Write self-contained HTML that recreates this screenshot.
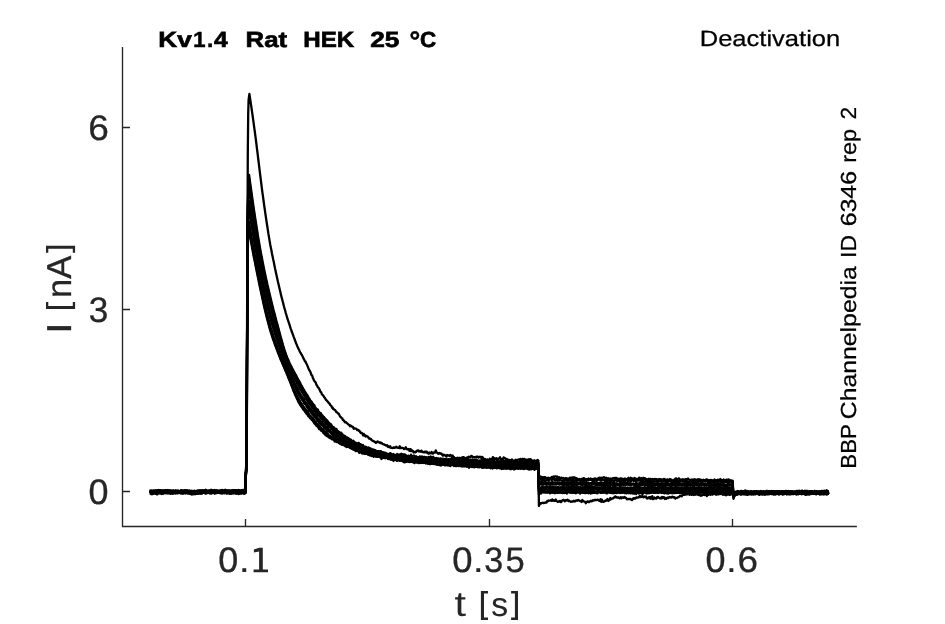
<!DOCTYPE html>
<html><head><meta charset="utf-8"><title>Kv1.4 Deactivation</title>
<style>
html,body{margin:0;padding:0;background:#fff;}
body{width:945px;height:624px;overflow:hidden;font-family:"Liberation Sans",sans-serif;}
svg{display:block;will-change:transform;}
svg text{font-family:"Liberation Sans",sans-serif;text-rendering:geometricPrecision;}
</style></head>
<body>
<svg width="945" height="624" viewBox="0 0 945 624">
<rect width="945" height="624" fill="#fff"/>
<g fill="none" stroke="#000" stroke-width="2.05" stroke-linejoin="round" stroke-linecap="butt">
<path stroke-width="2.3" d="M149.7 491.2l.7-.2l.7-.3l.7 .4l.7 .1l.7-.8l.7 .4l.7-.4l.7 .1l.7-.3l.7 .7l.7-.4l.7 .5l.7 0l.7 0l.7-.9l.7 .7l.7 .3l.7-.1l.7-.6l.7 .5l.7-.1l.7 .2l.7 .5l.7-.5l.7 .3l.7 .4l.7-.6l.7 .1l.7 .1l.7 .2l.7-.5l.7 .5l.7 .4l.7-1l.7 .9l.7-.2l.7 0l.7 .7l.7-.4l.7-.7l.7 .5l.7 .3l.7-.2l.7 .1l.7-.4l.7 .2l.7 .3l.7-.9l.7 .4l.7-.5l.7-.1l.7-.6l.7 .3l.7 .3l.7 .4l.7 .2l.7-.9l.7 .2l.7 .7l.7-.8l.7 .6l.7 .2l.7 .6l.7-.4l.7-.4l.7-.1l.7-.1l.7 .6l.7-.7l.7-.1l.7 .3l.7-.1l.7-.1l.7-.2l.7 .5l.7-.1l.7 .4l.7-.1l.7-.2l.7 .2l.7-.6l.7 .6l.7-.3l.7 .2l.7-.9l.7 .7l.7-.9l.7-.5l.7 .6l.7-.1l.7 .4l.7 .5l.7-1.2l.7 .4l.7 .4l.7 .3l.7 .1l.7 0l.7 .3l.7 0l.7-.5l.7 .4l.7 0l.7-.5l.7 .6l.7-.6l.7 .7l.7-.4l.7-.2l.7-.1l.7 .4l.7-.8l.7 .5l.7 .5l.7-1.1l.7 1.1l.7-.9l.7 1l.7-.8l.7 .4l.7-.2l.7-.5l.7 .9l.7 .4l.7-.4l.7-.2l.7 0l.7-.3l.7 .9l.7-.5l.7 .2l.7-.3l.7 .1l.7-.4l.7 1l.7-.5l.7 .6l0-18l.8-12l.4-17.9l.2-71.6l.4-119.4l.4-99.5l.4-39.8l.4-13.9l.8-6l.4 2.8l.6 3.9l.6 4l.6 4l.6 4.2l.6 4.3l.6 4.3l.6 4.4l.6 4.3l.6 4.6l.6 4.5l.6 4.8l.6 4.9l.6 4.8l.6 4.8l.6 4.8l.6 5.1l.6 4.9l.6 4.9l.6 4.7l.6 4.9l.6 4.5l.6 4.4l.6 4.3l.6 4.6l.6 4l.6 4.2l.6 4l.6 4.2l.6 3.8l.6 3.8l.6 4.1l.6 3.4l.6 3.8l.6 3.5l.6 3l.6 2.9l.6 3.4l.6 2.9l.6 3l.6 2.5l.6 3.1l.6 3.1l.6 2.7l.6 2.7l.6 2.7l.6 2.8l.6 2.8l.6 2.5l.6 2.6l.6 2.6l.6 2.4l.6 2.8l.6 2.3l.6 2.3l.6 2.2l.6 2.4l.6 2.5l.6 2.1l.6 2l.6 2.4l.6 1.9l.6 2.1l.6 2.1l.6 1.6l.6 1.8l.6 1.7l.6 2l.6 2l.6 1.6l.6 1.9l.6 1.4l.6 1.6l.6 1.8l.6 1.6l.6 1.5l.6 1.6l.6 1.9l.6 1.1l.6 1.7l.6 1.2l.6 1.5l.6 .9l.6 1.6l.6 1.1l.6 .9l.6 1.2l.6 .8l.6 1.2l.6 1.5l.6 1l.6 1.2l.6 1.4l.6 .2l.6 1.5l.6 1.1l.6 1.4l.6 1.3l.6 1.8l.6 1.2l.6 .9l.6 1.1l.6 1.7l.6 1.5l.6 .3l.6 2.3l.6 1l.6 1.8l.6 .7l.6 .7l.6 .7l.6 2.1l.6 .5l.6 1.6l.6 .6l.6 .6l.6 1.1l.6 1.4l.6 1.4l.6 .3l.6 1.8l.6 .8l.6 .4l.6 .8l.6 1.1l.6 .6l.6 1l.6 1.1l.6 .5l.6 .6l.6 .7l.6 .9l.6 .7l.6 .2l.6 1.6l.6 .4l.6 .4l.6 1.8l.6-.3l.6 1.7l.6 0l.6 .7l.6 .3l.6 .7l.6 1.3l.6 0l.6 .7l.6 .7l.6 .2l.6 1l.6 1.1l.6 1l.6 .4l.6 .9l.6 .2l.6 1.5l.6 .2l.6 .8l.6 1l.6 .6l.6-.4l.6 .7l.6 .6l.6 .3l.6 .8l.6 .3l.6 .3l.6 1.4l.6-1l.6 .8l.6 0l.6 .7l.6 0l.6 1.8l.6-.7l.6 .6l.6 0l.6 0l.6 .4l.6 1.1l.6-.3l.6 0l.6 1.1l.6 0l.6 1.4l.6 .7l.6-.3l.6 .3l.6 1l.6 1.5l.6-1.6l.6 1.7l.6-.4l.6 1.3l.6-.7l.6 .6l.6-.1l.6 .5l.6 1.2l.6 .6l.6-.1l.6 .5l.6 0l.6 1.2l.6 .2l.6 .5l.6 .3l.6 0l.6 .7l.6-.1l.6 1l.6-.2l.6-.6l.6-.5l.6 .4l.6 .2l.6 .5l.6 .3l.6-.5l.6 .9l.6-.3l.6 .6l.6 .5l.6 .2l.6 .1l.6 .5l.6 .2l.6 .5l.6-.1l.6-.3l.6 1.6l.6-.5l.6 .9l.6 .2l.6-1.2l.6 1.5l.6 .1l.6 .1l.6 .1l.6-.3l.6-.3l.6 .5l.6-.6l.6 .2l.6-.8l.6 .8l.6-.1l.6 .4l.6-.1l.6 .4l.6-1.8l.6 1.6l.6 .2l.6-.2l.6 0l.6-.1l.6 .5l.6 .9l.6-.2l.6-.7l.6-1l.6 1.1l.6 .9l.6 .1l.6-.2l.6-.2l.6 1.9l.6-.7l.6-1.1l.6 2l.6-.8l.6 .4l.6 .5l.6 1.3l.6-.7l.6 0l.6 .6l.6-.4l.6-1.2l.6 .2l.6-.7l.6 .1l.6 1.1l.6-.3l.6-.1l.6 .7l.6-1.2l.6 .9l.6 .6l.6-.2l.6 .5l.6-.3l.6-.6l.6 .9l.6-.6l.6-.2l.6 1.4l.6 .3l.6 .3l.6-1.1l.6 .9l.6-.1l.6-.3l.6-1l.6 1.5l.6 .2l.6-.8l.6-.5l.6 .3l.6-.1l.6-2.2l.6 1.7l.6 .6l.6 .3l.6 .8l.6-.2l.6-.6l.6 .2l.6 .6l.6-.4l.6 .7l.6 1l.6 .6l.6-1l.6 .1l.6 .3l.6 .7l.6-.2l.6 .9l.6-1.5l.6 .3l.6 0l.6 .3l.6 .5l.6-1.2l.6 .3l.6 .7l.6-.2l.6-.2l.6 1.3l.6 .1l.6 1l.6-.1l.6 1.3l.6-.6l.6 .7l.6-1.4l.6 .2l.6 .8l.6-1.1l.6 .8l.6-.2l.6-.4l.6-.1l.6-.5l.6 .8l.6-.9l.6 .2l.6 1l.6 .7l.6-.4l.6-1.1l.6 .2l.6 .8l.6-1.6l.6-.4l.6 .7l.6 .3l.6-.9l.6-.7l.6-.1l.6 1.2l.6-.2l.6 .2l.6 0l.6 .3l.6-.4l.6 .4l.6-.8l.6 .3l.6-.3l.6 1l.6-.3l.6-.4l.6-.2l.6 .6l.6 .8l.6-1.2l.6 .3l.6 .8l.6 2l.6-.7l.6-.3l.6 .8l.6 .9l.6-1l.6-.3l.6 1l.6-.6l.6-.2l.6-.9l.6 1.1l.6-.3l.6-.7l.6 0l.6-1.6l.6 1.6l.6-.8l.6 .8l.6 .1l.6-.4l.6-.4l.6 1.6l.6-.7l.6 .1l.6-.6l.6-.3l.6-.9l.6 2.2l.6-.7l.6 .6l.6 .9l.6-1.4l.6-1.5l.6 .5l.6 .2l.6 .7l.6 .9l.6-.8l.6 1.4l.6-.8l.6 1.5l.6-.7l.6-.3l.6 .3l.6-.2l.6 .2l.6-.8l.6 .7l.6 1.2l.6 0l.6-.6l.6-.4l.6-.7l.6 1.6l.6-1.3l.6-.2l.6-.1l.6-.2l.6-.2l.6 .7l.6-1l.6 .1l.6 1.9l.6-1.6l.6-.6l.6 .5l.6 .7l.6-1.1l.6 .8l.6 .8l.6-.6l.6-.3l.6 1.1l.6-1.2l.6 .1l.6-.3l.6 2l.6-2.2l.6 1l.6 .2l.6 .5l.6 .2l.6 .9l.6-1.6l.6 1.3l.6-.6l.6-.4l.6 .9l.6-1.3l.6-.3l.6 .8l.5 45.3l.7-1.4l.7-1.5l.7 .5l.7-.5l.7-.4l.7 .3l.7 0l.7-.1l.7-.4l.7-.1l.7 .2l.7-1.7l.7 .4l.7-.8l.7 .2l.7 0l.7-.5l.7 .6l.7-1.4l.7 1.4l.7-.6l.7 .6l.7 .1l.7-1.4l.7 1.2l.7 .7l.7 .6l.7-.7l.7 .3l.7-.7l.7 1.1l.7 0l.7-1.4l.7-.2l.7-.7l.7 .7l.7 1l.7-1.1l.7 .3l.7-.5l.7-.4l.7 1.3l.7-.6l.7 .8l.7 .3l.7 .4l.7-.5l.7 .3l.7-.4l.7-.6l.7 .8l.7-.2l.7-.8l.7 0l.7 .3l.7-.8l.7 .3l.7 .3l.7 .6l.7 .1l.7 .7l.7-2l.7 .7l.7 .7l.7 .2l.7 .2l.7 1.4l.7-1.4l.7-.2l.7-.3l.7 .9l.7 0l.7-1l.7-.4l.7 .5l.7-.2l.7-1l.7 .5l.7-.2l.7-.7l.7 .4l.7 .1l.7-.3l.7-.3l.7 .6l.7 .5l.7 .3l.7-1.8l.7 2.6l.7-2.1l.7 1.6l.7 .6l.7-.3l.7-.3l.7-.9l.7 .4l.7-.8l.7-1.1l.7 2.1l.7-1l.7 .1l.7-2.1l.7 1.2l.7-.5l.7 0l.7-.5l.7-.7l.7 .2l.7-1.3l.7 .3l.7 .8l.7 0l.7-.1l.7 .1l.7 .8l.7-.2l.7-1l.7 1.1l.7-.9l.7 0l.7 .5l.7-.9l.7 .7l.7 0l.7 .9l.7 .9l.7-.5l.7 .2l.7-.1l.7 .1l.7-.1l.7 .8l.7 .3l.7-1l.7-.9l.7 .5l.7-.7l.7 .6l.7-1.1l.7 0l.7 .2l.7-.5l.7 .1l.7-1.3l.7 1l.7-.7l.7 .7l.7-.9l.7 1.1l.7 .2l.7-.9l.7 .2l.7-.2l.7 1.8l.7 .2l.7-.5l.7-.8l.7 1l.7-1.3l.7 1.9l.7-1.4l.7-1.2l.7 3l.7-.8l.7-.9l.7 1l.7-.4l.7 .4l.7-1.4l.7-.3l.7 .9l.7 .1l.7 .7l.7-.8l.7 .8l.7-1.6l.7 1.1l.7-.9l.7 .3l.7 1.6l.7-1l.7 .8l.7-1l.7-.3l.7 .5l.7-.5l.7-.5l.7 .3l.7 .3l.7-.7l.7-.2l.7 .8l.7-.4l.7 .4l.7 1l.7-.6l.7-.1l.7-.1l.7-.6l.7-.1l.7-.7l.7-.5l.7 .3l.7 .2l.7-1l.7-.5l.7-1.1l.7 1.1l.7-.6l.7 .3l.7-.9l.7 .8l.7-1.2l.7 .4l.7 1.1l.7-1.6l.7 1.1l.7 .7l.7-.7l.7 .2l.7 .6l.7-.9l.7 .7l.7-.4l.7-.1l.7 .2l.7 .3l.7-.2l.7 .5l.7-.9l.7 1.6l.7-.3l.7-.1l.7-.8l.7 .3l.7 0l.7 .1l.7-.8l.7 .9l.7 .9l.7-2.3l.7 1.2l.7-.5l.7-.1l.7 .5l.7-1.2l.7 .5l.7 .5l.7-.7l.7-.2l.7 .3l.7-.3l.7 1l.7-1.3l.7 .9l.7-1l.7 1l.7-.4l.7-1.2l.7 1.4l.7-.5l.7 .3l.7 .9l.7-1.1l.7 .1l.7 1.2l.7-.6l.7 .8l.7-.6l.7-.7l.7 .4l.7 .6l.7 0l.7-.6l.7 .1l.7-.2l.7-.1l.7 1.4l.7-1.7l.7-.8l.7 .6l.7-.9l.7 .3l.7-1l.7 .3l.7 0l.7 .7l.7-1l.7 .5l.7-.2l.7-.6l.7 0l.7 .1l.7-.8l.7 .7l.7 0l.7-.1l.7-.5l.7 1.1l.7-.3l.7 .4l.7 .1l.7-.8l.7 .7l.7-.4l.7 0l.7 0l.7-.1l.7 .5l.7-.1l.7-.1l.7 .2l.7 .4l.7-.4l.7 .4l.7 .1l.7-.4l.7-.1l.7-.4l.7 1l.7-.1l.7-.6l.7-.2l.7 .5l.7-.6l.7-.3l.7 .3l.7-.1l.7 .3l.7-.7l.7 .8l.7-1.2l.7 .5l.7-.3l.7 1l.7-.6l.7 .3l.7 .3l.7 0l.7-.6l.7 .6l.7-.3l.7 .2l.7 .2l.7-.2l.7 .1l.7 0l.7 .1l.7 .2l.7 .4l.7-1.2l.7 .4l.7-.2l.7 .2l.7-.5l.7 .3l.7-.4l.7 .9l.7-.3l.7 0l.7 .6l.7-.2l.7-.5l.7 .6l.7-.1l.7-.3l.7 .5l.7-.2l.7-.7l.7 .1l.7 .7l.7-.1l.7-.8l.7-.1l.7 .4l.7 0l.7-.1l.7 .3l.7-.5l.7-.2l.7 1l.7-.6l.7 .1l.7 .3l.7 .2l.7-.9l.7 .2l.7-.5l.7 1.2l.7-.2l.7-.7l.7 .5l.7 .1l.7-.2l.7 .9l.7 0l.7-.6l.7 .2l.7-.8l.7 .6l.7 .1l.7 1.1l.7-1.1l.7-1l.7 .3l.7 .4l.7-.5l.7 .1l.7 .2l.7 .2l.7-.2l.7-.1l.7 .8l.7-.3"/>
<path d="M149.7 491.9l.7-.2l.7 .7l.7-.1l.7 .4l.7-.8l.7 1.1l.7-.1l.7-.2l.7-.1l.7 .1l.7-.3l.7 .3l.7 .2l.7 0l.7-.5l.7 .5l.7-.1l.7 .5l.7 .5l.7-.5l.7-.3l.7-.5l.7 0l.7 .1l.7 .9l.7-.5l.7 .2l.7 .1l.7 .3l.7 .4l.7-.7l.7 0l.7-.5l.7 .6l.7-.7l.7-.1l.7-.4l.7-.2l.7 .6l.7 .6l.7-1l.7 .9l.7 0l.7-.4l.7 .2l.7 .1l.7-.4l.7 .9l.7-1.2l.7 .8l.7 0l.7-.6l.7 .2l.7 .5l.7 0l.7 .4l.7 .2l.7-1l.7 1.5l.7 .4l.7-.3l.7-.1l.7-.9l.7 .2l.7-.2l.7 0l.7 .6l.7-.9l.7 .1l.7-.8l.7 .7l.7 0l.7-.3l.7 0l.7 .9l.7-1.1l.7 0l.7-.1l.7 .8l.7 .2l.7-.5l.7-.3l.7-.1l.7 .4l.7-.8l.7 .8l.7 .1l.7-.5l.7 .2l.7 .1l.7 .2l.7-.8l.7 .8l.7-.5l.7 0l.7 .5l.7-.3l.7-.3l.7-.3l.7 .3l.7 .8l.7 .2l.7-.4l.7 .4l.7-.7l.7 .3l.7 .2l.7-.7l.7 0l.7 .3l.7 .1l.7-.3l.7 .2l.7-.3l.7 .5l.7-.5l.7 .2l.7 0l.7-.1l.7-.2l.7 .3l.7 .5l.7 .1l.7 .3l.7-.9l.7 .6l.7 .2l.7 .3l.7-.3l.7-.2l.7 .4l.7-.2l.7-.7l.7 .6l.7-.3l.7-.9l.4-12.1l.7-7.9l.4-11.7l.2-47l.4-78.2l.4-65.3l.4-26.1l.5-9.1l.7-3.9l.4 2.3l.6 3.6l.6 3.4l.6 3.1l.6 3.5l.6 3.2l.6 3.2l.6 3.2l.6 2.9l.6 3l.6 3l.6 3l.6 3.1l.6 2.8l.6 3l.6 3.1l.6 2.8l.6 3l.6 2.6l.6 3l.6 2.8l.6 2.8l.6 2.7l.6 2.9l.6 2.5l.6 2.7l.6 2.5l.6 2.6l.6 2.4l.6 2.6l.6 2.2l.6 2.3l.6 2.2l.6 2.3l.6 2.1l.6 2l.6 1.9l.6 2l.6 1.8l.6 1.9l.6 1.6l.6 1.5l.6 2l.6 1.6l.6 1.5l.6 1.6l.6 1.5l.6 1.9l.6 1.4l.6 1.3l.6 1.8l.6 1.4l.6 1.7l.6 1.1l.6 1.3l.6 1.7l.6 1.3l.6 1.4l.6 1.1l.6 1.8l.6 1.5l.6 .9l.6 1.8l.6 1.3l.6 1.8l.6 1.3l.6 1.4l.6 1.7l.6 1.5l.6 1.4l.6 1.7l.6 1.4l.6 1.4l.6 1.9l.6 1.3l.6 1.4l.6 1.6l.6 1.1l.6 1.4l.6 1.4l.6 1.2l.6 1.3l.6 1.4l.6 .6l.6 1.3l.6 1l.6 .4l.6 1.3l.6 .6l.6 1.4l.6 .7l.6 .7l.6 .3l.6 1.3l.6 .5l.6 1.2l.6 .5l.6 .5l.6 1.3l.6 .6l.6 .3l.6 1.3l.6 .2l.6 .7l.6 .8l.6 .4l.6 .8l.6 .8l.6 1.3l.6 .7l.6 0l.6 1.4l.6 .1l.6 .8l.6 .9l.6 .4l.6 1.5l.6-.2l.6 .1l.6 1.6l.6-.1l.6 .7l.6-.5l.6 2.2l.6 .5l.6 .5l.6 .6l.6 .9l.6-.3l.6 .9l.6-.2l.6 .6l.6 1.1l.6 .1l.6-.4l.6 1.2l.6 .1l.6 0l.6 1l.6 0l.6-.3l.6 .6l.6 1.7l.6-1.3l.6 1.2l.6 .5l.6 .3l.6-.6l.6 .7l.6 .6l.6 .6l.6-.5l.6 .1l.6 1.3l.6 .4l.6-.1l.6-.3l.6 .8l.6 .1l.6 .7l.6-.9l.6 1l.6 .1l.6-.3l.6 .9l.6 .2l.6 .1l.6 .6l.6-.6l.6 .9l.6 .5l.6 .2l.6 .6l.6-.9l.6 .1l.6 1.1l.6 .4l.6 1.1l.6-.5l.6-.6l.6 1.2l.6-.6l.6-.2l.6 2.4l.6-1.1l.6 .5l.6 .1l.6 .9l.6-.6l.6 .7l.6-1.1l.6 0l.6 1.7l.6 .1l.6-.3l.6 .1l.6 .2l.6-.3l.6 1.3l.6-.4l.6 .1l.6 .1l.6 .5l.6-.1l.6 .3l.6-.8l.6 1l.6 1.1l.6-1.4l.6 .4l.6 .7l.6 .3l.6-.1l.6-1.1l.6 1.3l.6-.8l.6 .3l.6 .8l.6-.4l.6 .8l.6 1.4l.6-1.1l.6 .2l.6-.8l.6 .2l.6-.2l.6 .3l.6-.2l.6 .4l.6 .3l.6-.2l.6-.1l.6 .2l.6 1l.6-.1l.6 .6l.6 .2l.6-.7l.6 .7l.6-.9l.6 2.2l.6-.6l.6-.8l.6-.6l.6 1l.6-1.3l.6 .8l.6 1l.6-.2l.6-.3l.6 .9l.6-1.1l.6 .8l.6-.3l.6-.1l.6 1l.6-.8l.6 1.8l.6-1.3l.6 1.5l.6-1.9l.6 1.2l.6-1l.6 0l.6 .9l.6 .3l.6-1.1l.6 1.3l.6-1.1l.6 .6l.6 0l.6 .2l.6-1.3l.6 2l.6-.7l.6-.5l.6-.3l.6-.3l.6 .2l.6 1.2l.6-.4l.6-.4l.6 .6l.6 1.2l.6-1.1l.6-.2l.6 1.2l.6-.6l.6-.1l.6-.2l.6-.5l.6 .3l.6 .4l.6 0l.6 .4l.6 .3l.6 0l.6 .1l.6-.6l.6-.5l.6 1l.6-.2l.6 .3l.6 .2l.6-.4l.6 .1l.6 .6l.6 .1l.6-.4l.6 .7l.6-.4l.6-.3l.6 .5l.6 1.1l.6-1.3l.6 1.1l.6 .3l.6 0l.6-1.2l.6 1.7l.6-1l.6-.1l.6 0l.6 .5l.6-.3l.6 .1l.6 .8l.6-1.2l.6-.2l.6 1.2l.6-.1l.6 .3l.6-1.3l.6 1.3l.6-.2l.6 .8l.6-1.8l.6 .9l.6-.3l.6-.7l.6 .6l.6 1.2l.6-.8l.6-.2l.6 1l.6 0l.6-.1l.6-1l.6 .5l.6 .7l.6-.8l.6-.2l.6 .9l.6 .4l.6-1.5l.6-.8l.6 .8l.6 .5l.6 .4l.6 .5l.6-.4l.6-.3l.6 .5l.6-.6l.6 .7l.6-.4l.6 2l.6-1l.6-1l.6-.1l.6 .5l.6-.7l.6 .6l.6 0l.6 .9l.6-.7l.6-.3l.6-.3l.6 .1l.6 .6l.6 0l.6 .8l.6-1.1l.6 1.1l.6-.5l.6-.1l.6-1l.6 .5l.6 1.2l.6 .6l.6-.7l.6 .4l.6-.6l.6-.1l.6 0l.6 .9l.6-.2l.6-.4l.6-.1l.6 .6l.6-.1l.6-.8l.6 1.6l.6-.8l.6-.2l.6 1.1l.6-.2l.6-.6l.6 .2l.6-.9l.6 .3l.6-1l.6 2.1l.6-1.8l.6 1.5l.6-.8l.6 0l.6 .4l.6 .3l.6 .2l.6 .8l.6-.8l.6 .4l.6-.9l.6 .8l.6-.3l.6-.3l.6 .1l.6 0l.6 .2l.6 .2l.6-.6l.6-.1l.6 .8l.6-1.4l.6 .7l.6 1.3l.6-2.4l.6 1.2l.6 .8l.6-1.4l.6 2.4l.6-3l.6 2.3l.6-.1l.6-.4l.6-.6l.6 .3l.6-.7l.6 1l.6-1.3l.6 .6l.6 .8l.6-1.2l.6 .5l.6 .4l.6-.8l.6 1.6l.6-.6l.6-.9l.6 .9l.6-.4l.6 .2l.6 .4l.6-.4l.6 1l.6-1.1l.6 1l.6-.6l.6 .7l.6-1l.6-.1l.6-.3l.6 .9l.6 .2l.6 .8l.6-.5l.6-.6l.6-.3l.6 .5l.6-.2l.6 .8l.6-.3l.3 25.8l.7-2.7l.7 .3l.7 1l.7-1.4l.7-.4l.7 .5l.7 .2l.7 0l.7-.1l.7 .1l.7-.1l.7 .1l.7-.4l.7 .3l.7 .1l.7 .9l.7-.7l.7-.2l.7 0l.7-.1l.7 .4l.7-.1l.7 .6l.7-.3l.7-.6l.7-.2l.7 .8l.7-.2l.7-.1l.7-.7l.7-.2l.7 1l.7 .2l.7 .1l.7-1.1l.7 1l.7-.7l.7 .5l.7-.1l.7-.6l.7 .1l.7-.5l.7 .5l.7-.5l.7 1l.7-.1l.7 .3l.7-.4l.7-.3l.7 .6l.7-.4l.7 .2l.7 0l.7-.7l.7 .6l.7 0l.7 0l.7 .7l.7 .4l.7-1.1l.7 0l.7-.7l.7 1l.7 .1l.7-.9l.7 1l.7 .1l.7-.7l.7 .2l.7-.2l.7 1l.7-1.2l.7 .4l.7 1l.7-.9l.7 .4l.7-.3l.7-.4l.7 .5l.7 0l.7-.7l.7 .6l.7 .6l.7-.3l.7-1.3l.7 .2l.7-.4l.7 1.3l.7-.1l.7 .1l.7-.7l.7-.2l.7 .6l.7 .1l.7-.2l.7 .6l.7 .3l.7-.3l.7-.7l.7-.6l.7 .9l.7 .2l.7 0l.7 .1l.7-.3l.7 .7l.7-.5l.7 .1l.7-.5l.7 .3l.7 .4l.7-.7l.7-.5l.7 .3l.7 .5l.7-.6l.7 .8l.7-.8l.7-.1l.7-.4l.7 .4l.7 1l.7-.2l.7 .3l.7 .1l.7-.2l.7-.3l.7 .1l.7 .3l.7-.2l.7-.1l.7-.1l.7-.5l.7 .3l.7-.2l.7 1l.7-1.4l.7 .9l.7 1.3l.7-1.4l.7-.4l.7 .7l.7 .5l.7-.9l.7 .4l.7-.2l.7-.2l.7 1.8l.7-1.5l.7-.3l.7 0l.7 .2l.7 .2l.7 .2l.7-.2l.7-1l.7 .9l.7-.4l.7 .1l.7-.5l.7 .3l.7 0l.7 .1l.7-.4l.7 .6l.7 .1l.7-.7l.7 .2l.7-.3l.7 .9l.7-1.5l.7 1l.7-.6l.7 .3l.7 .8l.7-.8l.7 .3l.7-.4l.7 1.3l.7-.6l.7 .2l.7-1.3l.7 .3l.7 1l.7-.6l.7 .2l.7 .4l.7-.8l.7 1l.7-.3l.7 .2l.7-.6l.7 .6l.7-.7l.7 .6l.7-.1l.7 .1l.7-.2l.7 .1l.7-1.6l.7 1.7l.7-.6l.7 .1l.7 .1l.7-.5l.7 .5l.7 .5l.7 .3l.7-1l.7 0l.7 1.1l.7-1l.7 1.4l.7-1.1l.7-.4l.7 1l.7 .3l.7-1.5l.7 1.3l.7-.9l.7 .9l.7-1l.7-.6l.7 .9l.7 .2l.7 .5l.7-.3l.7-.4l.7-.3l.7-.2l.7 .1l.7-.2l.7 .4l.7-1l.7 1.3l.7-.1l.7 1.2l.7-.9l.7-.6l.7 .5l.7-.9l.7 .4l.7-.7l.7 1.6l.7-.4l.7-.8l.7 .6l.7 .4l.7-.2l.7-.1l.7-.6l.7 .1l.7 .3l.7 .4l.7-.8l.7-.1l.7 1.1l.7-1l.7 1l.7-.5l.7 .3l.7 .5l.7-.5l.7 .1l.7-.9l.7 .1l.7 .6l.7 .4l.7 0l.7 .4l.7-1l.7 0l.7 .3l.7-.4l.7-.1l.7-.5l.7 1l.7 4.6l.7-1.8l.7-.8l.7-.4l.7 0l.7-.3l.7-.1l.7-.2l.7-.4l.7 0l.7 .3l.7 .1l.7-.1l.7 0l.7 .1l.7 .2l.7 .1l.7-.2l.7-.1l.7-.3l.7 0l.7 .5l.7 0l.7-.4l.7-.2l.7 .6l.7-.9l.7 .1l.7 .2l.7-.6l.7 .4l.7 .6l.7-.3l.7 0l.7 .2l.7-.2l.7 .2l.7-.4l.7 0l.7 .4l.7 0l.7-.4l.7-.1l.7-1.1l.7 1.3l.7 .6l.7-.5l.7-.6l.7-.2l.7 .6l.7-.3l.7 .8l.7-.5l.7 .4l.7 .2l.7-1.3l.7 .8l.7-.4l.7-.3l.7 .3l.7 .1l.7 .6l.7-1.2l.7 .8l.7 .2l.7-.7l.7 .1l.7-.1l.7-.7l.7 .8l.7 0l.7 .4l.7 .8l.7-.7l.7 0l.7 .2l.7-1.2l.7 .3l.7 .1l.7-.3l.7 .5l.7-.4l.7 .8l.7 .2l.7-.2l.7-.5l.7 .3l.7 .1l.7-.6l.7 .6l.7 .3l.7-.2l.7 .4l.7 .1l.7-.7l.7 .3l.7-.5l.7 .7l.7-.5l.7 .4l.7-.1l.7 .3l.7-.4l.7-.6l.7 1.3l.7-.6l.7 .6l.7-.4l.7 0l.7 .4l.7-.8l.7 .3l.7-1l.7 .9l.7-.5l.7-.1l.7 0l.7 .1l.7 .5l.7-1.1l.7 .7l.7-.3l.7 .6l.7-.6l.7 .3l.7-.2l.7 .5l.7 .1l.7-.5l.7 .2l.7-.4l.7 .6l.7 .5l.7-.5l.7 .6l.7-1.2l.7 .1"/>
<path d="M149.7 492.6l.7-.6l.7 0l.7 .4l.7-.5l.7 .3l.7 .7l.7-.1l.7-.5l.7-.3l.7-.7l.7 .8l.7-.4l.7 .1l.7-.4l.7 .1l.7 0l.7 .3l.7 .5l.7-.2l.7-.8l.7 .5l.7-.3l.7 .4l.7 .4l.7-.2l.7-.5l.7 .3l.7-.4l.7-.1l.7-.3l.7 .4l.7 1l.7-.8l.7 1.2l.7 .1l.7-.7l.7-.1l.7-.3l.7 .6l.7 .2l.7-.5l.7 .3l.7-.3l.7-.4l.7 .3l.7 .3l.7 0l.7-.4l.7 .6l.7-.1l.7-.7l.7 1.4l.7-1.1l.7 .2l.7 .2l.7-.7l.7 .1l.7 .1l.7 .4l.7 .6l.7-.1l.7 .5l.7-.3l.7 0l.7-.3l.7-.2l.7 .4l.7-.7l.7 .1l.7 .9l.7-.5l.7-.4l.7-.1l.7 0l.7-.8l.7 .4l.7-.5l.7 .3l.7-.5l.7 .8l.7-.2l.7-.1l.7 .3l.7-.5l.7 .7l.7 .2l.7-.1l.7-.7l.7 .4l.7 .3l.7-.1l.7 .4l.7-1.1l.7 .4l.7-.2l.7 .4l.7 .2l.7 .1l.7-.3l.7 .3l.7-.4l.7 0l.7 1l.7-.3l.7-.7l.7 .1l.7 .4l.7 .3l.7-.2l.7-.2l.7-1l.7 .5l.7 .1l.7-.1l.7 .2l.7-.3l.7 .9l.7-.1l.7-.6l.7 0l.7 .9l.7-.8l.7 .6l.7 0l.7-.9l.7 .3l.7-.3l.7 .4l.7-.6l.7 .5l.7-.8l.7 .1l.7 .5l.7-.5l.7-.1l.7 1.1l.4-12.4l.7-7.9l.4-11.8l.2-47.5l.4-79.1l.4-66l.4-26.3l.5-9.3l.7-3.9l.4 2.3l.6 3.6l.6 3.3l.6 3.4l.6 3.5l.6 3.3l.6 3.2l.6 3.2l.6 3l.6 3.2l.6 3.1l.6 2.9l.6 3.2l.6 2.7l.6 3.1l.6 3.2l.6 2.7l.6 2.9l.6 3.1l.6 2.8l.6 2.7l.6 3l.6 2.6l.6 2.7l.6 2.7l.6 2.7l.6 2.5l.6 2.6l.6 2.4l.6 2.5l.6 2.4l.6 2.4l.6 2.1l.6 2.2l.6 2.1l.6 2.1l.6 2.2l.6 1.8l.6 1.8l.6 2l.6 1.6l.6 1.9l.6 1.6l.6 1.7l.6 1.7l.6 1.5l.6 1.7l.6 1.5l.6 1.6l.6 1.7l.6 1.9l.6 1.2l.6 1.4l.6 1.4l.6 1.7l.6 1.1l.6 1.5l.6 1.6l.6 1.2l.6 1.8l.6 1.3l.6 1.2l.6 1.5l.6 1.3l.6 1.5l.6 1.7l.6 1.5l.6 1.5l.6 1.5l.6 1.5l.6 1.6l.6 1.4l.6 1.6l.6 1.7l.6 1.5l.6 1.2l.6 1.4l.6 1.7l.6 1.4l.6 .7l.6 1.4l.6 1.3l.6 1.4l.6 .5l.6 1.4l.6 .7l.6 1.8l.6 .3l.6 .7l.6 .8l.6 1.3l.6 .8l.6 .2l.6 1.2l.6 .3l.6 .9l.6 .6l.6 .7l.6 1l.6 .6l.6 1.2l.6 .8l.6 .4l.6 .3l.6 1.5l.6-.4l.6 .8l.6 1.6l.6 .7l.6 .8l.6 .3l.6 .3l.6 .9l.6 1.1l.6 .2l.6 .7l.6 .4l.6 .7l.6 1.4l.6 .5l.6 0l.6 .6l.6 .8l.6 1.1l.6-.2l.6 1l.6-.3l.6 .9l.6 1.2l.6 .7l.6-.4l.6 .6l.6 1.2l.6-.1l.6 .3l.6 .9l.6 .2l.6 .9l.6 .2l.6-.3l.6 .6l.6 .3l.6-.3l.6 .6l.6 1.3l.6-1l.6 1.6l.6-.1l.6 .1l.6 .7l.6 .2l.6 .7l.6-.5l.6 .3l.6 .3l.6 1.3l.6-.2l.6-.7l.6 .6l.6 .1l.6 .6l.6 .4l.6 1.4l.6-1.9l.6 1.8l.6-.1l.6-.3l.6 .6l.6 0l.6 .6l.6 .7l.6-1l.6 1.7l.6-.6l.6 1.3l.6-.4l.6 .7l.6-.1l.6 .5l.6-.2l.6-.3l.6 1.1l.6 .2l.6 .9l.6-1.9l.6 1.2l.6 .8l.6-1.1l.6 .7l.6 1.5l.6-.2l.6-1l.6 1.5l.6 0l.6-.1l.6 0l.6 .1l.6-.4l.6 .3l.6 .9l.6-.1l.6 1.1l.6-1.2l.6-1l.6 1.2l.6 .6l.6 .2l.6 0l.6-.4l.6 1.3l.6-1l.6 .8l.6-.4l.6-.4l.6 1.6l.6-2.1l.6 1.1l.6 .7l.6-.4l.6 .9l.6-.3l.6-.1l.6 1.5l.6-1.1l.6 .1l.6-.4l.6 .3l.6 1l.6-.1l.6-.3l.6-.3l.6 .8l.6-1.3l.6 .9l.6 .2l.6-.2l.6 .7l.6-.4l.6 .1l.6 1.6l.6-.4l.6 .5l.6-.5l.6 .6l.6-.1l.6 .4l.6 .7l.6-1.4l.6 .4l.6-.1l.6-1.8l.6 1.1l.6 .9l.6 .4l.6-.7l.6 1l.6 .3l.6-.9l.6 1.2l.6 .2l.6-.8l.6-.8l.6 1.6l.6-.9l.6-.2l.6 .4l.6-.3l.6 1.1l.6-.2l.6 .4l.6-.3l.6-.7l.6 .4l.6 .7l.6-.8l.6 2.1l.6-1.6l.6-.1l.6 1.1l.6-.1l.6-.5l.6-.2l.6 .3l.6 .3l.6 .1l.6-.5l.6 .5l.6 .3l.6 0l.6-2.3l.6 1.3l.6 .1l.6 .4l.6 .4l.6 .6l.6-.1l.6-.4l.6 .1l.6 1l.6-1.4l.6 .7l.6 1l.6-.6l.6-1.4l.6 1.4l.6-.4l.6 .1l.6 .8l.6-.4l.6-.3l.6 .9l.6-.2l.6-.2l.6 0l.6-.1l.6-.2l.6 0l.6 .4l.6-.5l.6-.2l.6 1.8l.6-1l.6 .2l.6-.1l.6 0l.6 .1l.6 0l.6-.4l.6 1l.6-1.1l.6 1.1l.6-1.6l.6 .5l.6 1.2l.6-.6l.6-.3l.6 .7l.6-.8l.6 .7l.6-1.3l.6 1.1l.6 .1l.6 .8l.6 .1l.6-1.1l.6 1.6l.6-1.4l.6-.7l.6-.2l.6 2.4l.6-.9l.6-.3l.6-.1l.6-.2l.6 1.4l.6-.6l.6 1.2l.6-1.1l.6-1.2l.6 1.9l.6-.7l.6 0l.6 1.1l.6-1.1l.6 1l.6-.7l.6-.4l.6 .7l.6-.7l.6 1.1l.6-.1l.6-.6l.6 .6l.6 .1l.6-.6l.6 .9l.6-.7l.6 .7l.6-.8l.6 .7l.6 .3l.6-.7l.6 .3l.6 0l.6 .5l.6-.9l.6 .9l.6 .5l.6-.8l.6-1.1l.6 .9l.6 .8l.6-1l.6 .8l.6-.2l.6-.2l.6-.2l.6 .1l.6 .1l.6 .4l.6 .1l.6 0l.6-.4l.6 .1l.6 .3l.6-1l.6 .5l.6 0l.6 .4l.6-.1l.6-.1l.6-.4l.6 1.2l.6-.2l.6-1.2l.6 1l.6-.6l.6 1.5l.6-1.2l.6 .2l.6 .2l.6-.1l.6 .2l.6 1.1l.6-.8l.6 .4l.6 .2l.6-1.3l.6 1.6l.6-.5l.6 .1l.6-1.1l.6 1.1l.6-.2l.6-.7l.6 1.7l.6-1l.6-.5l.6 .2l.6 .5l.6 .2l.6-.2l.6 .4l.6 .1l.6-1.6l.6 .5l.6-.3l.6 .5l.6 .9l.6-.5l.6-.8l.6 .4l.6 .8l.6-1.1l.6 .3l.6 .3l.6-1.3l.6 1.6l.6-.2l.6 .2l.6-.8l.6 0l.6 .1l.6 .7l.6-.3l.6 .2l.6 .9l.6-.2l.6-1.2l.6 0l.6 1.2l.6-1.2l.6 .9l.6 .1l.6-1.2l.6 .1l.6 .3l.6-.7l.6 0l.6 .4l.6 .8l.6-.8l.9 26.6l.7-1.4l.7-.6l.7-.3l.7-.3l.7 .3l.7-.3l.7 0l.7-.3l.7 .5l.7 .3l.7-.2l.7 .3l.7-1l.7 .8l.7-.1l.7-.4l.7-.6l.7 1.2l.7-.5l.7 .7l.7-.5l.7 .5l.7-.4l.7-.6l.7 .7l.7-.1l.7 .5l.7-.7l.7 0l.7 .6l.7 .1l.7-.1l.7 0l.7-.3l.7 .2l.7 .1l.7-.1l.7 0l.7-.2l.7 1.3l.7-1.3l.7-.1l.7-.1l.7 .2l.7 .1l.7-.8l.7-.3l.7 1.1l.7-.8l.7 .8l.7 .2l.7 .5l.7 .2l.7-.8l.7-.5l.7-.2l.7 .2l.7 .4l.7-1l.7 1.1l.7-.1l.7 .3l.7-.5l.7 .2l.7-.3l.7 .2l.7-.8l.7 .7l.7 .8l.7-.7l.7 .1l.7-.8l.7 1.2l.7-1.1l.7 .5l.7-.4l.7-.5l.7 1l.7-.5l.7-.1l.7 .2l.7-.2l.7-.2l.7 .6l.7-.2l.7 .4l.7-.3l.7-.6l.7 .3l.7 .1l.7 .2l.7 .5l.7-1.2l.7 .8l.7-1.2l.7 .5l.7 .2l.7-.7l.7 .4l.7 .9l.7-.2l.7 0l.7-.4l.7 1.3l.7-1l.7-.4l.7 1.4l.7-.4l.7-.6l.7 .8l.7-.3l.7 .3l.7-.3l.7-.5l.7 1l.7-.4l.7-.7l.7 .1l.7 .9l.7-.7l.7 .1l.7 .4l.7-.1l.7-.9l.7 1l.7 .2l.7-.1l.7 .4l.7-.5l.7 .3l.7 .5l.7-1l.7 1l.7 .1l.7-.4l.7 .6l.7-.5l.7-.8l.7 .9l.7-.5l.7 0l.7-.2l.7 .4l.7-.4l.7-.9l.7 .7l.7 0l.7-.7l.7 .2l.7 .1l.7-.2l.7 .6l.7 .4l.7 .4l.7-.1l.7-.1l.7 .1l.7 .1l.7-1l.7 .6l.7-.1l.7-.2l.7-.1l.7 0l.7 0l.7-.5l.7 .9l.7-.4l.7 .1l.7 0l.7 .2l.7-.7l.7 .2l.7-.9l.7-.3l.7 0l.7 1.7l.7-1.4l.7 1.2l.7 .5l.7-.9l.7 1l.7 .3l.7-.5l.7 .6l.7-.8l.7-.6l.7 .4l.7-.4l.7-.4l.7 0l.7 1.5l.7-1.5l.7 .4l.7-.3l.7 .3l.7-.1l.7 0l.7-.5l.7-.2l.7 .3l.7 .7l.7 1l.7-.4l.7 .3l.7-.6l.7-.4l.7-.4l.7 .6l.7-1l.7 1.1l.7 .8l.7-.9l.7 .4l.7-.7l.7-.5l.7 .4l.7 0l.7 .8l.7 .3l.7-1.4l.7 .4l.7 .1l.7 .1l.7-.5l.7 .6l.7 .2l.7 0l.7-.9l.7 .5l.7-.8l.7 1.2l.7-.9l.7 .3l.7-.1l.7 0l.7-.2l.7-.4l.7 1.8l.7-.8l.7 0l.7 .9l.7-1l.7 .3l.7-.2l.7 .5l.7-.3l.7-.1l.7-.3l.7 .3l.7 .5l.7-1.6l.7 .9l.7-.2l.7 .1l.7-.9l.7 1.3l.7-.7l.7 .3l.7-.2l.7-.5l.7 .6l.7-.7l.7 .5l.7 .3l.7 .2l.7 .1l.7-.1l.7 1.1l.7-.8l.7-.9l.7 .3l.7 0l.7 .2l.7-.2l.7-.1l.7 1.1l.7 2.3l.7-1.5l.7-.3l.7 0l.7-.4l.7-.4l.7 0l.7 0l.7 .3l.7-.2l.7-.1l.7-.2l.7 0l.7-.4l.7-.6l.7 1l.7-.7l.7 .2l.7 .1l.7 1.1l.7-.8l.7 .8l.7-.2l.7-.2l.7 0l.7 .8l.7 0l.7 0l.7 .1l.7-.6l.7-.2l.7-.1l.7 .2l.7-.1l.7-.5l.7 1.1l.7-1.6l.7 .8l.7 .2l.7 .2l.7-.4l.7 0l.7 0l.7-.3l.7 .3l.7 .2l.7 .1l.7 .1l.7-1l.7 .6l.7-.3l.7 .2l.7 .2l.7 .1l.7-.9l.7 .1l.7 .1l.7 .4l.7 0l.7 .1l.7-.6l.7 .3l.7-.6l.7 .1l.7 .4l.7 0l.7-.4l.7-.1l.7 .9l.7 0l.7-.5l.7 1.3l.7-.8l.7-.1l.7 .3l.7-.3l.7 .8l.7-1.2l.7-.2l.7 .8l.7-.2l.7 .8l.7-1.1l.7 .5l.7 .4l.7 .2l.7 .2l.7-.2l.7 .4l.7-1.1l.7 .3l.7 .3l.7-.5l.7 0l.7-.1l.7-.1l.7-.4l.7 .2l.7-.3l.7 .6l.7-.6l.7 1l.7-.1l.7-.2l.7-.3l.7 0l.7 .7l.7-.2l.7 .2l.7-.6l.7 .9l.7-.6l.7 .6l.7-.7l.7 .5l.7 .4l.7-.5l.7 .1l.7 .5l.7-.4l.7 .3l.7-1.5l.7 .8l.7 0l.7-.6l.7 .1l.7 .8l.7-.6l.7 0l.7 .4l.7-.4l.7 .6l.7-.6l.7 .3l.7 .1l.7-.3l.7-1"/>
<path d="M149.7 491.6l.7 .5l.7-.2l.7-.4l.7 .1l.7 .2l.7-.4l.7 0l.7 .5l.7 .4l.7-.3l.7-.8l.7 1l.7-.1l.7-.4l.7 .1l.7 0l.7 .1l.7-1.2l.7 .8l.7-.2l.7-.1l.7 .2l.7 0l.7-.7l.7 .3l.7 .3l.7-.3l.7 .9l.7-.5l.7 .3l.7 .4l.7 .5l.7-.3l.7-.3l.7 .8l.7-.8l.7-.1l.7-.3l.7 .8l.7-.5l.7 0l.7-.1l.7-.1l.7-.3l.7-.2l.7 .6l.7 0l.7 .7l.7-.8l.7 .1l.7-.4l.7 .9l.7-1.1l.7 .8l.7 .4l.7-.7l.7 .5l.7-1.1l.7 .8l.7-.3l.7 .7l.7 0l.7-.1l.7 .4l.7-.2l.7-.5l.7 .1l.7-.5l.7 .5l.7 .8l.7-1l.7 .6l.7-.6l.7 .5l.7-.4l.7-.4l.7-.6l.7 .8l.7 .6l.7-.3l.7 .2l.7-.2l.7-.4l.7 1.2l.7 0l.7-.3l.7-.3l.7 .1l.7-.6l.7 .3l.7-.1l.7-.9l.7 .6l.7-.2l.7-.2l.7 .5l.7-.2l.7 .5l.7 0l.7-.5l.7-.4l.7 .1l.7 .6l.7-.4l.7-.4l.7 .3l.7 .2l.7-.1l.7 .2l.7-.5l.7 .6l.7-.2l.7 .1l.7-.7l.7 .7l.7-.3l.7 .8l.7 .2l.7 0l.7-.6l.7-.4l.7 .4l.7-.5l.7 .3l.7-.4l.7 .3l.7 .3l.7 .5l.7-.6l.7 1l.7 .3l.7-1.4l.7 .3l.7-.4l.7 .4l.7-.3l.7 .4l-.1-12l.7-8l.4-12.1l.2-48l.4-80.2l.4-66.8l.4-26.7l.5-9.3l.5-4l.4 2.5l.6 3.4l.6 3.4l.6 3.6l.6 3.6l.6 3.2l.6 3.2l.6 3.3l.6 3.3l.6 2.9l.6 3.2l.6 3.1l.6 3.3l.6 2.8l.6 3.2l.6 2.9l.6 2.9l.6 3.2l.6 2.9l.6 2.7l.6 3l.6 2.8l.6 2.7l.6 2.8l.6 2.7l.6 2.6l.6 2.6l.6 2.6l.6 2.5l.6 2.4l.6 2.5l.6 2.2l.6 2.4l.6 2.2l.6 2l.6 2.3l.6 2.1l.6 1.9l.6 1.7l.6 2.1l.6 1.7l.6 1.8l.6 1.7l.6 1.7l.6 1.8l.6 1.6l.6 1.6l.6 1.6l.6 1.6l.6 1.8l.6 1.7l.6 1.3l.6 1.6l.6 1.5l.6 1.5l.6 1.6l.6 1.5l.6 1.2l.6 1.5l.6 1.7l.6 1.3l.6 1.5l.6 1.3l.6 1.5l.6 1.5l.6 1.4l.6 1.5l.6 1.6l.6 1.6l.6 1.4l.6 1.7l.6 1.4l.6 1.4l.6 1.5l.6 1.5l.6 1.5l.6 1.4l.6 1.1l.6 1.3l.6 1.7l.6 1l.6 1.3l.6 1.1l.6 1.3l.6 .3l.6 1.6l.6 .4l.6 1.4l.6 1.1l.6 .1l.6 1.4l.6 .6l.6 .8l.6 .9l.6 .5l.6 .8l.6 1.3l.6 .8l.6 .3l.6 .4l.6 2l.6 .3l.6 .5l.6 .2l.6 .9l.6 1l.6 .3l.6 1.6l.6 .2l.6 .8l.6 .2l.6 .7l.6 .7l.6 1.1l.6 .5l.6 .6l.6 .9l.6 .7l.6 1.1l.6 0l.6 .3l.6 1l.6 1.2l.6-.2l.6 .8l.6 .4l.6 .8l.6 .5l.6 .1l.6 .7l.6 1l.6 .6l.6 .4l.6 .4l.6-.1l.6 .4l.6 1l.6-.6l.6 .9l.6-.5l.6 1.1l.6 .2l.6 .1l.6 1.2l.6-.3l.6 .5l.6 .4l.6 0l.6 1.4l.6-.6l.6 .6l.6-.4l.6 .7l.6 .3l.6 .3l.6 .2l.6 .6l.6 1l.6-.5l.6 .3l.6 .1l.6 1.8l.6-.2l.6-.3l.6 .4l.6-.4l.6 .6l.6 .4l.6 .2l.6-.2l.6 .2l.6 .9l.6 .2l.6-1l.6 1.4l.6 .8l.6-.7l.6 .7l.6-.6l.6 1.5l.6-.8l.6 .2l.6 .7l.6 1.6l.6-1.4l.6-.1l.6 1.1l.6 .1l.6 .9l.6-1.4l.6 0l.6 .9l.6 .5l.6 .3l.6 .5l.6-1.2l.6 .6l.6 .5l.6 .7l.6 0l.6-.3l.6-.1l.6 1.1l.6 .2l.6 1.2l.6-1.6l.6 1.1l.6-1.4l.6 .5l.6 .1l.6 .1l.6 0l.6 .3l.6 .3l.6 0l.6 .7l.6-.3l.6 .3l.6 .9l.6-.4l.6 .1l.6-.1l.6 .3l.6 .3l.6-.6l.6 1.3l.6 .3l.6 0l.6-.8l.6-.5l.6 .6l.6 .5l.6 .4l.6-.4l.6 .1l.6 1.2l.6-1.1l.6 1.1l.6 .1l.6-1.3l.6 1l.6-.4l.6-.1l.6-.5l.6 .3l.6 1.3l.6-.3l.6 .5l.6-.8l.6 .3l.6 .1l.6-.5l.6 0l.6 1.2l.6 0l.6-.6l.6 .6l.6 .4l.6 .6l.6-1.6l.6 .9l.6 1l.6-1.1l.6 .7l.6-2.2l.6 2.4l.6-.8l.6-.9l.6 1.5l.6 .2l.6 .1l.6 0l.6-.5l.6-.3l.6 .3l.6 .3l.6 .3l.6-.4l.6 .3l.6 .5l.6-.1l.6 1.1l.6 .1l.6-1.8l.6 .4l.6-.4l.6 0l.6 1.1l.6-.9l.6 0l.6 .6l.6 .6l.6-.7l.6 .2l.6 .8l.6-.2l.6 .2l.6 .3l.6-1.1l.6 .8l.6-.5l.6 1.1l.6 0l.6-1.2l.6 1.5l.6-1.4l.6 1.4l.6-.5l.6-.7l.6 0l.6 .6l.6 .2l.6-.3l.6 .7l.6-1.1l.6 .9l.6 0l.6-1l.6 1.2l.6-.8l.6-.7l.6 1.1l.6 .1l.6 .8l.6-.8l.6 1.2l.6 0l.6-.2l.6 .2l.6-.5l.6-.5l.6 .7l.6 .4l.6-.3l.6-.1l.6-.7l.6 1.3l.6-.2l.6-.9l.6 1.1l.6 .4l.6-.5l.6 .6l.6 .1l.6-1.3l.6 .6l.6 .2l.6 .3l.6 .4l.6-1.9l.6 1l.6 .4l.6 .2l.6 .4l.6-1.5l.6 .3l.6-.3l.6 1.1l.6-1l.6 1.5l.6-.2l.6-.2l.6-1.5l.6 1l.6 1l.6-1.5l.6 .6l.6 .3l.6 .7l.6-.4l.6 .1l.6-.4l.6 .4l.6-.1l.6 .6l.6-.5l.6 .7l.6-1.6l.6 2l.6-.9l.6 .7l.6-.6l.6 .4l.6 .4l.6-1.2l.6 .4l.6-.1l.6 .1l.6-1l.6 1l.6 0l.6-.4l.6 .5l.6-.7l.6 1.7l.6-.4l.6 .8l.6-1.7l.6-.1l.6 1l.6-1.2l.6 1.2l.6-.6l.6 .2l.6 .5l.6 0l.6 1.1l.6-.7l.6-1l.6 1.5l.6-1.4l.6 .8l.6-.7l.6 .2l.6 1.1l.6-1l.6-.1l.6 0l.6 .2l.6 1l.6-1.7l.6 0l.6 1.1l.6-1.3l.6 .8l.6 1l.6-.5l.6-.4l.6-.1l.6-.2l.6 .1l.6 .5l.6 .7l.6-.1l.6-.8l.6 .1l.6 .8l.6-1.4l.6 .7l.6 .1l.6-.5l.6 .2l.6 .7l.6-1.1l.6 .3l.6 .2l.6 .3l.6-1l.6 1.4l.6-.9l.6 .1l.6 .1l.6-.2l.6-.2l.6 1.3l.6-.6l.6 0l.6 .6l.6-1l.6 .8l.6-.4l.6-.3l.6 .9l.6-1.5l.6 1.2l.6-.8l.6 .9l.6 .8l.6-.6l.6-.7l.6 .4l.6-.1l.6-.6l.6 0l.6 .8l.6 .3l.6-1.3l.6 1l.6 .5l.6-.4l.6-.7l.6 1.4l.9 23.5l.7-.7l.7-.1l.7 .7l.7-.6l.7-.2l.7 .4l.7 0l.7-.6l.7 .2l.7 .5l.7-.1l.7-.5l.7 .5l.7-.2l.7 .7l.7-.8l.7 .7l.7-.2l.7-.8l.7 1l.7-.3l.7-1.1l.7 1.5l.7-1.5l.7 0l.7 .5l.7 .5l.7-.1l.7-.2l.7 .7l.7-.3l.7 .4l.7 .6l.7-1.1l.7-1.2l.7 .8l.7-.4l.7 .6l.7-.1l.7-.6l.7 0l.7 .4l.7 .1l.7-1.3l.7 1.7l.7-.4l.7-.1l.7 .1l.7-.6l.7 .4l.7 .6l.7 0l.7-.3l.7-.2l.7-.2l.7 1l.7-.2l.7-.4l.7-.8l.7 .6l.7-.3l.7 1.5l.7-.3l.7-.6l.7 .2l.7 1.5l.7-.7l.7-1.1l.7 .6l.7-.4l.7-.3l.7 .8l.7 1l.7-.4l.7-.6l.7-.3l.7 .3l.7 .4l.7-1.3l.7-.3l.7 1.7l.7-.8l.7 .6l.7-.6l.7 .4l.7-1l.7 .5l.7 .4l.7-.3l.7-.6l.7 .7l.7-.7l.7-.4l.7 .9l.7 .3l.7-.2l.7-1l.7 1l.7-.1l.7-.6l.7-.9l.7 1.6l.7 0l.7-.1l.7-1l.7 .2l.7 1.1l.7-.1l.7 .1l.7-.3l.7 .1l.7-.4l.7 .2l.7-.4l.7 .5l.7-.4l.7 .8l.7 0l.7-1l.7 1.2l.7-1.5l.7 .8l.7 .1l.7 .2l.7-1.6l.7 1.5l.7 .1l.7 .1l.7-1.7l.7 .8l.7 .4l.7-.1l.7 .9l.7-1l.7 .8l.7-.3l.7-1.1l.7 .3l.7 .3l.7 .4l.7 .4l.7-.6l.7 .4l.7-1.1l.7-.7l.7 1.3l.7 .5l.7-.5l.7-.4l.7 .5l.7 .8l.7-1l.7-.1l.7 0l.7 1.4l.7-1.1l.7 .3l.7 .3l.7-.1l.7-.8l.7 .9l.7-.1l.7-.2l.7 .3l.7-.9l.7 .4l.7-.2l.7 .7l.7-.5l.7 .4l.7-.7l.7 .4l.7-.1l.7 0l.7 0l.7-.1l.7-.1l.7-.9l.7 1.5l.7-.8l.7 .1l.7-.2l.7 1.1l.7-.9l.7 .9l.7 .4l.7 .2l.7-.3l.7-.2l.7-.9l.7 1.1l.7-.1l.7-.3l.7-.1l.7-.4l.7-.4l.7 .8l.7 .1l.7-1l.7 .9l.7-.2l.7 .3l.7-.3l.7 .5l.7-.1l.7-.1l.7-1.2l.7 1.1l.7-.4l.7-.6l.7 1l.7-1l.7 1l.7 .3l.7-.9l.7 .7l.7-.1l.7 0l.7-1l.7 .9l.7-.3l.7 .3l.7-.4l.7 .5l.7-.4l.7 .3l.7 .4l.7-.5l.7 .3l.7-.3l.7 .2l.7-.4l.7 .6l.7 .2l.7-.7l.7 .4l.7-.3l.7-.7l.7 .7l.7 .4l.7-.9l.7-.7l.7 1l.7-.4l.7 1.2l.7-.9l.7 .1l.7-.4l.7 .4l.7-.3l.7-.1l.7 .4l.7-.3l.7 .9l.7-1.2l.7 .6l.7-.3l.7-.3l.7 1.4l.7-1.8l.7 1.7l.7-1.4l.7 .7l.7 1l.7-2.1l.7 .4l.7 1.2l.7-.5l.7-.4l.7 .3l.7-.4l.7 .5l.7 .6l.7-.8l.7 .2l.7 .5l.7 .4l.7 4.9l.7-2.7l.7-.8l.7-.5l.7-.5l.7-.1l.7-.1l.7-.1l.7 .1l.7-.6l.7 .6l.7-.1l.7 .1l.7 .3l.7-.2l.7-.1l.7 .1l.7-1.2l.7 1l.7-.2l.7-.1l.7-.4l.7 .8l.7 .4l.7-.1l.7-.3l.7 .2l.7 .1l.7 .3l.7-.3l.7-.5l.7-.3l.7-.1l.7 .2l.7-.4l.7 .5l.7-.5l.7 0l.7 .4l.7-.2l.7 .3l.7-.9l.7 .9l.7-.2l.7-.2l.7 .2l.7-.1l.7-.2l.7 1l.7-.9l.7 .6l.7 .2l.7-.8l.7 .6l.7-.2l.7 .6l.7-.5l.7-.3l.7 .9l.7-.1l.7-.7l.7 .9l.7-.4l.7 .6l.7-.5l.7-.8l.7 .1l.7-.2l.7 .4l.7-.1l.7 .1l.7-.3l.7-.4l.7 .4l.7 .8l.7-.1l.7-.6l.7 .1l.7 0l.7 .1l.7-.6l.7 .8l.7-.4l.7 .3l.7-1.1l.7 1l.7 .5l.7-1.2l.7 1.2l.7-.5l.7-.4l.7-.5l.7 .7l.7-.2l.7 .2l.7-.4l.7 0l.7 .6l.7-.4l.7 .7l.7-.8l.7 .4l.7 .1l.7 1.2l.7-1.1l.7 .3l.7 .6l.7-.2l.7 .7l.7 0l.7-.5l.7 0l.7-1.2l.7 .2l.7 0l.7-.1l.7-.3l.7-.1l.7 .1l.7 .6l.7-.4l.7-.2l.7 0l.7 .2l.7-.3l.7 .1l.7-.4l.7 .8l.7 .1l.7-.1l.7 .1l.7-.1l.7 .7l.7-.9l.7-.4l.7 0l.7 .5"/>
<path d="M149.7 491.7l.7 .7l.7-.5l.7-.2l.7-.1l.7-.4l.7 .4l.7-.3l.7-.2l.7 .5l.7 1l.7 0l.7-.5l.7 .2l.7 .3l.7 .3l.7-.4l.7-.3l.7 .1l.7 .3l.7 .4l.7-1.2l.7-.7l.7 .8l.7-.4l.7 .1l.7 .2l.7-.4l.7-.4l.7-.1l.7 .7l.7-.5l.7 .4l.7-.6l.7 .4l.7-.4l.7 .4l.7-.1l.7 .6l.7 .3l.7-.3l.7-.2l.7 1.1l.7-.5l.7 .1l.7 .1l.7 .4l.7-.3l.7-.2l.7 .2l.7-.5l.7 0l.7 0l.7 .1l.7 0l.7 .1l.7 0l.7-.2l.7-.5l.7 1.1l.7 .2l.7-.3l.7 .6l.7 .1l.7-.2l.7-.9l.7 0l.7 .3l.7 .7l.7-1.1l.7 .1l.7-.5l.7 .1l.7 .2l.7-.7l.7-.3l.7 1.3l.7-.3l.7-.1l.7 .5l.7 .2l.7-1l.7 .7l.7 .2l.7-.5l.7 0l.7 .3l.7-.6l.7-.3l.7 .1l.7-.3l.7 .6l.7-.9l.7 1l.7-.9l.7 .7l.7-.5l.7 .5l.7 .4l.7 .1l.7 .2l.7-.3l.7 0l.7-.3l.7 0l.7-.4l.7 .5l.7-.1l.7 .3l.7-.2l.7 0l.7-.4l.7 .4l.7-.1l.7 .4l.7 .1l.7 .3l.7-.9l.7 1.6l.7-1.3l.7 .5l.7-.2l.7-1.2l.7 .7l.7 .7l.7-1.4l.7 1.2l.7-.5l.7 .4l.7 .3l.7-.7l.7 .7l.7-.2l.7-.2l.7 .8l.7 1l.7-1.2l.7 .1l.1-13l.7-8.1l.4-12.2l.2-48.7l.4-81.1l.4-67.6l.4-27.1l.5-9.5l.3-4l.4 2.3l.6 3.8l.6 3.5l.6 3.5l.6 3.5l.6 3.3l.6 3.6l.6 3.2l.6 3.1l.6 3.3l.6 3.2l.6 3.1l.6 3.1l.6 3.1l.6 3.1l.6 3.2l.6 3l.6 3l.6 2.9l.6 2.9l.6 3.1l.6 2.5l.6 3.1l.6 2.7l.6 2.7l.6 2.6l.6 2.6l.6 2.5l.6 2.5l.6 2.6l.6 2.3l.6 2.5l.6 2.4l.6 1.8l.6 2.3l.6 2.3l.6 2.1l.6 1.9l.6 2l.6 1.9l.6 1.9l.6 1.9l.6 1.6l.6 1.8l.6 1.5l.6 1.9l.6 1.6l.6 1.9l.6 1.7l.6 1.5l.6 1.5l.6 1.8l.6 1.6l.6 1.6l.6 1.6l.6 1.5l.6 1.2l.6 1.9l.6 1.2l.6 1.5l.6 1.7l.6 1.2l.6 1.4l.6 1.4l.6 1.7l.6 1.5l.6 1.6l.6 1.3l.6 1.5l.6 1.7l.6 1.3l.6 1.7l.6 1.3l.6 1.5l.6 1.4l.6 1.4l.6 1.3l.6 1.3l.6 1.4l.6 1.2l.6 1.4l.6 1.1l.6 1l.6 1.1l.6 1l.6 1.5l.6 .5l.6 .8l.6 1l.6 1.1l.6 .7l.6 .8l.6 .8l.6 1l.6 .9l.6 .8l.6 .1l.6 .9l.6 .2l.6 2l.6 .8l.6 .8l.6 .3l.6 1.1l.6 .3l.6 .7l.6 .2l.6 1l.6 .8l.6 1.2l.6 1l.6-.1l.6 1l.6 .7l.6 .3l.6 .3l.6 1l.6 .4l.6 1.1l.6 .7l.6 .6l.6 .7l.6 .8l.6 .1l.6 1.3l.6-.5l.6 1.3l.6 .7l.6 0l.6 .1l.6 1.5l.6-.1l.6 1.1l.6 .5l.6 .1l.6 .4l.6 .9l.6 .1l.6-.2l.6 .9l.6 .5l.6 .2l.6 .4l.6 .2l.6 .4l.6-.1l.6 .1l.6 1.6l.6-.5l.6 .7l.6-.5l.6 1.1l.6-.2l.6 2.2l.6-1.6l.6 .3l.6 1.3l.6 .4l.6-1.4l.6 1.5l.6 .6l.6-.8l.6 1.3l.6-.4l.6 0l.6 .7l.6 .2l.6-.2l.6 2.1l.6-1.1l.6 .2l.6 1l.6-.2l.6 1l.6-.5l.6 .6l.6 .1l.6 .2l.6 .1l.6 .3l.6 1.2l.6-1.1l.6 .4l.6 .3l.6 .7l.6 .1l.6 .5l.6-1.1l.6 1.1l.6 .1l.6 .1l.6 .4l.6-1.1l.6 1.4l.6 .1l.6-.7l.6 .9l.6 1.1l.6-.9l.6 .6l.6-.3l.6-.2l.6 .1l.6 .4l.6 1.1l.6 0l.6-.6l.6 1.1l.6-.5l.6 0l.6 .8l.6-.4l.6-.3l.6 1.6l.6-1.5l.6 1.4l.6-1l.6 1l.6-.1l.6 .1l.6-.8l.6 1.3l.6 .1l.6-.5l.6 .6l.6 .7l.6-.9l.6 .7l.6-.7l.6 1l.6 .2l.6 1.2l.6-.9l.6-.1l.6 .7l.6-1.1l.6 1.3l.6-.7l.6 .3l.6 1l.6-.4l.6 .7l.6-1.3l.6 .9l.6-.4l.6 .2l.6-.8l.6 1.5l.6-.3l.6-.8l.6-.1l.6 .3l.6 1.5l.6-.9l.6-.1l.6 .6l.6-.1l.6 .2l.6 .5l.6-.2l.6 .5l.6-1.2l.6 .8l.6-.1l.6 .3l.6 0l.6-.4l.6 .3l.6 .7l.6-.8l.6-.4l.6 1.2l.6 .2l.6-.7l.6 .2l.6-.5l.6 .3l.6 .8l.6 .1l.6-.6l.6-.2l.6-.7l.6 1.2l.6 .1l.6 .5l.6 .7l.6-.8l.6 .6l.6-1l.6 1.2l.6-.2l.6 .4l.6-.3l.6-.1l.6 .6l.6-1.3l.6 .9l.6 .2l.6-1.1l.6-.3l.6 .9l.6 .1l.6 .4l.6 .1l.6-.6l.6 .5l.6 .6l.6-.8l.6-.1l.6-.4l.6 1.3l.6 .6l.6-1.8l.6 1.2l.6 .1l.6-1l.6 .1l.6-.2l.6 .2l.6 .7l.6 .3l.6-.2l.6 .5l.6-.4l.6-.7l.6 1.5l.6-.2l.6-1l.6 1.4l.6-.7l.6-.1l.6 1l.6-2.3l.6 .5l.6 1.3l.6-.4l.6-.3l.6 1.3l.6-.4l.6-.9l.6 .6l.6 .8l.6 .6l.6-2l.6 1.3l.6-.4l.6-.8l.6 1l.6-.8l.6 .7l.6 1.2l.6-.6l.6 .1l.6 0l.6-.1l.6 .3l.6-1.3l.6 .6l.6 .7l.6-.9l.6 .2l.6 1.1l.6 .1l.6-1.1l.6-.2l.6 .9l.6-.1l.6-.6l.6 .8l.6-.2l.6-.1l.6 1.6l.6-.8l.6-.4l.6 .2l.6 1.2l.6-.8l.6-1l.6 .5l.6-.2l.6-.2l.6 .5l.6 .1l.6-.2l.6-.2l.6 .8l.6-1.4l.6 1.4l.6-.7l.6 .2l.6-1.4l.6 2.2l.6-2.1l.6 .5l.6 .9l.6-.6l.6 .2l.6-1l.6 .9l.6 .3l.6 .4l.6-.5l.6 .4l.6 .5l.6-.5l.6 .1l.6 1.5l.6-1.7l.6 1.1l.6-.6l.6 .9l.6-1.2l.6 .7l.6-.2l.6-.4l.6 .2l.6-.7l.6 .3l.6 0l.6 .7l.6-.4l.6-.6l.6 .5l.6 .1l.6-.4l.6 1.5l.6-.6l.6 .3l.6-1l.6 .4l.6 .6l.6-1.3l.6 .8l.6-.4l.6 0l.6 .4l.6-.7l.6 .9l.6-.7l.6 0l.6 1.6l.6-1.2l.6-.7l.6 1.6l.6-.7l.6-1.5l.6 2l.6 .7l.6-.3l.6 .6l.6-1.1l.6 .4l.6-.9l.6 .6l.6 .8l.6-.4l.6-.2l.6-1.2l.6 .8l.6-.7l.6 1.3l.6-.8l.6 .6l.6-.9l.6 1.7l.6-1.8l.6 .5l.6 1.4l.6-1.5l.6-.5l.6 .9l.6 .4l.6-.1l.6-1.6l.6 1.2l.6-1.3l.6 2.4l.6-.8l.6-.2l.6 .6l.6 0l.6-.9l.9 23.8l.7-1.4l.7 1.2l.7-1.4l.7 .8l.7 .1l.7-.4l.7 .5l.7-.2l.7-.5l.7-.1l.7 .1l.7-.5l.7 .1l.7 .2l.7 .4l.7 .5l.7 .1l.7-.6l.7 .4l.7-.1l.7 .5l.7-.5l.7-.1l.7-.3l.7 0l.7 .8l.7-1.7l.7 .6l.7-.2l.7 .8l.7 .4l.7-.9l.7-1.2l.7 1.8l.7 0l.7-.9l.7 .7l.7 .1l.7-1.1l.7 1.2l.7-.1l.7-.3l.7-.6l.7 .1l.7 .1l.7 .5l.7-.7l.7 1.2l.7-.6l.7-1.1l.7 1.8l.7-.6l.7-.4l.7 .4l.7-1l.7 1.1l.7-1.2l.7 .7l.7 1.2l.7 .1l.7-.7l.7-.3l.7 1.2l.7-.7l.7 .3l.7 .2l.7-1l.7 .9l.7-1.5l.7 1.9l.7-1.6l.7 .4l.7-.2l.7 .6l.7 0l.7-.3l.7 .3l.7 .1l.7-.3l.7-1.2l.7-.1l.7 0l.7 1.2l.7 0l.7-.1l.7 .3l.7-.4l.7-.4l.7-.3l.7-.1l.7 1.5l.7-.3l.7-1.2l.7 .6l.7 .4l.7 .6l.7-1l.7 .3l.7 .5l.7-1.5l.7 .6l.7 .4l.7-.3l.7 1.4l.7-.5l.7-.3l.7-.7l.7 .8l.7 0l.7-.6l.7 .1l.7-.4l.7 .6l.7 .6l.7 0l.7-.2l.7 .1l.7-.7l.7 0l.7 .9l.7-.5l.7-.6l.7 .6l.7 .1l.7 0l.7-.2l.7-.4l.7 .6l.7 .7l.7-.7l.7-.5l.7 .5l.7-.7l.7 .8l.7-.4l.7 .6l.7-.3l.7 .5l.7 .5l.7-1.2l.7-.4l.7 .8l.7-.2l.7-.1l.7-.3l.7 .5l.7-.3l.7-1.2l.7 1l.7 .3l.7 .4l.7-1l.7-.2l.7 1.1l.7-.9l.7 .2l.7 .3l.7 .3l.7-.2l.7-.7l.7 1l.7-.7l.7-.1l.7 1.5l.7-.5l.7-.9l.7 .2l.7 .2l.7-.4l.7-.3l.7 1.6l.7 0l.7-.4l.7-.5l.7 .3l.7 .1l.7-1.1l.7 .3l.7-.3l.7 .7l.7-.3l.7-.7l.7 .6l.7 1.1l.7-1.5l.7 .8l.7-.2l.7 .8l.7-.4l.7-.2l.7-.2l.7 .4l.7 .3l.7 .1l.7-.9l.7 1.4l.7-.9l.7-.3l.7 .5l.7-.4l.7 .1l.7 0l.7 .3l.7-.2l.7-.7l.7 1l.7-.5l.7 .7l.7-.4l.7 0l.7-.3l.7 .5l.7-.9l.7-.3l.7 .6l.7-1.5l.7 1.3l.7 .4l.7-.3l.7 .9l.7-.4l.7-.5l.7-.1l.7 .7l.7-.7l.7 .1l.7 .4l.7 0l.7 .6l.7-1l.7-.8l.7 1.3l.7 .4l.7-.7l.7 .8l.7 .2l.7-1.3l.7 .1l.7-.3l.7 .9l.7 .1l.7 0l.7-1l.7 .2l.7-.4l.7 0l.7 .1l.7-.1l.7 .7l.7 .3l.7 .1l.7-.4l.7-.2l.7 .3l.7 .3l.7-.5l.7 .2l.7-.2l.7-.1l.7 .3l.7-.6l.7 1.1l.7-1.3l.7 1l.7-.9l.7 1.4l.7-.3l.7-.8l.7 .2l.7-.4l.7 .5l.7 .2l.7 1.1l.7-2l.7 1.4l.7-.9l.7 .4l.7 5.2l.7-1.3l.7-1.1l.7-.3l.7 1.3l.7-1.2l.7 .3l.7 .3l.7-.3l.7-.6l.7 .2l.7-.4l.7 .6l.7-1l.7 .8l.7-.1l.7-.6l.7 1.5l.7-.9l.7 .8l.7-.6l.7-.1l.7 0l.7 1.2l.7-.7l.7 .4l.7-.6l.7 .2l.7-.2l.7-.4l.7 .3l.7-.4l.7-.4l.7-.4l.7 .4l.7 .2l.7-.8l.7 .5l.7 0l.7-.1l.7 .3l.7 0l.7 .1l.7 .3l.7 .5l.7-.8l.7-.5l.7 .9l.7-.6l.7 0l.7 1.1l.7-.3l.7-.5l.7-.1l.7-.4l.7 .5l.7-.6l.7 .3l.7 .2l.7 .6l.7 0l.7-1l.7 .9l.7-.1l.7 .6l.7-.5l.7 .4l.7-.4l.7 .3l.7-.3l.7 .1l.7-.3l.7-.3l.7 .7l.7-.6l.7-.5l.7-.2l.7-.3l.7 1.1l.7 .8l.7-1l.7 .6l.7-.5l.7 .8l.7-.5l.7 .1l.7 .4l.7 .2l.7-.1l.7-.7l.7-.5l.7 0l.7-.2l.7 1.4l.7-.8l.7 0l.7 0l.7 .8l.7-1.1l.7 .7l.7-.2l.7-.2l.7-.9l.7 .9l.7-.6l.7 .2l.7 0l.7-.1l.7 .5l.7-.7l.7 .5l.7 .3l.7-.2l.7 .3l.7-.6l.7 .9l.7-.7l.7-.3l.7 .8l.7 .3l.7-.7l.7 .2l.7 .1l.7 .5l.7-.2l.7 .3l.7-.8l.7 .9l.7-.3l.7-.6l.7 .6l.7-.3l.7 .3l.7-1l.7 .8l.7-.6l.7-.7"/>
<path d="M149.7 490.7l.7 0l.7 .6l.7 .2l.7-.8l.7 .2l.7 0l.7 .1l.7-.1l.7 0l.7 .1l.7-1l.7 .5l.7-.6l.7 .2l.7 .4l.7-.3l.7 .6l.7 .1l.7-.4l.7-.1l.7-.2l.7-.2l.7 .1l.7 .1l.7-.3l.7 .1l.7 0l.7 .6l.7-.1l.7 .7l.7-.3l.7 .4l.7-1.1l.7 .2l.7 .3l.7 .1l.7-.6l.7 .8l.7-.7l.7 .2l.7 0l.7 .9l.7-.3l.7-.2l.7-.9l.7 1l.7-.2l.7 .3l.7-.1l.7-.8l.7 .3l.7 .5l.7-.2l.7 0l.7-.3l.7 .2l.7-.1l.7 1l.7 0l.7-.2l.7 .2l.7-.2l.7-.6l.7 1.8l.7 0l.7-1.3l.7 0l.7 0l.7-.2l.7-.3l.7-.1l.7 0l.7-.1l.7 .1l.7 .2l.7-.3l.7 .4l.7-.8l.7 1.3l.7-1.2l.7 .4l.7 .1l.7-.1l.7-.2l.7 .5l.7-.8l.7 .3l.7 0l.7-.2l.7 .2l.7 .5l.7-.6l.7 .1l.7-.1l.7-.1l.7 .2l.7-.1l.7 .1l.7-.1l.7 .3l.7 .2l.7-1.1l.7 .9l.7-.8l.7 .5l.7 .1l.7-.3l.7-.5l.7 1.4l.7-.7l.7 .3l.7 .8l.7-.3l.7 .3l.7-.3l.7-.2l.7-.5l.7 .1l.7-.7l.7 .4l.7 0l.7-.2l.7 .5l.7-.6l.7 .8l.7 .1l.7-1l.7 .4l.7 .6l.7-.4l.7-.5l.7-.1l.7 .7l.7 .1l.7-1.1l.7 .8l.5-11.2l.7-8.4l.4-12.6l.2-50.7l.4-84.3l.4-70.4l.4-28.1l.5-9.8l.7-4.2l.4 2.3l.6 3.9l.6 3.9l.6 3.8l.6 3.6l.6 3.5l.6 3.6l.6 3.5l.6 3.4l.6 3.3l.6 3.5l.6 3.3l.6 3.3l.6 3.4l.6 3.2l.6 3l.6 3.3l.6 2.9l.6 3.3l.6 3l.6 2.9l.6 3l.6 3l.6 2.6l.6 2.7l.6 3l.6 2.5l.6 2.8l.6 2.4l.6 2.6l.6 2.4l.6 2.5l.6 2.3l.6 2.3l.6 2.4l.6 2.1l.6 1.9l.6 2.3l.6 2l.6 1.9l.6 2.1l.6 1.9l.6 1.9l.6 1.8l.6 1.8l.6 2l.6 1.9l.6 1.6l.6 2l.6 1.7l.6 1.7l.6 1.9l.6 1.6l.6 1.8l.6 1.6l.6 1.8l.6 1.7l.6 1.5l.6 1.7l.6 1.3l.6 1.6l.6 1.5l.6 1.8l.6 1.2l.6 1.6l.6 1.2l.6 1.7l.6 1.5l.6 1.4l.6 1.1l.6 1.8l.6 1.5l.6 1.5l.6 1.2l.6 1.1l.6 1.6l.6 1.5l.6 .9l.6 1.6l.6 1l.6 1.3l.6 1.3l.6 .8l.6 1.9l.6 .4l.6 1l.6 .7l.6 1.2l.6 .9l.6 .5l.6 .9l.6 1.5l.6 .7l.6 .1l.6 1l.6 1.4l.6 .9l.6 1.1l.6 .1l.6 1.4l.6 .5l.6 .7l.6 .9l.6 1.1l.6 .6l.6 .9l.6 .2l.6 .9l.6 .4l.6 1l.6 .7l.6 .7l.6 1.2l.6 .6l.6 .8l.6 .4l.6 1.1l.6 .3l.6 1l.6 .5l.6 .7l.6 .3l.6 .2l.6 .5l.6 2l.6 0l.6 .6l.6 .3l.6 .4l.6 2l.6-1.2l.6 1l.6 .5l.6 0l.6 .4l.6 .7l.6 .6l.6 .4l.6 1.1l.6-.5l.6 1.1l.6 .9l.6 .2l.6-.6l.6-.4l.6 2.1l.6 .2l.6-.1l.6 1.2l.6-.4l.6 .6l.6-.2l.6 .9l.6 0l.6 .3l.6 1.1l.6-.1l.6-.5l.6 1.4l.6 .4l.6-.5l.6 .5l.6 .6l.6 .1l.6 .5l.6 .6l.6-.2l.6 1.5l.6-1.1l.6 .4l.6 1.5l.6 .6l.6-1l.6 .2l.6-.1l.6 1.4l.6-.2l.6-.3l.6 .9l.6 .8l.6-.1l.6 1.1l.6-.3l.6-.2l.6 0l.6 .5l.6 .6l.6 0l.6 .3l.6-.2l.6 .4l.6 .5l.6-.5l.6-.5l.6 1.8l.6-.4l.6-.4l.6 .5l.6 0l.6-.6l.6 1l.6-.4l.6 1.1l.6 0l.6 .8l.6-.6l.6 .5l.6-.2l.6 .1l.6-.4l.6 1.3l.6-.3l.6-.3l.6 .6l.6-.2l.6-.2l.6 .7l.6 .6l.6-.6l.6-.5l.6 .5l.6 1.5l.6-1.3l.6 1.3l.6-.8l.6 .5l.6-.3l.6-.6l.6 .9l.6 1.5l.6-1.2l.6 .6l.6-.4l.6 .3l.6 .5l.6 .1l.6 1.2l.6-.9l.6-.1l.6-.1l.6-.3l.6-.1l.6 1.3l.6-1.4l.6 2l.6-.3l.6-.6l.6-.4l.6 .8l.6 0l.6 .7l.6-1.1l.6 .3l.6 .3l.6 .1l.6-.2l.6-.6l.6 .2l.6 .6l.6 .4l.6 .8l.6 .9l.6-.4l.6-.6l.6 .9l.6-1.1l.6-.1l.6 1.7l.6-1.8l.6 .5l.6 .1l.6 1.2l.6-1.2l.6 .9l.6-.7l.6-.3l.6 1l.6-.1l.6-.6l.6 .2l.6 0l.6 1l.6-.1l.6-.1l.6 .1l.6-.5l.6 .7l.6-.5l.6-.6l.6 .4l.6 .5l.6-.1l.6 .7l.6-1.6l.6 .9l.6 .4l.6-.7l.6 .8l.6-.3l.6-.4l.6 1.3l.6-1.4l.6 1.4l.6-.8l.6-.2l.6 0l.6 .1l.6 0l.6 .7l.6-1.2l.6 1.9l.6-.2l.6 .5l.6-1.3l.6-.8l.6 1.1l.6 .2l.6 .4l.6-.5l.6 .2l.6 .2l.6-.9l.6 1.9l.6-1.6l.6 .8l.6 .6l.6-1l.6 .5l.6 1l.6-1l.6 .8l.6-.4l.6-.2l.6 .2l.6-.6l.6 .1l.6 .7l.6-.3l.6 .2l.6-.9l.6 .9l.6 .6l.6-.3l.6-.1l.6-.3l.6-.1l.6 .8l.6 .6l.6-.8l.6 .7l.6-1l.6 .9l.6-1.3l.6 .8l.6-.6l.6 1.1l.6 0l.6-.9l.6 0l.6 .2l.6-.6l.6 .3l.6 0l.6 .9l.6 .4l.6-1.1l.6 0l.6 .3l.6-.5l.6 .4l.6 .6l.6-.2l.6-.2l.6-.2l.6 1.3l.6-1.1l.6 .5l.6-.6l.6 .2l.6 .4l.6-.1l.6 .5l.6-.3l.6-1l.6-.4l.6 2l.6-.9l.6 1.3l.6-.9l.6-.5l.6 1l.6-.5l.6 .2l.6-.5l.6 1l.6 .3l.6-.8l.6 1.4l.6-1.4l.6 .6l.6-1.1l.6-.1l.6 2.3l.6-.3l.6-.2l.6-1.6l.6 1.3l.6 0l.6-.1l.6 0l.6-.7l.6 .2l.6-.5l.6 .3l.6 .5l.6-.7l.6 .4l.6-.2l.6 .3l.6 .7l.6-.4l.6 .1l.6-1l.6 .7l.6 .7l.6-.9l.6 .3l.6-.4l.6 1.3l.6-1l.6-.2l.6 .7l.6 .1l.6-.2l.6 .4l.6-.4l.6-.1l.6-.1l.6 0l.6 0l.6 .6l.6-.4l.6 .3l.6 .3l.6-.2l.6-.8l.6 .2l.6-.1l.6-.4l.6 1.1l.6-.9l.6 0l.6 .1l.6 1.3l.6-.9l.6 .7l.6-.7l.6-.2l.6 .6l.6-.1l.6-.4l.6-.6l.6 .4l.6-.3l.6 .6l.6 .3l.6 .9l.6 .1l.6-.5l.6 .3l.6-.4l.6 1.5l.6-.6l.6 .6l.6-1.2l.6 0l.6 .4l.6-.6l.6 .1l.6-.7l.6 1.1l.6-.6l.8 23.5l.7-.9l.7 .4l.7-1.1l.7 .6l.7-.1l.7-.1l.7-.6l.7 1.1l.7 .4l.7-1.4l.7 .7l.7 .3l.7 .7l.7-1.2l.7-.3l.7 .2l.7 1l.7-1.1l.7 .2l.7 .7l.7-1.8l.7 .1l.7 1.7l.7-.1l.7-1.1l.7 1.1l.7-.3l.7 .2l.7-.6l.7 .2l.7-.2l.7 .3l.7-.3l.7 1l.7-.4l.7-1.1l.7 .9l.7 .6l.7-.5l.7 .2l.7-.6l.7 .3l.7-.7l.7 .9l.7-1.1l.7 1.4l.7-1.4l.7-.3l.7 1.4l.7-.1l.7 .1l.7 .2l.7-.2l.7-.4l.7 .5l.7 .1l.7 .1l.7 .7l.7-1.4l.7 .3l.7 .2l.7-.5l.7-.4l.7 .1l.7 .7l.7-.7l.7 .5l.7-.5l.7 .5l.7-.5l.7-.1l.7 .6l.7 .1l.7 .8l.7-1.5l.7 .9l.7 .5l.7-.2l.7-.9l.7-.3l.7 .2l.7 .4l.7-.3l.7 0l.7 .1l.7-.7l.7 .1l.7-.1l.7 0l.7 .7l.7 .2l.7 1.1l.7-.8l.7-.1l.7 .7l.7-1.1l.7 .4l.7 .4l.7-.1l.7-.2l.7-.4l.7-.6l.7 .5l.7-.3l.7 .7l.7-.4l.7 .5l.7-1.2l.7 1.2l.7-.8l.7-.3l.7 0l.7 .5l.7 1l.7-.2l.7-1l.7 .6l.7-.1l.7-.7l.7 .3l.7-.4l.7 .5l.7-1l.7 .8l.7-.1l.7 0l.7-.1l.7 1.2l.7-.7l.7 .2l.7 .1l.7 .2l.7 0l.7-.5l.7-.4l.7 .4l.7 .2l.7 .2l.7-.1l.7 .6l.7-.5l.7 .9l.7-.4l.7-.8l.7 .7l.7-1.9l.7 2.1l.7-.5l.7 0l.7-.8l.7 2l.7-1.3l.7 .1l.7 .7l.7-.5l.7-.4l.7 .9l.7-.9l.7 .9l.7-.5l.7 .5l.7-1.2l.7 1l.7-.5l.7 .7l.7-1.2l.7 1l.7-.6l.7-.1l.7-.7l.7 .5l.7 .1l.7-.7l.7-.1l.7 .2l.7 1.1l.7-.5l.7 .5l.7-.3l.7-.1l.7 .1l.7-.3l.7 .9l.7-.6l.7 0l.7-.8l.7 .9l.7-.3l.7 .1l.7 .8l.7-1.1l.7 .5l.7 .5l.7 .3l.7-.7l.7 .6l.7 0l.7-1l.7-.5l.7 .1l.7 1.1l.7-.4l.7-.7l.7 .2l.7 .1l.7-.2l.7 .2l.7 1.2l.7-1.4l.7 .4l.7-.3l.7 .1l.7-.1l.7 .4l.7-.1l.7 .5l.7 0l.7-.6l.7 1.3l.7-1.5l.7 .8l.7 .9l.7-1.5l.7 1.1l.7-.1l.7-.5l.7-1l.7 1.6l.7-.7l.7-.2l.7 .8l.7-.9l.7 .9l.7-.9l.7 .6l.7-.8l.7 .3l.7-.3l.7 .1l.7 .5l.7-.2l.7 .2l.7 .5l.7-.7l.7-.8l.7 .7l.7 .2l.7 .4l.7 .1l.7-.1l.7-.6l.7 .4l.7-1l.7 1.3l.7-.4l.7 0l.7-.4l.7 .2l.7-.3l.7 .6l.7-.9l.7 1.1l.7-.2l.7 .7l.7-1l.7 0l.7 .1l.7 0l.7-.1l.7-.4l.7 0l.7 .3l.7 .1l.7-.4l.7 0l.7 .5l.7 .5l.7 3.9l.7-1.3l.7-.8l.7 .1l.7 0l.7 .8l.7-1.2l.7 .2l.7-.1l.7 .5l.7-.8l.7 .2l.7-.2l.7-.2l.7-.1l.7 .2l.7 .8l.7-.3l.7 0l.7 0l.7-.2l.7 .3l.7-.1l.7 .4l.7 .2l.7-1l.7 .5l.7 .3l.7-.9l.7 .2l.7-.1l.7 .4l.7-.3l.7-.4l.7 .4l.7 .3l.7-.3l.7 .6l.7-.4l.7-.6l.7 0l.7 .3l.7 0l.7 .4l.7-.3l.7 .3l.7-.3l.7 .3l.7-.7l.7 0l.7 .4l.7-.3l.7 .1l.7 .2l.7 0l.7 .7l.7-.2l.7-.9l.7 .4l.7 .1l.7 .3l.7-.4l.7-.5l.7 .7l.7-.5l.7 .5l.7-.2l.7 .4l.7-.1l.7 .1l.7-.3l.7 .4l.7-.4l.7-.5l.7 .3l.7-.1l.7 0l.7 .1l.7-.6l.7 .7l.7-.3l.7-.1l.7 .7l.7-.6l.7-.2l.7 .9l.7 0l.7-.7l.7 .5l.7 .1l.7-.6l.7 .9l.7-.6l.7 .1l.7-1.1l.7 1l.7-.4l.7 .4l.7-.9l.7 1.1l.7 .2l.7 .3l.7-1.7l.7 1.4l.7 0l.7-1.2l.7 .8l.7 .3l.7 .3l.7-.8l.7 .3l.7-.2l.7 0l.7-.3l.7 .4l.7 .1l.7-.9l.7 1l.7-.7l.7 .2l.7 .5l.7-.2l.7-.1l.7 0l.7-.1l.7-.4l.7-.2l.7 .4l.7-.2l.7-.2l.7-.2l.7 .6l.7-.3l.7-.4l.7 .5l.7 .2l.7 .2"/>
<path d="M149.7 491.9l.7-.1l.7 .2l.7-.3l.7 .5l.7-1.3l.7 .7l.7-.1l.7-.5l.7-.1l.7 .7l.7-.4l.7-.5l.7 .2l.7 .9l.7-.7l.7 .7l.7 .2l.7-.4l.7 .3l.7-.7l.7 0l.7-.1l.7 .4l.7-.6l.7 .3l.7 0l.7 .4l.7-1.1l.7 .2l.7 .5l.7 .2l.7 .2l.7 0l.7 .6l.7-.5l.7-.1l.7-.7l.7 .5l.7-.2l.7 .1l.7-.2l.7 .6l.7 .4l.7-.8l.7-.5l.7 1.3l.7 0l.7-.4l.7 .1l.7 1l.7-1.4l.7-.3l.7 .2l.7 .5l.7-.3l.7 0l.7 .7l.7-.3l.7 .5l.7-.1l.7-.5l.7 .7l.7-.5l.7 .4l.7-.8l.7-.2l.7-.8l.7 .3l.7-.4l.7 1.1l.7-.5l.7 .1l.7-.9l.7 .3l.7 .5l.7-.4l.7 1l.7-.5l.7 0l.7-.4l.7-.1l.7 .5l.7-.4l.7 .3l.7 .3l.7-.3l.7-.2l.7 .1l.7 .3l.7 .1l.7-.2l.7-.5l.7 .8l.7-.3l.7 .1l.7 .1l.7 .6l.7-.5l.7 .1l.7 .4l.7-.7l.7 .4l.7 .2l.7-.9l.7 1l.7 .2l.7-.8l.7-.6l.7 .8l.7-.5l.7 .2l.7 .1l.7-.4l.7-.4l.7 .2l.7 .1l.7-.4l.7 .3l.7 .6l.7-.3l.7-.3l.7 .1l.7 .2l.7 .5l.7-.4l.7-.4l.7-.1l.7 0l.7 .2l.7 .7l.7-.2l.7 .1l.7-.4l.7 .3l.7 .2l.7-.3l.5-12.2l.7-8.5l.4-12.8l.2-51.1l.4-85.2l.4-71.1l.4-28.4l.5-9.9l.7-4.3l.4 2.6l.6 3.9l.6 3.7l.6 4l.6 3.6l.6 3.6l.6 3.5l.6 3.6l.6 3.6l.6 3.4l.6 3.4l.6 3.4l.6 3.2l.6 3.4l.6 3.2l.6 3.2l.6 3.2l.6 3.3l.6 3.1l.6 3l.6 2.9l.6 3l.6 3l.6 2.9l.6 2.5l.6 2.8l.6 2.8l.6 2.6l.6 2.6l.6 2.6l.6 2.3l.6 2.7l.6 2.2l.6 2.4l.6 2.3l.6 2.3l.6 2.1l.6 2.1l.6 2.1l.6 1.9l.6 2.1l.6 2.1l.6 1.7l.6 1.8l.6 2l.6 2l.6 1.9l.6 1.7l.6 1.8l.6 1.9l.6 1.8l.6 1.6l.6 1.9l.6 1.8l.6 1.7l.6 1.7l.6 1.7l.6 1.7l.6 1.3l.6 2.1l.6 1.4l.6 1.5l.6 1.4l.6 1.5l.6 1.7l.6 1.4l.6 1.3l.6 1.3l.6 1.6l.6 1.4l.6 1.5l.6 1.2l.6 1.5l.6 1.4l.6 1.3l.6 1.5l.6 1l.6 1.2l.6 1.4l.6 1.4l.6 1l.6 1.1l.6 1.4l.6 .9l.6 .9l.6 1.2l.6 .9l.6 1.2l.6 .8l.6 .7l.6 1l.6 .9l.6 1.2l.6 .8l.6 .5l.6 1.1l.6 1l.6 1l.6 .6l.6 1.3l.6 .2l.6 1l.6 .4l.6 .6l.6 1.1l.6 .9l.6 .7l.6 .7l.6 .5l.6 .6l.6 .9l.6 1l.6 .9l.6-.8l.6 2.1l.6 .8l.6 .8l.6 .4l.6 .7l.6 .3l.6 .8l.6 .8l.6 .1l.6 .7l.6 1l.6 0l.6 1.1l.6 0l.6 1.2l.6 .5l.6 .3l.6 .4l.6 .7l.6-.3l.6 1.3l.6 .7l.6 .9l.6-.3l.6 .6l.6 1.1l.6 .6l.6-.5l.6 1.1l.6 .4l.6 .1l.6-.2l.6 .4l.6 1.1l.6 1.1l.6-.8l.6 1.2l.6 .6l.6-1.2l.6 .7l.6 1.3l.6 .1l.6 .1l.6 .1l.6 .6l.6-.3l.6 1.9l.6-1.4l.6 0l.6 1.2l.6 .9l.6-.6l.6 .6l.6-.2l.6 .8l.6-.2l.6 .3l.6 .1l.6 .7l.6 1.4l.6-.7l.6 .4l.6 1.3l.6-1.2l.6 .1l.6 1.1l.6-.7l.6 1.1l.6 .7l.6-.9l.6 .5l.6 1.4l.6-1.2l.6 .5l.6 .7l.6 0l.6-.1l.6 1.4l.6-.9l.6 .6l.6-.2l.6 .3l.6-.3l.6 1.3l.6-.5l.6 1.1l.6-1.1l.6 .5l.6 .8l.6 0l.6-.2l.6 .3l.6-.5l.6 1l.6-1.4l.6 1.7l.6 .9l.6-.2l.6 .2l.6-.5l.6 .6l.6-.3l.6 .3l.6 .2l.6-1.5l.6 2.4l.6-.1l.6 .2l.6-.9l.6 1.1l.6 0l.6-1.5l.6 .4l.6 1.1l.6-.3l.6 .4l.6-.1l.6 1.1l.6-1.7l.6 .5l.6 .2l.6 0l.6 .6l.6 .3l.6-.5l.6 1l.6 .6l.6 .1l.6 .6l.6-.4l.6-.7l.6 1.1l.6-.5l.6 .6l.6-1.2l.6-1l.6 .5l.6 .9l.6 .2l.6-.4l.6 .7l.6-1.1l.6 .4l.6 1l.6-.4l.6 .2l.6 .7l.6 .1l.6-.9l.6 .4l.6-.7l.6 1l.6 .2l.6-1l.6 1.9l.6 .4l.6-.6l.6 .3l.6 .5l.6-.9l.6 .5l.6-.1l.6-1.1l.6 .4l.6 .3l.6 1l.6-.4l.6 .4l.6-.9l.6-.4l.6 2.1l.6 .3l.6-1.2l.6-.3l.6 .8l.6-1.1l.6 .6l.6-.5l.6 1l.6 0l.6-.4l.6 0l.6-.6l.6 .7l.6 1.2l.6-.9l.6 .9l.6-1.2l.6 .4l.6-.4l.6 .3l.6 .6l.6-1.5l.6 1.5l.6-.1l.6-.4l.6 .1l.6-.1l.6 .7l.6-.2l.6-.4l.6 .7l.6 .5l.6-.4l.6-.2l.6 .2l.6-.3l.6 .2l.6-.8l.6 1l.6 .6l.6-.7l.6-.4l.6 1l.6-.4l.6 0l.6 .1l.6 .3l.6-.4l.6-.4l.6 1.4l.6-1l.6-.4l.6 .5l.6 .6l.6-1.3l.6 1.6l.6-.8l.6 1.2l.6-.7l.6-.4l.6 .7l.6 .1l.6-.9l.6 .4l.6-.3l.6 .8l.6-1.3l.6 .7l.6-1.1l.6 1.7l.6-1.7l.6 .7l.6 .9l.6-.4l.6-.1l.6-.3l.6 .3l.6-.7l.6 1.3l.6 .4l.6 .1l.6-.5l.6 .8l.6-.4l.6 .3l.6-.2l.6-.1l.6-.4l.6-1l.6 1.9l.6-.6l.6 1.2l.6-2.1l.6 1.6l.6-1.1l.6 .7l.6-.3l.6 .6l.6-.1l.6 .4l.6-.4l.6 0l.6 .6l.6-.4l.6-.5l.6 .9l.6-.7l.6 .1l.6-.5l.6-.2l.6-1.3l.6 2.2l.6-1l.6 1.1l.6 .7l.6-1.7l.6 1.3l.6-.6l.6 .4l.6-.9l.6 .6l.6 .1l.6 .9l.6 .4l.6-1l.6-.4l.6 1.5l.6-1.4l.6 0l.6 .1l.6 .2l.6 .2l.6-.7l.6 .3l.6 1l.6-.1l.6-.5l.6 0l.6-.3l.6 .8l.6-.9l.6 .3l.6-.3l.6-.1l.6 .4l.6-.2l.6-.3l.6 .2l.6 .1l.6-.4l.6-.2l.6 .5l.6 .6l.6 .3l.6-.6l.6-.3l.6 .2l.6 1.3l.6-.5l.6-1l.6 .5l.6-.1l.6 .1l.6-.8l.6 .9l.6-.8l.6 .7l.6 1.3l.6-.2l.6-1.1l.6-.1l.6 .1l.6-.7l.6 .5l.6 .5l.6-.6l.6 1l.6-.5l.6-.3l.6 1.3l.6-.6l.6-.3l.6 .9l.6-.4l.6-1l.6 .5l.6-.2l.6-.4l.6 2l.6-.2l.6-1.7l.6 1l.6-1.3l.6 1.6l.6-.6l.6 0l.6 .9l.8 21.9l.7 0l.7-.6l.7-.8l.7-.3l.7 .1l.7 .2l.7 .1l.7-.1l.7 1l.7-.3l.7-.6l.7-.1l.7 .1l.7 .2l.7 .1l.7-.5l.7 .6l.7-.6l.7 .8l.7 .6l.7-1l.7 .5l.7-.4l.7-.2l.7 1.3l.7-.7l.7-.2l.7-.6l.7 .4l.7-.3l.7 .4l.7-.5l.7 .5l.7-.2l.7-.3l.7 1.3l.7-.5l.7-.7l.7-.3l.7 .3l.7 .1l.7-.2l.7-.5l.7 .3l.7 .4l.7 .3l.7-1l.7 .9l.7-.5l.7 .1l.7 0l.7 .2l.7 .7l.7 0l.7-.6l.7-.2l.7 1.2l.7 .1l.7-.9l.7-.4l.7 .7l.7 .2l.7-1l.7 1.2l.7-.8l.7 .6l.7-.7l.7 .2l.7-.2l.7 .3l.7 .4l.7-.9l.7 .1l.7 .4l.7-.6l.7 1l.7-1.6l.7 1.9l.7-1.5l.7 .7l.7 .4l.7-.5l.7-.7l.7 .6l.7 .3l.7 .2l.7 .2l.7 0l.7 .1l.7-1l.7 .9l.7-1.3l.7 .8l.7-.6l.7-.4l.7 1.4l.7-.6l.7 .5l.7-1l.7 0l.7 .5l.7-.1l.7 .6l.7-.3l.7 .2l.7-.2l.7 1.2l.7-.9l.7-.6l.7 1.1l.7 0l.7-.3l.7-.2l.7-.4l.7-.2l.7-.9l.7 .4l.7 .3l.7 .7l.7 .3l.7-.7l.7 0l.7 .8l.7-.7l.7 .7l.7-.2l.7-.8l.7 .8l.7 .1l.7-.7l.7 .1l.7-.2l.7 1.2l.7 .4l.7-.8l.7 .3l.7-1.4l.7 1.4l.7 .3l.7-.1l.7-1.2l.7 1l.7-.6l.7 .5l.7-.6l.7 .3l.7-.2l.7 .4l.7-.2l.7 .6l.7-.1l.7-.2l.7-.2l.7-.2l.7 .2l.7 .2l.7-.3l.7 .1l.7-.2l.7-.1l.7-.6l.7-.5l.7 1.1l.7 0l.7-.8l.7 1.5l.7-1.5l.7 1.1l.7-.4l.7 0l.7 .6l.7-.2l.7-.4l.7-.5l.7 .1l.7 .8l.7 .6l.7-.4l.7-.3l.7 .2l.7 .1l.7 .4l.7-1.2l.7 .8l.7-.3l.7-.7l.7-.1l.7 1l.7-.4l.7-.3l.7 .3l.7 .6l.7-.4l.7 .8l.7-1.1l.7-.2l.7 .5l.7-.3l.7 .3l.7 .9l.7 .1l.7-.5l.7-.2l.7-.5l.7 .2l.7 .6l.7-.1l.7-.5l.7 0l.7 .9l.7-.2l.7-.4l.7 .1l.7 .4l.7-.5l.7 0l.7-.9l.7 0l.7-.1l.7-.1l.7 1.1l.7 .1l.7-.6l.7 .6l.7 0l.7-.2l.7-.6l.7 1.4l.7 .1l.7-1.1l.7 1.2l.7-.9l.7-.3l.7 .1l.7-.7l.7 .7l.7-.8l.7 1.4l.7-.4l.7-.7l.7 1l.7-1.1l.7 .9l.7 .1l.7-.3l.7-.5l.7 .5l.7 0l.7 0l.7 .7l.7 0l.7 0l.7-1.1l.7 0l.7 .3l.7 .3l.7-1.2l.7 .7l.7 1.2l.7-1.4l.7 .2l.7 .1l.7 .5l.7-.2l.7-.1l.7-.6l.7 1l.7-.4l.7-.3l.7 .3l.7 .4l.7-1.1l.7 0l.7 .3l.7 0l.7-1l.7 1.3l.7 5.8l.7-1l.7-.5l.7-.4l.7 .2l.7-.5l.7 .1l.7 .4l.7 .1l.7 .2l.7-.2l.7 .4l.7 0l.7-.7l.7-.1l.7-.1l.7 1.1l.7-1l.7-.2l.7 .6l.7 .4l.7-.8l.7 .4l.7-.5l.7 .1l.7 .7l.7-.6l.7-.2l.7-.1l.7 .1l.7-.3l.7-.5l.7 0l.7 1.4l.7-1l.7 .8l.7-.6l.7 .8l.7-.2l.7-.3l.7 1l.7-1.2l.7 .1l.7-.3l.7 .1l.7 .1l.7-.3l.7 .3l.7 .6l.7-1.4l.7 .2l.7 .2l.7 .2l.7 .4l.7 .1l.7 0l.7-.2l.7 .8l.7-1l.7 .2l.7 .2l.7 .1l.7-.1l.7-.5l.7-.2l.7 .3l.7-.1l.7-.1l.7-.4l.7 1.1l.7-.3l.7 .4l.7-.8l.7 .4l.7 .1l.7 .2l.7 .1l.7 0l.7-.9l.7 .6l.7 .2l.7-.8l.7 .4l.7 .3l.7 .1l.7-.7l.7 .2l.7 .6l.7-.1l.7-.9l.7-.3l.7 .5l.7-.3l.7-.3l.7 .3l.7 .3l.7-.3l.7-.2l.7 .4l.7-.2l.7 1l.7 0l.7 .1l.7-.6l.7 .1l.7 .4l.7 .1l.7-.9l.7 .6l.7-.3l.7 .3l.7-.4l.7 .9l.7-.4l.7-.3l.7 .5l.7-.6l.7-.2l.7 .2l.7 .1l.7 .3l.7 .4l.7-.4l.7 .1l.7 .4l.7-.3l.7 .4l.7-.4l.7-.8l.7-.1l.7-.2l.7 .9l.7-.2l.7-.3l.7 0l.7 .3l.7-.1"/>
<path d="M149.7 490.8l.7-.2l.7 .3l.7-.3l.7 .3l.7 .1l.7 0l.7 .4l.7 .1l.7-.2l.7-.2l.7 .4l.7-.4l.7 .3l.7-.1l.7-1.1l.7 .4l.7 0l.7 .7l.7 .3l.7-1l.7 .2l.7 .3l.7-.3l.7 .4l.7-.1l.7-.1l.7 0l.7-.3l.7-.3l.7-.1l.7 .1l.7 .7l.7 .2l.7 .3l.7-.5l.7 .2l.7 .3l.7 .4l.7-.3l.7-.3l.7-.6l.7 .3l.7-.1l.7-.5l.7 .7l.7-1l.7 .6l.7-.5l.7 .1l.7-.3l.7 .2l.7 .3l.7-.4l.7 0l.7 .7l.7 0l.7 0l.7 0l.7 .8l.7-.7l.7 .4l.7 .2l.7-.7l.7-.3l.7 .5l.7 .4l.7-.2l.7-.5l.7-.1l.7 .3l.7-.2l.7-.7l.7 .8l.7 .1l.7-.3l.7 .5l.7 0l.7-.4l.7-.3l.7-.9l.7 1.1l.7-.1l.7 .6l.7 0l.7-.3l.7 .4l.7-.5l.7 .2l.7-.4l.7 .1l.7 .4l.7 0l.7-.6l.7 .5l.7 .6l.7-1.2l.7 .3l.7 .4l.7 .2l.7 0l.7 0l.7-.4l.7-.4l.7 .2l.7 0l.7 .4l.7-.5l.7 .9l.7-.7l.7 .3l.7-.1l.7-.3l.7 .6l.7 0l.7-.1l.7 .3l.7-.3l.7 1l.7-.5l.7-.8l.7-.7l.7 1.5l.7-.4l.7-.3l.7-.4l.7-.2l.7 0l.7 1.6l.7-.5l.7-.5l.7 .6l.7-1.2l.7 .9l.7-.2l.7-.6l.7 0l.7-.2l0-11.3l.7-8.7l.4-12.9l.2-51.7l.4-86.3l.4-71.8l.4-28.8l.5-10l.5-4.3l.4 2.5l.6 4.2l.6 3.7l.6 3.7l.6 4l.6 3.7l.6 3.6l.6 3.7l.6 3.4l.6 3.5l.6 3.4l.6 3.5l.6 3.3l.6 3.4l.6 3.4l.6 3.2l.6 3.3l.6 3.3l.6 2.9l.6 3.3l.6 2.8l.6 2.9l.6 3l.6 3l.6 2.6l.6 2.8l.6 2.7l.6 2.7l.6 2.6l.6 2.5l.6 2.6l.6 2.5l.6 2.3l.6 2.5l.6 2.1l.6 2.3l.6 2.4l.6 2.1l.6 2l.6 2.1l.6 2l.6 2l.6 2l.6 1.9l.6 2.1l.6 1.6l.6 2.1l.6 1.8l.6 1.8l.6 1.9l.6 1.9l.6 1.7l.6 1.9l.6 1.9l.6 1.6l.6 1.8l.6 1.6l.6 1.8l.6 1.8l.6 1.5l.6 1.6l.6 1.5l.6 1.6l.6 1.4l.6 1.6l.6 1.4l.6 1.4l.6 1.7l.6 1.2l.6 1.5l.6 1.3l.6 1.4l.6 1.5l.6 1.3l.6 1.2l.6 1.3l.6 1.3l.6 1.3l.6 1.1l.6 1.1l.6 .8l.6 1.7l.6 1.1l.6 1.4l.6 .8l.6 1.3l.6 1.1l.6 .5l.6 .8l.6 1.4l.6 .5l.6 1.1l.6 1.4l.6 .6l.6 1l.6 .1l.6 1.3l.6 1.2l.6 .1l.6 1.3l.6 .8l.6-.1l.6 2.1l.6 0l.6 1l.6 1.3l.6-.4l.6 1.5l.6 .5l.6 .9l.6 .4l.6 1.5l.6-.2l.6 1.3l.6 .8l.6 .4l.6 .7l.6 .6l.6 1.2l.6 .4l.6 .5l.6 .3l.6 1.1l.6 .7l.6 .4l.6 1.2l.6-.7l.6 2.4l.6-.6l.6 .2l.6 .3l.6 1.6l.6 .4l.6 .2l.6 .6l.6 .6l.6 .2l.6 1.2l.6 .2l.6 .1l.6-.2l.6 1.8l.6-.4l.6 .2l.6 1.5l.6 0l.6-.8l.6 .6l.6 .9l.6 0l.6 .9l.6 1.7l.6 .5l.6-1.1l.6 .8l.6 .4l.6-.2l.6-.3l.6 1.6l.6-.3l.6 .7l.6 .4l.6-.4l.6 1.5l.6-.4l.6 .3l.6 0l.6 .9l.6 .4l.6-.5l.6 .9l.6-.2l.6-.2l.6 .8l.6 .7l.6 .3l.6 .5l.6-.6l.6 .5l.6 .4l.6 .5l.6-.2l.6-.1l.6 0l.6 1.7l.6 0l.6-.6l.6 1.3l.6-.6l.6 .5l.6 .7l.6-.8l.6 .1l.6-.3l.6 1.3l.6 .1l.6 .5l.6 0l.6 0l.6 .8l.6-1l.6 1l.6 .2l.6-.1l.6 1.3l.6-.6l.6 .7l.6 0l.6-.5l.6 1.5l.6-.4l.6-.5l.6 0l.6-.4l.6 .7l.6 .1l.6 .4l.6-.2l.6 .6l.6-.2l.6-.7l.6 .7l.6 0l.6 0l.6 .8l.6 .8l.6-1l.6-.5l.6 1.1l.6 2l.6-1.9l.6 .5l.6-.1l.6 .8l.6 .4l.6-.9l.6 .9l.6-1.3l.6 .9l.6-.7l.6 1.1l.6-.4l.6 .6l.6-.7l.6 .9l.6 0l.6-.3l.6 0l.6-.1l.6 .5l.6 .6l.6-.3l.6 .2l.6 .7l.6-.8l.6 .5l.6 .3l.6-.1l.6 .1l.6-.2l.6 1.1l.6-1.1l.6-.1l.6 .6l.6 .7l.6 0l.6-.7l.6 .6l.6-.2l.6-.2l.6 .4l.6 .2l.6-.3l.6 1.2l.6-1.1l.6 1l.6 .4l.6 .1l.6-1l.6-.2l.6-.6l.6 1l.6 1.6l.6-2.3l.6 .1l.6 1.3l.6-.1l.6-1.3l.6 1.2l.6 .2l.6-1.1l.6 1.4l.6-1.4l.6 1.5l.6-.6l.6-.4l.6-.4l.6 .7l.6 .2l.6-.1l.6-.3l.6 .4l.6 .7l.6-1l.6 .5l.6 .4l.6-.3l.6 .3l.6 .3l.6-1l.6 .4l.6-1.8l.6 1.6l.6 .7l.6-1.1l.6 1.5l.6-2l.6 1.9l.6-.9l.6-.2l.6 .6l.6 .1l.6-.3l.6 0l.6 .5l.6 .7l.6-.2l.6 .7l.6-1.2l.6 .3l.6 0l.6 .3l.6 0l.6 .8l.6-.7l.6-.4l.6 .8l.6-1.3l.6-.3l.6 1.2l.6-.1l.6 0l.6 .5l.6-.7l.6 .2l.6 .4l.6 .3l.6 .1l.6-.3l.6 .1l.6-1.5l.6 2.1l.6-1.7l.6 .9l.6 1.4l.6-1.7l.6-.6l.6 1.9l.6-1.3l.6 .1l.6-.1l.6 .7l.6-.1l.6-.4l.6 .7l.6-1.1l.6 1l.6-.6l.6 .8l.6-.9l.6 .2l.6 1.2l.6-1.4l.6-.1l.6 1.1l.6-.5l.6 0l.6 .2l.6 1.2l.6-1.8l.6 .4l.6 .4l.6-.6l.6 .5l.6 .4l.6-.8l.6 1.2l.6-1.4l.6 .7l.6 .2l.6 1.9l.6-3l.6 1.3l.6 1.3l.6-1.7l.6 1l.6-.6l.6-.9l.6 1.2l.6-.6l.6 .7l.6-.9l.6 1.3l.6-1.8l.6 1.3l.6 .9l.6-.5l.6-.3l.6 .1l.6-.1l.6 1.8l.6-1.8l.6-.1l.6-.5l.6 .2l.6 .6l.6-.8l.6-.1l.6 .2l.6-.1l.6 .4l.6-.4l.6 .2l.6-.3l.6 1.2l.6-.6l.6-.3l.6 .6l.6 0l.6-.9l.6 .7l.6 1.2l.6-.6l.6 .4l.6-.9l.6-.4l.6 .5l.6 1.3l.6-1.3l.6 .1l.6 1l.6-.8l.6 0l.6 .4l.6-.2l.6-.2l.6 .3l.6-.6l.6 .4l.6 .3l.6-1l.6 .4l.6-.4l.6 1.1l.6 0l.6 .1l.6 .1l.6 .2l.6-.3l.6-1.1l.6 1l.6-1l.6 1.9l.6-1.2l.6 .2l.6-.9l.6 1.4l.6 .1l.6-1.7l.6 .4l.6 .2l.6 0l.6 1.2l.6 .4l.6-1.9l.6 1.3l.6-.7l.6 .9l.6-2.3l.6 1.2l.6 1l.6-.9l.8 21.9l.7 1.2l.7-.8l.7-.3l.7 0l.7-1.1l.7 .8l.7 .2l.7 .5l.7-1.1l.7 .6l.7-.2l.7 .2l.7-.2l.7 .5l.7-.3l.7-.9l.7 1.5l.7 .4l.7-1.6l.7 1l.7-1l.7 .2l.7 .9l.7-.8l.7 .6l.7-.6l.7 .4l.7-.5l.7 .8l.7 .4l.7-.6l.7-.6l.7 .2l.7-.3l.7 .8l.7 0l.7-.7l.7 .8l.7-.7l.7 .9l.7-.6l.7 .4l.7-1l.7-.1l.7-.3l.7 1.2l.7-.7l.7 1.2l.7-.6l.7 .4l.7-.9l.7 .3l.7 .4l.7 .2l.7-1.2l.7 .8l.7-.5l.7 .7l.7-.5l.7 0l.7 .4l.7 .3l.7-.8l.7 .7l.7-.9l.7 .5l.7-.7l.7 .8l.7-.6l.7 .2l.7 .4l.7-.9l.7-.1l.7 .6l.7 .2l.7-.1l.7-.4l.7 .7l.7-.3l.7 .6l.7-.7l.7 .6l.7 .2l.7-.6l.7 .2l.7 .5l.7 0l.7-.1l.7-.3l.7-.5l.7 .7l.7-.4l.7 .5l.7-1.3l.7 1.8l.7 .4l.7-1l.7-.8l.7 .3l.7 .4l.7-.3l.7-.8l.7 1l.7-.1l.7-.2l.7-.6l.7 .5l.7-.2l.7 .3l.7-.4l.7 1l.7-.4l.7 .1l.7 0l.7 .2l.7-.8l.7 1.2l.7-.6l.7-.2l.7-.1l.7 .4l.7-.1l.7 .4l.7-.5l.7 .3l.7 .2l.7-.4l.7 1.2l.7-1.1l.7 0l.7-.2l.7 0l.7 .2l.7 .4l.7-.6l.7-.4l.7 .6l.7-1.3l.7 1.1l.7-.1l.7 .2l.7-1l.7 .6l.7-.2l.7 .4l.7 .5l.7-.3l.7 0l.7 .7l.7-.5l.7-.8l.7 .6l.7 .6l.7 .2l.7-.3l.7-.1l.7-.7l.7 .5l.7-.4l.7 .3l.7-.3l.7-.1l.7 .3l.7-.1l.7-.2l.7 1l.7-.7l.7 .7l.7-.4l.7-1l.7 1.2l.7-1.1l.7 1.4l.7-.6l.7-.6l.7-.7l.7 .8l.7-.3l.7 1.3l.7-1.2l.7 .5l.7 .5l.7-.4l.7 .2l.7-.4l.7 .6l.7-.8l.7 .7l.7-.8l.7 .6l.7-.6l.7 .3l.7 .4l.7 .3l.7-1.3l.7 .5l.7-.1l.7 1l.7-.9l.7 .8l.7-.6l.7-.3l.7 .7l.7-.6l.7 .8l.7 0l.7 .1l.7-.9l.7 1.2l.7-.2l.7-1.3l.7 1.8l.7-.2l.7-1.2l.7 .7l.7-.8l.7 .7l.7 .1l.7 0l.7-.8l.7 .4l.7-.4l.7 .6l.7 .2l.7-.3l.7 .5l.7-.1l.7-.2l.7 .4l.7-1l.7 .6l.7-.9l.7 .8l.7-.2l.7 .7l.7-.6l.7-.1l.7 .3l.7 .1l.7 .2l.7-.6l.7-.3l.7-.1l.7 1.2l.7-1.1l.7 .3l.7-.3l.7 .9l.7-.8l.7 .9l.7-.9l.7 .4l.7 .3l.7 .1l.7-1l.7 .4l.7 .2l.7-.8l.7 1.2l.7-.1l.7 0l.7-.8l.7 .7l.7 .1l.7 .3l.7-.8l.7 .6l.7 .6l.7-1.2l.7 0l.7 .1l.7-.6l.7 .6l.7 .9l.7-1.2l.7 .4l.7 .7l.7 6.7l.7-2.2l.7-.2l.7-1.4l.7 0l.7-.3l.7-.3l.7 .1l.7 .8l.7-.3l.7 .1l.7-.9l.7 .4l.7 .3l.7 .2l.7 .2l.7-.3l.7 .2l.7 .3l.7-1.3l.7 1.5l.7-.6l.7 .2l.7-.1l.7-.5l.7 0l.7 .6l.7-.1l.7 .4l.7-.5l.7 .8l.7-.8l.7 .9l.7-.7l.7 .4l.7 0l.7-.8l.7 0l.7 .5l.7 .5l.7 0l.7-.4l.7-.1l.7-.6l.7 .4l.7 .4l.7-.6l.7-.2l.7-.6l.7 .7l.7-.4l.7 .5l.7 .4l.7-.6l.7 .1l.7-.3l.7 .5l.7-.6l.7 .3l.7 .9l.7-1l.7 .2l.7-.1l.7 .7l.7-.4l.7-.3l.7 .2l.7 .7l.7-.3l.7-.2l.7-.2l.7 .4l.7 .1l.7-.3l.7-.6l.7-.4l.7 .3l.7 .8l.7-.6l.7 .2l.7 .4l.7-.2l.7-.2l.7 1l.7-.1l.7 .1l.7-.1l.7 .1l.7-.4l.7-.5l.7-.7l.7 .4l.7-.5l.7 .5l.7-.2l.7 .2l.7 .2l.7-.2l.7 .2l.7-.2l.7 .1l.7 .3l.7-.3l.7 .7l.7 0l.7-.9l.7 0l.7 .6l.7 0l.7-.1l.7 .3l.7-.7l.7-.2l.7 .7l.7 .3l.7 0l.7-.9l.7 .3l.7-.1l.7 .9l.7-.4l.7-.3l.7 .1l.7-.3l.7 .2l.7 0l.7-.2l.7 .4l.7-.1l.7 0l.7 .5l.7-.5l.7-.4l.7-.9l.7 .4l.7 .5l.7-.4"/>
<path d="M149.7 493.5l.7 0l.7 .6l.7 0l.7 .1l.7-.2l.7-.5l.7 0l.7 .1l.7 .5l.7 .3l.7 .1l.7-1.2l.7 0l.7 .3l.7 .1l.7-.5l.7 1l.7-.5l.7-.7l.7-.1l.7-.1l.7-.3l.7 .3l.7 .3l.7 .2l.7-.1l.7 .1l.7-.7l.7-.8l.7 1.8l.7-.4l.7-.2l.7 .6l.7-1l.7 .1l.7 0l.7 .9l.7-.2l.7-1l.7 1.1l.7-.6l.7 .1l.7-.4l.7 .9l.7-.3l.7 .3l.7-.8l.7 .6l.7-.3l.7 0l.7-.2l.7 .1l.7-.3l.7 .2l.7 .1l.7 .3l.7-.4l.7 .3l.7 .2l.7-.3l.7 .6l.7 .1l.7 .1l.7 .3l.7 .1l.7-.3l.7-.3l.7 .1l.7-.6l.7 0l.7 .5l.7-.2l.7 .4l.7-.9l.7-.3l.7 .4l.7-.4l.7-.1l.7 .8l.7 .1l.7-.4l.7-.3l.7 .5l.7-.1l.7-.3l.7 .8l.7-.1l.7 .3l.7-.6l.7-.2l.7 0l.7-.7l.7 1.4l.7-1.8l.7 .3l.7 .4l.7-.5l.7 .7l.7-.1l.7 .2l.7 .2l.7-.1l.7 .3l.7 0l.7 0l.7 0l.7-.2l.7 .1l.7 .1l.7 .1l.7-.2l.7 0l.7-.5l.7 1.1l.7-.9l.7 1.1l.7-.6l.7 .1l.7-.1l.7-.2l.7-.1l.7 .2l.7 .3l.7 .1l.7-.6l.7 .5l.7 .5l.7-.5l.7-.5l.7 .4l.7-.2l.7-.2l.7-.9l.7 .9l.7-.7l.7 1.2l.7-.3l.1-14.5l.7-8.7l.4-13.1l.2-52.3l.4-87.3l.4-72.7l.4-29.1l.5-10.2l.4-4.3l.4 2.6l.6 4.1l.6 3.7l.6 4.1l.6 3.7l.6 3.8l.6 3.7l.6 3.8l.6 3.5l.6 3.6l.6 3.4l.6 3.7l.6 3.4l.6 3.4l.6 3.4l.6 2.9l.6 3.6l.6 3.2l.6 3.2l.6 3l.6 3.2l.6 2.9l.6 2.9l.6 2.8l.6 3l.6 2.6l.6 2.8l.6 2.8l.6 2.5l.6 2.6l.6 2.4l.6 2.6l.6 2.5l.6 2.4l.6 2.3l.6 2.2l.6 2.3l.6 2.2l.6 2l.6 1.9l.6 2.5l.6 2l.6 1.9l.6 2.1l.6 1.7l.6 2.2l.6 1.8l.6 2l.6 1.8l.6 1.9l.6 2l.6 1.9l.6 1.8l.6 1.9l.6 1.7l.6 2l.6 1.6l.6 1.7l.6 1.7l.6 1.5l.6 1.7l.6 1.5l.6 1.6l.6 1.5l.6 1.5l.6 1.3l.6 1.5l.6 1.4l.6 1.6l.6 1.1l.6 1.4l.6 1.7l.6 1.2l.6 1l.6 1.8l.6 1.3l.6 1.3l.6 .6l.6 1.6l.6 1l.6 1.3l.6 .8l.6 1.9l.6 .5l.6 1.3l.6 1.2l.6 .9l.6 1l.6 .7l.6 1.2l.6 .8l.6 .3l.6 1.9l.6 .4l.6 1l.6 .9l.6 .5l.6 .9l.6 .7l.6 1.5l.6 1.1l.6 .4l.6 .4l.6 1.6l.6 .2l.6 .4l.6 .6l.6 1.5l.6 1.2l.6 .1l.6 .6l.6 .9l.6 .5l.6 .8l.6 1l.6 .4l.6 1.3l.6 0l.6 1.3l.6 .5l.6 .4l.6 .7l.6 .6l.6 1.4l.6-.3l.6 1.4l.6 .5l.6 .1l.6 1.4l.6-1.1l.6 1.6l.6 .5l.6 .5l.6 .9l.6 0l.6 .6l.6 1.1l.6-.1l.6 .1l.6 1.1l.6 .2l.6 .2l.6 1l.6-.2l.6 .4l.6 .7l.6 .5l.6 .5l.6-.2l.6 1.7l.6-.1l.6 .2l.6 .4l.6-.9l.6 2l.6-.6l.6 1.1l.6-.5l.6 1.4l.6-.4l.6 .5l.6 1.2l.6 0l.6-.9l.6 .7l.6 .7l.6 .2l.6 .8l.6-.4l.6-.3l.6 .8l.6 .7l.6 .7l.6 .3l.6 .6l.6-.2l.6-.1l.6 .8l.6-.2l.6 .1l.6 .3l.6 .9l.6 .6l.6 .2l.6-1.3l.6 1.6l.6-.8l.6 .5l.6 .8l.6-.9l.6 .3l.6 .3l.6 1.4l.6 0l.6-.8l.6 .6l.6 .2l.6 .3l.6-.4l.6 1.5l.6-.7l.6 .9l.6-1.2l.6 1.3l.6 .1l.6 .8l.6-1.9l.6 1.8l.6 .4l.6-.4l.6 .9l.6 .6l.6-.5l.6 .1l.6 .6l.6-.3l.6 .6l.6-.3l.6-.6l.6 .1l.6 1.3l.6 0l.6-.5l.6 .6l.6 1l.6-1.7l.6 .6l.6 1l.6 .1l.6-.9l.6 .3l.6 .7l.6 .8l.6-.6l.6-1.2l.6 2l.6-.5l.6-.1l.6-.3l.6 1.6l.6-.5l.6 .1l.6-.1l.6 .1l.6 .4l.6 .5l.6-1.4l.6 .7l.6-.3l.6 1.2l.6-1.1l.6-.7l.6 .9l.6-.1l.6 .1l.6 .3l.6-.4l.6-.5l.6 2.2l.6-1.1l.6-.3l.6 1.1l.6 .4l.6-1.7l.6 .9l.6 .5l.6-.5l.6 .8l.6-1l.6 .6l.6 .3l.6 .2l.6-.2l.6-.3l.6 .4l.6-1l.6 2.6l.6-1.6l.6 .1l.6 .4l.6 .1l.6-.1l.6-.5l.6-.6l.6 .9l.6-.4l.6 .2l.6 .3l.6 .2l.6 .8l.6-.8l.6-.8l.6 1.4l.6 .2l.6-1.4l.6 1.5l.6-.2l.6-.6l.6 .4l.6 .3l.6 .2l.6 .3l.6-.6l.6 0l.6 1.4l.6-2l.6 .7l.6-.1l.6 .9l.6 .2l.6-1.3l.6 1.4l.6-1.5l.6 2.3l.6-1.8l.6 1.2l.6-.7l.6 .7l.6-.9l.6 .5l.6-.1l.6 .2l.6 .4l.6-.5l.6 0l.6-.5l.6 .6l.6-.1l.6 .8l.6-.1l.6-.9l.6 .8l.6 .6l.6-1l.6-.5l.6 2.1l.6-.9l.6 .1l.6 1.2l.6-2l.6 .7l.6-1.2l.6 1.3l.6 0l.6-.6l.6 .1l.6 .4l.6-.1l.6 1.1l.6-1l.6 .2l.6-.2l.6-.9l.6 .7l.6-.3l.6 1l.6-1.5l.6 .5l.6 1l.6-1.3l.6 .1l.6 1.5l.6-1.5l.6 .9l.6 .2l.6-.7l.6-.5l.6 1.8l.6-1.1l.6 .8l.6-.8l.6 .7l.6-1.1l.6 .2l.6 .3l.6 .2l.6 0l.6 .2l.6 .6l.6-.7l.6 .8l.6-.9l.6 1l.6 .4l.6 .4l.6-2.3l.6 2.2l.6-2l.6 2l.6-1.1l.6 .3l.6-.6l.6 1.2l.6-.2l.6-1l.6 0l.6 .9l.6 .1l.6 0l.6-.8l.6 .2l.6 .6l.6 0l.6 .1l.6-.6l.6-.4l.6 .8l.6 .2l.6-.6l.6 .6l.6-.9l.6 .7l.6-.4l.6 1.8l.6-.6l.6-.6l.6-.7l.6 .1l.6 1.1l.6-.7l.6 .3l.6-1.3l.6 0l.6 1.1l.6-.1l.6-.7l.6 .2l.6 1l.6-.7l.6 .6l.6 .7l.6-.7l.6-.2l.6-.3l.6 1.2l.6-1.5l.6 .2l.6 .7l.6-.8l.6 1.5l.6-1l.6 .7l.6-.6l.6 .1l.6 .4l.6-1l.6 .5l.6 .3l.6 1.5l.6-.9l.6-.1l.6-1l.6 1.2l.6 .3l.6-.2l.6 1.1l.6-2.4l.6-.1l.6 .7l.6-.5l.6 .7l.6 .4l.6-.3l.6 .2l.6 .2l.6 .2l.6-1l.6-.1l.6 1.1l.6-.8l.6-.5l.6 .7l.6-.4l.6 .3l.6-.1l.6 .3l.6 .1l.6-1l.6-.2l.6 1.8l.6-1.3l.6-.5l.8 20.6l.7-.2l.7-1l.7 1.1l.7 0l.7-.7l.7 .7l.7-1.1l.7 .6l.7 .1l.7 .1l.7 .5l.7-.5l.7-.5l.7 .7l.7 0l.7 .2l.7-.3l.7 .2l.7-.5l.7 .5l.7-.8l.7 0l.7 .8l.7-.8l.7 .1l.7 .4l.7-.5l.7 .5l.7-.5l.7 .8l.7-1l.7 .2l.7 .7l.7 .6l.7 .3l.7-1.4l.7 .5l.7 0l.7-.9l.7 1.4l.7-.5l.7 .7l.7-.6l.7-.3l.7-.1l.7 .3l.7 .3l.7-.4l.7 1.6l.7-1.3l.7-.7l.7 .6l.7 .7l.7-.4l.7-.2l.7-.3l.7-.1l.7-.4l.7 .4l.7 .4l.7-.4l.7 1l.7-.7l.7-.3l.7 .1l.7 .7l.7-1.4l.7 .9l.7 1.3l.7-.7l.7-.9l.7 .6l.7-.2l.7 1.3l.7-1.6l.7 .2l.7 0l.7-.4l.7-1l.7 1.4l.7 .5l.7-.6l.7 .5l.7 .2l.7 .1l.7-1.1l.7 1.5l.7-.3l.7 0l.7-.4l.7 0l.7-.2l.7 .5l.7 .3l.7-.8l.7 .7l.7-.6l.7 .5l.7-.3l.7 .5l.7 .3l.7-.8l.7-.5l.7 0l.7 .4l.7-.5l.7 .7l.7-.5l.7 .3l.7-.7l.7 0l.7 .2l.7 .6l.7-.4l.7 .7l.7-1.3l.7 .6l.7 .2l.7-.7l.7 .4l.7-.4l.7 .6l.7-.1l.7 .4l.7-.8l.7-.5l.7 .6l.7 .3l.7 0l.7 0l.7 .4l.7-.7l.7 0l.7-.4l.7 .1l.7 .9l.7-.1l.7-1.4l.7 1.7l.7-1.4l.7 .7l.7 .7l.7-.3l.7 .2l.7 .2l.7-.2l.7-1l.7 .9l.7-.3l.7-.9l.7 1.1l.7 .4l.7-.2l.7 0l.7 .9l.7-.7l.7 .4l.7-.4l.7 .4l.7-.9l.7 .7l.7 .5l.7-1.1l.7 .7l.7-1.3l.7 .8l.7 .1l.7-.5l.7-.4l.7 1l.7-.3l.7 .2l.7 .1l.7 .3l.7 .3l.7-.5l.7-1l.7 .9l.7-.1l.7-.1l.7 .8l.7-.6l.7-.4l.7 .3l.7-1l.7 1.1l.7-.2l.7 .8l.7-.6l.7-.1l.7 0l.7-.7l.7 .6l.7 .2l.7 .4l.7-.1l.7 0l.7 0l.7-.7l.7 .5l.7-.3l.7-.6l.7-.1l.7 1.1l.7 .1l.7-.1l.7-1l.7 1.2l.7 0l.7-1.1l.7 .6l.7 .7l.7-.8l.7 .5l.7-.7l.7 .2l.7 .6l.7-.5l.7 .2l.7 0l.7-.5l.7 1.1l.7-.8l.7 .1l.7-.1l.7 .2l.7-.5l.7 .9l.7-.6l.7 .4l.7-.7l.7-.1l.7 0l.7 .5l.7-.7l.7 1l.7-.5l.7 .5l.7-.5l.7 .6l.7-.9l.7 0l.7 .9l.7-.5l.7 .8l.7-.8l.7 .6l.7-.6l.7-.5l.7 1.6l.7-.7l.7 .5l.7-.4l.7-.9l.7 1l.7 .3l.7 .1l.7 .2l.7-.6l.7-.3l.7 .1l.7-.6l.7 1l.7 0l.7-.2l.7-.5l.7 .6l.7-.5l.7 .9l.7-.9l.7 0l.7 .1l.7-.3l.7 .1l.7 .3l.7-1l.7 2.1l.7 10l.7-.9l.7-.6l.7-1.4l.7-.1l.7 .1l.7-.6l.7 .6l.7 .1l.7-.1l.7-.1l.7 .4l.7 .3l.7-.8l.7 .2l.7 .2l.7-1.1l.7 .9l.7 .3l.7-1.2l.7 .9l.7-.5l.7 .4l.7-.2l.7-.4l.7-.2l.7 1.5l.7-1l.7 .4l.7 .6l.7-.3l.7-.1l.7-.7l.7 .5l.7 .1l.7-.1l.7 .6l.7 .4l.7-.7l.7-.3l.7 .4l.7 .4l.7-1l.7 .3l.7 0l.7-.4l.7-.4l.7 .5l.7 .2l.7 .4l.7-1.1l.7 .9l.7-.5l.7 .3l.7-.3l.7-.1l.7 .7l.7-.6l.7 .7l.7-.2l.7 .1l.7-.3l.7 .1l.7-.8l.7 .7l.7 .6l.7-.2l.7-.9l.7 .3l.7 .1l.7 .8l.7-.7l.7 .1l.7-.2l.7 .1l.7-.3l.7 .4l.7 0l.7 .3l.7-.5l.7 .6l.7 .1l.7-.3l.7-.1l.7-1.2l.7 1.1l.7 0l.7-.2l.7-.6l.7 .3l.7 1.1l.7-1.4l.7 .2l.7 .6l.7-.3l.7-.6l.7 .9l.7 .2l.7-.7l.7 .2l.7 .1l.7-.8l.7 1.1l.7 .7l.7-.2l.7-1l.7 0l.7 .7l.7 .1l.7-.7l.7 .1l.7 .2l.7-.3l.7 .1l.7-.6l.7 .5l.7-.7l.7 .2l.7 0l.7-.2l.7 .8l.7-.4l.7 .5l.7 .4l.7-.1l.7 .1l.7-.2l.7-.1l.7 .4l.7-.3l.7 .2l.7-1.1l.7 .4l.7 .9l.7-1l.7 0l.7 .9"/>
<path d="M149.7 492.6l.7-.4l.7 .5l.7-.7l.7 1.3l.7-.6l.7-.4l.7-.1l.7 .3l.7 0l.7-.1l.7 1l.7-.1l.7-1l.7 .6l.7-.1l.7 .4l.7-.7l.7 .9l.7-.9l.7 .8l.7-.8l.7 .9l.7-.6l.7 .4l.7-.8l.7-.4l.7 .1l.7 .1l.7 .3l.7-.2l.7-.2l.7 .5l.7 .4l.7-.9l.7 .8l.7 .5l.7-1.2l.7-.2l.7 .3l.7 0l.7-.1l.7 .1l.7 .5l.7-.2l.7-.8l.7-.1l.7 .4l.7 .5l.7-.3l.7-.1l.7 .6l.7-.4l.7 .1l.7 .3l.7 .5l.7-.3l.7 .4l.7-.1l.7 .5l.7-1l.7 .3l.7 .3l.7 .9l.7-.1l.7-.9l.7 .1l.7 .4l.7-.3l.7 .2l.7-.6l.7-.7l.7 1l.7 0l.7-1.2l.7-.4l.7 .4l.7-.4l.7 .9l.7-.7l.7 .8l.7-.5l.7 .3l.7 .2l.7-.1l.7-.5l.7 .6l.7-.8l.7 1.3l.7-.6l.7-.1l.7 .4l.7 .2l.7-.2l.7-.5l.7 .2l.7 .3l.7-.4l.7-.4l.7 .4l.7-.7l.7 .3l.7 .1l.7-.2l.7-.1l.7 .7l.7 .1l.7 .2l.7-.3l.7 .5l.7 .4l.7-.5l.7 .2l.7-.4l.7 .1l.7-1.2l.7 1.5l.7-.3l.7-.2l.7 .1l.7 .2l.7-.4l.7 .1l.7 .2l.7-.5l.7 .2l.7 0l.7-.4l.7-.4l.7 .5l.7 .5l.7-.7l.7 .4l.7-.2l.7 .2l.7-.4l.7 .1l.5-14l.7-9l.4-13.6l.2-54.3l.4-90.4l.4-75.4l.4-30.1l.5-10.6l.7-4.5l.4 2.8l.6 4l.6 4.2l.6 4.2l.6 4l.6 3.9l.6 3.8l.6 4l.6 3.8l.6 3.8l.6 3.7l.6 3.6l.6 3.6l.6 3.6l.6 3.4l.6 3.5l.6 3.4l.6 3.2l.6 3.5l.6 3.2l.6 3.1l.6 2.9l.6 3l.6 3.1l.6 2.8l.6 2.8l.6 2.8l.6 2.6l.6 3l.6 2.4l.6 2.5l.6 2.8l.6 2.3l.6 2.6l.6 2.4l.6 2.3l.6 2.3l.6 2.2l.6 2.3l.6 2.3l.6 2.1l.6 2.1l.6 2.1l.6 2.2l.6 2.1l.6 2.1l.6 2.1l.6 2l.6 2.2l.6 1.9l.6 2.1l.6 1.8l.6 2.2l.6 2l.6 1.7l.6 2.2l.6 1.8l.6 1.9l.6 1.8l.6 1.8l.6 1.5l.6 1.6l.6 1.7l.6 1.5l.6 1.2l.6 1.7l.6 1.5l.6 1.3l.6 1.1l.6 1.7l.6 1.2l.6 1.3l.6 1.1l.6 1.2l.6 1.2l.6 1.2l.6 1.5l.6 .9l.6 1.2l.6 1.3l.6 1.1l.6 .7l.6 1.4l.6 1.2l.6 1.5l.6 .8l.6 .7l.6 1l.6 1.1l.6 1.2l.6 .7l.6 1.3l.6 .5l.6 1.4l.6 1.2l.6-.2l.6 1.7l.6 1l.6 .9l.6 .8l.6 .8l.6 .9l.6 .8l.6 .8l.6 1.3l.6 .6l.6 .7l.6 .3l.6 .8l.6 1.3l.6 .1l.6 1.4l.6 0l.6 1.9l.6 .4l.6 .1l.6 .7l.6 .2l.6 1.4l.6 1.1l.6 .5l.6 .3l.6 1.5l.6 .1l.6 .6l.6 .4l.6 1l.6 1.4l.6-.2l.6-.3l.6 1.4l.6 1.2l.6 .3l.6-.1l.6 .9l.6-.2l.6 1.4l.6-.1l.6 .7l.6 .5l.6 .4l.6 1.5l.6 .4l.6-.2l.6 .6l.6 1.1l.6-.4l.6 .4l.6 .3l.6 1.5l.6-.3l.6 .4l.6 .2l.6 .2l.6 1.2l.6-.4l.6 .5l.6-.1l.6 .6l.6 .7l.6 .3l.6-.1l.6 .8l.6 .5l.6-.8l.6 1.9l.6-.1l.6-.2l.6 .8l.6 .7l.6 .1l.6 .4l.6 .3l.6 .6l.6-.6l.6 .6l.6 .8l.6 .1l.6-.2l.6 .7l.6 .1l.6 .6l.6-.6l.6 .2l.6 .4l.6 .9l.6 1.5l.6-.5l.6 .4l.6-.4l.6 1l.6-.4l.6 0l.6 .7l.6-.9l.6-.4l.6 .7l.6 1.6l.6 0l.6-.2l.6 0l.6 .2l.6 .5l.6-.4l.6 1.1l.6-.8l.6 1.4l.6-.6l.6-.1l.6 .6l.6-.1l.6 .6l.6-.7l.6 .9l.6 .5l.6 .3l.6-.3l.6 1.1l.6-1.5l.6 1l.6 0l.6 .5l.6-.2l.6 1.1l.6-.6l.6-.4l.6 2l.6-1.3l.6 0l.6 .6l.6-.6l.6 .3l.6 .5l.6-1.1l.6 .5l.6 .9l.6 .5l.6-.9l.6 0l.6 .8l.6-1.3l.6 .6l.6 0l.6-.4l.6-.4l.6 1.4l.6 1l.6 0l.6 .4l.6-2.1l.6 1.7l.6 .8l.6-1.1l.6-.1l.6 1.1l.6-.3l.6 .5l.6-.4l.6 .7l.6-.3l.6-.2l.6-.3l.6 .7l.6-.6l.6 1l.6 .2l.6 0l.6-1.2l.6 1.2l.6 .2l.6 .4l.6-1.2l.6 .5l.6 .4l.6 .7l.6-1.1l.6 .9l.6-.4l.6 1l.6-.8l.6-1.1l.6 .7l.6 .4l.6 .6l.6-.3l.6-.5l.6-.4l.6 .9l.6 .1l.6 .8l.6-.2l.6-1.2l.6-.4l.6 1.3l.6 .4l.6-.7l.6 .3l.6 1.1l.6-.2l.6-1.4l.6 1.3l.6-.1l.6-.2l.6 .4l.6-.2l.6 1.1l.6-1.4l.6-.4l.6 .1l.6 .8l.6 .7l.6-.8l.6-.1l.6-.1l.6-.3l.6 .3l.6-.5l.6 1.2l.6 0l.6-.2l.6-.6l.6 .3l.6-.1l.6 .6l.6-.4l.6 .5l.6 .4l.6 .2l.6-1.4l.6 .4l.6-.5l.6 1.3l.6-1.2l.6 1.3l.6-1.1l.6 1l.6-.8l.6 0l.6 .3l.6 0l.6 0l.6 .5l.6 .4l.6-.2l.6-.7l.6-.6l.6 1.3l.6-1.8l.6 2.1l.6 0l.6-1.2l.6 1l.6-.6l.6 1.1l.6-1.3l.6 0l.6 .1l.6 .5l.6-.8l.6 1.8l.6-1.4l.6 1.3l.6-1.2l.6 .1l.6-.3l.6 0l.6 .8l.6 .5l.6-.6l.6-.6l.6 .7l.6-.4l.6-1.1l.6 1.7l.6-1.2l.6 .7l.6 .4l.6-.3l.6 .1l.6 1.1l.6-.5l.6 .4l.6-.7l.6-.1l.6 .8l.6-1.4l.6 .5l.6 0l.6 0l.6 .2l.6-.2l.6 .4l.6-.8l.6 .8l.6-.9l.6 1.3l.6 0l.6-.6l.6 0l.6 .2l.6 .5l.6-1.2l.6 .3l.6 1.1l.6-.7l.6-.8l.6-.5l.6 1.1l.6-.6l.6 1.1l.6-.2l.6 1.1l.6-1.8l.6 1.2l.6-1l.6 .1l.6 .5l.6-.4l.6 1.5l.6-1.2l.6-.5l.6 1.8l.6-1.8l.6 .2l.6 .1l.6-.1l.6 .7l.6 .4l.6-1.4l.6 .6l.6 .1l.6-.5l.6 .1l.6 .6l.6-.2l.6 .7l.6 .3l.6-.5l.6 .2l.6-.7l.6 .2l.6 .5l.6 .2l.6-.4l.6 .3l.6-.5l.6-.6l.6 .9l.6-.5l.6-.7l.6 1.4l.6-.3l.6 .1l.6-.6l.6 1.1l.6-.5l.6 .4l.6-.9l.6 .4l.6 1l.6-.7l.6 .1l.6 .9l.6-.2l.6-.4l.6 1l.6-1.9l.6 .7l.6-.3l.6 1l.6 .1l.6-1.2l.6 .4l.6 .5l.6-.2l.6 0l.6 .5l.6 .5l.6-1.1l.6-.5l.6 .5l.6 .2l.8 19l.7 .2l.7 .4l.7-.4l.7 .1l.7 .5l.7-1.1l.7 1.3l.7-.6l.7-1.9l.7 1.1l.7 .3l.7 1.1l.7-1.1l.7-.9l.7 1.3l.7-.5l.7-.1l.7 .7l.7-.5l.7 .1l.7 .5l.7-.2l.7 .2l.7-.6l.7 1.1l.7-1.5l.7 .1l.7 .9l.7-.5l.7 .1l.7 0l.7 0l.7-.4l.7 .7l.7 .6l.7-1l.7 1.2l.7-.2l.7-1.1l.7 .9l.7-1l.7 .3l.7-.6l.7 .3l.7-.6l.7 .5l.7-.3l.7 .1l.7-.5l.7 1l.7 .9l.7-1l.7 .3l.7-.4l.7 .3l.7 0l.7-.5l.7 .3l.7 .2l.7 .4l.7-.3l.7 .3l.7 .5l.7-.1l.7-.6l.7-.7l.7 .9l.7 .1l.7 .5l.7-.5l.7 1.1l.7-1.4l.7 .3l.7-.9l.7-.2l.7 .4l.7 0l.7 .4l.7-1.9l.7 2.3l.7 .3l.7-.1l.7-.2l.7-.1l.7 .5l.7 .4l.7-1l.7 .9l.7-.3l.7-.3l.7 .8l.7-1.3l.7 0l.7 .2l.7-.3l.7 .8l.7-1.5l.7 .2l.7 1l.7 .2l.7-1l.7 1.4l.7-1.7l.7 1.5l.7-1l.7 .3l.7 1.1l.7-1l.7-.3l.7 .3l.7 1l.7-.9l.7-.3l.7 .6l.7-.6l.7 .3l.7 0l.7 .7l.7-.4l.7 .4l.7 .4l.7 .2l.7-1.6l.7 .5l.7-.6l.7 1l.7-.2l.7-.2l.7-.3l.7-.2l.7-.4l.7 1.3l.7-.5l.7 .4l.7 .1l.7 .1l.7 .5l.7-.9l.7 .4l.7-1l.7 .6l.7 0l.7 0l.7 .6l.7-.5l.7 0l.7 .1l.7-.3l.7 .1l.7-.4l.7 0l.7 .1l.7 .2l.7-.8l.7 1.1l.7-.1l.7 .4l.7-.6l.7 0l.7 .9l.7-.7l.7 .6l.7-.5l.7-.2l.7-.3l.7 .3l.7 0l.7-.6l.7 1.3l.7-.7l.7-.4l.7 1.1l.7-.4l.7-.8l.7-.1l.7 .5l.7 .4l.7-.8l.7 1.2l.7-.7l.7 .5l.7-.5l.7 .3l.7 .1l.7 .4l.7-.9l.7 1.3l.7-1.5l.7 .7l.7 .1l.7-.3l.7 .3l.7-1.3l.7 .9l.7 .4l.7-.5l.7-.7l.7 .5l.7-.1l.7-.4l.7 1.3l.7-.9l.7-.1l.7 .5l.7-.4l.7 .2l.7 .3l.7-.1l.7 .6l.7-.2l.7 .4l.7-1l.7 .5l.7 .2l.7 .1l.7-1.1l.7 .5l.7 .6l.7 0l.7-.2l.7 0l.7 .5l.7-.6l.7-.3l.7 1.1l.7-.5l.7-.4l.7-.2l.7 1.1l.7-.9l.7-.2l.7 .9l.7-1.3l.7 .6l.7 .4l.7-.3l.7-.2l.7 .5l.7-.8l.7 .5l.7 .5l.7-.8l.7 1.1l.7-.8l.7 .1l.7-.2l.7 .6l.7-.5l.7 .3l.7 .5l.7 0l.7-1.3l.7 1.3l.7-.8l.7 .3l.7-.1l.7 .1l.7-.4l.7 .5l.7 .3l.7-.8l.7 .3l.7 .4l.7 .2l.7-.4l.7 0l.7 .1l.7-.4l.7 .3l.7-.3l.7 0l.7-.9l.7 .3l.7 1l.7 .1l.7-.1l.7-.2l.7 11l.7-1.1l.7-.7l.7-.8l.7 .1l.7-.4l.7 1l.7-.3l.7-.6l.7-.2l.7 .1l.7-.1l.7 .4l.7-.1l.7-.1l.7 0l.7-.8l.7 .7l.7-.6l.7 0l.7 1.2l.7-.9l.7 .3l.7 .1l.7-.5l.7 .8l.7-1.3l.7 1l.7-.3l.7 .7l.7-.3l.7-.6l.7-.6l.7 1l.7 0l.7-.1l.7-.3l.7 .2l.7-.7l.7 .6l.7 .1l.7-.2l.7-.2l.7 .5l.7 .1l.7-.2l.7 1.1l.7-.4l.7-.3l.7 .2l.7 .4l.7-.2l.7-.2l.7 .1l.7 .2l.7-.5l.7 0l.7 1l.7-.5l.7 .4l.7-.4l.7-.3l.7 0l.7 .3l.7-1l.7 .2l.7-.4l.7 .3l.7-.1l.7 .4l.7-.4l.7 .6l.7 .1l.7 0l.7-.3l.7 .9l.7 .2l.7-.9l.7-.2l.7 .5l.7-.2l.7 .1l.7 .1l.7-.7l.7 .4l.7-.6l.7-.2l.7 .3l.7 .6l.7-.9l.7 .4l.7-.3l.7 .5l.7 0l.7 .3l.7-.3l.7-.3l.7-.5l.7 1l.7 .1l.7-.3l.7 .1l.7 .1l.7 .3l.7-.6l.7 .4l.7 .1l.7-.2l.7-.4l.7-.3l.7 .7l.7 .2l.7 .2l.7-.4l.7-.4l.7 .6l.7-.1l.7-.2l.7-.2l.7-.1l.7 .5l.7 .1l.7 .2l.7 0l.7-.1l.7 .5l.7-.7l.7 .5l.7-.8l.7 .1l.7-.1l.7-.7l.7 1.2l.7-.4l.7 .2l.7 .4l.7-.2"/>
<path d="M149.7 491.2l.7 .4l.7-1l.7 .8l.7 .2l.7-.3l.7-.6l.7 .3l.7-.1l.7 .3l.7-.4l.7 .4l.7-1.1l.7 .7l.7 .3l.7-.4l.7 .1l.7 .2l.7 0l.7 .3l.7-.2l.7-.2l.7 .1l.7 .2l.7 .3l.7 0l.7-.1l.7 .1l.7-.1l.7-.1l.7 .3l.7-.3l.7 .3l.7-.8l.7 .2l.7-.4l.7 .9l.7-.4l.7 .3l.7-.2l.7-.3l.7 .5l.7-.2l.7-.2l.7-.1l.7 0l.7 .3l.7 .2l.7 .6l.7-.9l.7 .2l.7-.1l.7 .2l.7-.2l.7 .4l.7 0l.7 .3l.7-.1l.7-.5l.7 0l.7 .1l.7-.2l.7 0l.7-.2l.7 .2l.7-.1l.7-.2l.7 .1l.7 .6l.7-.8l.7 .5l.7-.5l.7 1.4l.7-1.1l.7-.2l.7-.2l.7-.6l.7 .5l.7 .9l.7-.6l.7-.2l.7 .4l.7 .1l.7-.5l.7 .3l.7 .2l.7-.7l.7 .7l.7-.9l.7 .4l.7 .7l.7 0l.7 .1l.7-1l.7 .4l.7-.3l.7 .4l.7-.1l.7 .1l.7 .1l.7-.5l.7 .8l.7-.5l.7 .5l.7 0l.7-.3l.7-.6l.7-.4l.7 .1l.7 1l.7-1l.7 1.2l.7-.5l.7-.6l.7 .9l.7-.2l.7 .4l.7-.1l.7 .3l.7-.3l.7 .1l.7-.5l.7 .4l.7-.5l.7-.2l.7 .1l.7 0l.7-.6l.7 .8l.7-.8l.7 .7l.7 .1l.7-.1l.7-.6l.7 .7l.7-.5l.7 .4l.4-12.6l.7-9.2l.4-13.7l.2-54.9l.4-91.4l.4-76.2l.4-30.5l.5-10.7l.9-4.6l.4 2.9l.6 4.2l.6 4.1l.6 4.2l.6 4l.6 4l.6 4.1l.6 3.8l.6 4l.6 3.8l.6 3.9l.6 3.4l.6 3.8l.6 3.7l.6 3.4l.6 3.6l.6 3.4l.6 3.4l.6 3.2l.6 3.3l.6 3.1l.6 3l.6 3.1l.6 2.9l.6 2.9l.6 2.8l.6 3l.6 2.6l.6 2.7l.6 2.8l.6 2.5l.6 2.6l.6 2.5l.6 2.5l.6 2.4l.6 2.2l.6 2.7l.6 2.2l.6 2.1l.6 2.5l.6 2.1l.6 2.2l.6 2.3l.6 2.1l.6 2.1l.6 2.2l.6 2l.6 2l.6 2l.6 2.3l.6 1.8l.6 2.2l.6 2l.6 2l.6 2.2l.6 1.9l.6 1.9l.6 2l.6 1.7l.6 1.9l.6 1.8l.6 1.4l.6 1.5l.6 1.7l.6 1.1l.6 1.5l.6 1.4l.6 1.3l.6 1.6l.6 1.3l.6 1.3l.6 1.2l.6 1.4l.6 1.3l.6 1.3l.6 .9l.6 1.2l.6 1.5l.6 .9l.6 1.3l.6 .8l.6 1.2l.6 1l.6 1.2l.6 1.2l.6 .9l.6 1.6l.6 .2l.6 1.6l.6 .5l.6 1.4l.6 .7l.6 1.2l.6 .9l.6 .8l.6 .8l.6 1l.6 1.1l.6 1.2l.6 1.1l.6-.1l.6 1.5l.6 .5l.6 1l.6 .9l.6 .9l.6 .7l.6 .7l.6 1.3l.6 .3l.6 .7l.6 1.1l.6 0l.6 .8l.6 1.6l.6 .1l.6 .2l.6 1.6l.6 .8l.6 0l.6 .5l.6 1.1l.6 .9l.6 .3l.6 .5l.6 1.2l.6 .6l.6-.1l.6 .7l.6 1l.6 .4l.6 1l.6 .7l.6 1.1l.6 0l.6 .7l.6-.4l.6 .9l.6 1.2l.6-.4l.6 1.6l.6 .2l.6 .3l.6 .4l.6 0l.6 .5l.6 .7l.6 .5l.6 1.2l.6-.6l.6 .6l.6 0l.6 1.2l.6 .3l.6 1l.6 .7l.6-.2l.6-.2l.6 .8l.6 .4l.6 .3l.6-.1l.6 1l.6-.4l.6 .9l.6 .3l.6-.7l.6 1.8l.6 1l.6-.8l.6 .2l.6 1.1l.6-.8l.6 1l.6 .4l.6-.1l.6 .6l.6-.1l.6 .4l.6 .9l.6-.4l.6 .5l.6 .2l.6 .8l.6-.1l.6 0l.6 .9l.6-1l.6 .3l.6 1.4l.6 .9l.6-1l.6 .6l.6-.6l.6 1l.6 .2l.6 .4l.6-.4l.6 1.5l.6-1.3l.6 1.4l.6-1.1l.6 1.2l.6 .5l.6 .6l.6-1l.6-.7l.6 1.5l.6-.7l.6 0l.6 .5l.6 .1l.6 1.1l.6-.1l.6 .4l.6 .2l.6-.4l.6 .7l.6 .4l.6 .5l.6-.8l.6 0l.6-.3l.6 .5l.6 .4l.6 .3l.6-.7l.6 .6l.6 .2l.6-.1l.6 .2l.6 .6l.6-.4l.6 .9l.6-.8l.6 .8l.6-.8l.6 1.4l.6-.3l.6 .5l.6-1l.6-.2l.6 .1l.6 .5l.6 .8l.6-.2l.6 .1l.6-.9l.6 1.4l.6-.1l.6-.4l.6-1.1l.6 1.1l.6 .6l.6 1.1l.6-.6l.6 0l.6 1l.6 .2l.6-.7l.6 .3l.6 .4l.6-1.1l.6 .8l.6-.4l.6-.4l.6 .8l.6 .5l.6 .4l.6-.5l.6 .1l.6-.6l.6-.6l.6 .5l.6 .6l.6-.5l.6 1.4l.6-.3l.6-.7l.6 1.1l.6-.5l.6 .5l.6-.8l.6 .5l.6-.5l.6 .2l.6 .7l.6 .5l.6-.9l.6 .2l.6-.7l.6 .4l.6 .5l.6-1l.6 .5l.6-.3l.6 .6l.6 .4l.6-.2l.6-.2l.6-.4l.6-.3l.6 1.1l.6 .9l.6-1.1l.6 .2l.6-.2l.6-.4l.6 1.3l.6-.2l.6-1.2l.6 .1l.6 1.4l.6-1.1l.6 .5l.6-.6l.6 .8l.6-.6l.6 0l.6-.3l.6 1.8l.6 .5l.6-1.3l.6 .3l.6-.2l.6-.4l.6-.1l.6-.2l.6 .7l.6-1l.6 .5l.6 .9l.6-1.3l.6 1.7l.6-1.1l.6 .3l.6 .7l.6-.6l.6 .2l.6-.3l.6 .6l.6 .1l.6-1l.6 .9l.6 .2l.6-.2l.6-.7l.6 .9l.6 .4l.6-1.1l.6-.8l.6 .6l.6 .5l.6 .6l.6 .1l.6-.3l.6-.7l.6 .8l.6-.5l.6-.4l.6-.5l.6 1.6l.6-1.5l.6 1.7l.6 .5l.6-1.2l.6-.6l.6 .2l.6 0l.6 .6l.6 .5l.6-1l.6 .3l.6 0l.6 1l.6-.1l.6-1.1l.6 .4l.6 .4l.6-1l.6 .7l.6 .5l.6-.9l.6 .9l.6 .1l.6-.3l.6 .8l.6-1.1l.6 1l.6-.5l.6 .7l.6-1.1l.6 .9l.6 .1l.6 .3l.6 .3l.6-1.9l.6 .8l.6-.5l.6 1.1l.6 .3l.6-.9l.6 .3l.6 .6l.6-.6l.6-.2l.6-.8l.6 .5l.6 1.1l.6-1.3l.6 1l.6 0l.6-.1l.6 .5l.6-.9l.6 1.3l.6-1.1l.6 .8l.6-1l.6 .5l.6-.3l.6 1.1l.6-1.6l.6 .3l.6 1.1l.6-.3l.6-.5l.6-.1l.6-.6l.6 .6l.6 .5l.6 .5l.6-.3l.6 .2l.6-.7l.6-.7l.6 .4l.6 1.1l.6-.7l.6 .7l.6-1.6l.6 .6l.6-.2l.6 .7l.6-.6l.6-.1l.6 .9l.6-1.2l.6 1l.6 .5l.6-1l.6 .7l.6-.5l.6 .3l.6 .3l.6 .1l.6 .2l.6-.7l.6 1.2l.6-.7l.6-.5l.6 1l.6-1l.6 1.4l.6-.6l.6-.5l.6-.3l.6-.2l.6 .1l.6 .1l.6 .9l.6-.5l.6-.2l.6 .3l.6-.4l.6-.6l.6-.2l.6 1.6l.6-.8l.6 1.1l.6 .2l.6-.9l.7 18.6l.7 .9l.7-1.4l.7 .6l.7-.6l.7 1.2l.7-.8l.7 .3l.7 .3l.7 0l.7-.1l.7 .1l.7-.2l.7-.1l.7 0l.7-.1l.7 0l.7 .1l.7 .6l.7-1.4l.7 1.6l.7-.9l.7 .6l.7-.6l.7 0l.7 .5l.7 .4l.7-.9l.7 .1l.7-.1l.7 1.2l.7-.4l.7 .1l.7-.6l.7-1.1l.7 1.1l.7-1l.7 .6l.7 .7l.7-.7l.7 0l.7-.9l.7 1.1l.7 0l.7-.2l.7 .5l.7-1l.7 .4l.7 .5l.7 .2l.7-.5l.7-.4l.7 .6l.7 .8l.7-1l.7 .5l.7 .2l.7-.5l.7 .3l.7-.7l.7 .6l.7 .2l.7 .2l.7 .4l.7-.8l.7 .6l.7-.4l.7-.2l.7 .1l.7 .2l.7 .1l.7-.3l.7 1.7l.7-1.4l.7 .3l.7-.7l.7 1.4l.7-2.4l.7 .9l.7 .3l.7 .4l.7-.6l.7-.5l.7 1.4l.7-.5l.7-.2l.7 0l.7 0l.7 .2l.7-.9l.7 .8l.7-.2l.7 .5l.7-.2l.7-.5l.7 1l.7-.3l.7-.8l.7-.1l.7 0l.7 .5l.7 .3l.7-1l.7 .1l.7 .5l.7-.1l.7 0l.7 .1l.7-.1l.7 1.2l.7-.4l.7-.5l.7 .9l.7 .3l.7-.8l.7-.2l.7-.4l.7 .1l.7 .3l.7 .5l.7-1.1l.7-.3l.7 .5l.7 .4l.7-.9l.7 .7l.7-.1l.7-.1l.7 .5l.7 .5l.7-1.1l.7 .9l.7-.1l.7 .5l.7-.5l.7-.2l.7 .8l.7-.2l.7-.7l.7-.5l.7 .5l.7 .3l.7 .1l.7-.5l.7 .1l.7-.9l.7 .7l.7 .3l.7-.2l.7 .1l.7-.3l.7 .2l.7 .6l.7-1l.7 .8l.7 .7l.7-.8l.7-.1l.7-.3l.7-.1l.7 .4l.7-.4l.7 .4l.7-.1l.7-.4l.7 .6l.7 .3l.7 0l.7-.5l.7 .1l.7-.5l.7 .5l.7 .6l.7-.1l.7 .3l.7-1.4l.7 1.4l.7-.7l.7 .7l.7-.8l.7 .5l.7-.7l.7-.5l.7 .9l.7-.2l.7 .3l.7 .2l.7 .1l.7-.1l.7 .1l.7-1.3l.7 1.2l.7-.9l.7 .2l.7-.4l.7-.3l.7 1l.7-1l.7 .2l.7 1.1l.7-1.5l.7 .2l.7 1.3l.7-.5l.7 .7l.7-.4l.7-.2l.7 .7l.7-.7l.7 .1l.7 .3l.7-.6l.7-.1l.7-.2l.7 1.2l.7 .5l.7-.4l.7-.8l.7 .3l.7-.4l.7 .5l.7 .5l.7-.5l.7 .1l.7-1.5l.7 1.7l.7-.6l.7 .4l.7 .2l.7-.1l.7 .3l.7 .4l.7-1.9l.7 .3l.7 1.7l.7-.6l.7-.6l.7 .1l.7 .2l.7 .5l.7-.6l.7 .2l.7-.6l.7 1.3l.7-.5l.7-.4l.7-.4l.7 .7l.7 .4l.7 .7l.7-.2l.7-1.2l.7 .1l.7-.3l.7 .7l.7-.6l.7 .6l.7-.1l.7 .1l.7-.7l.7 1l.7-.6l.7-.5l.7 .6l.7 .1l.7 0l.7 .4l.7 .1l.7 .5l.7-1.1l.7 .6l.7-1.8l.7 2.2l.7-.9l.7 .7l.7-.7l.7 .4l.7 0l.7 10.5l.7-1.1l.7-.8l.7-.1l.7-.3l.7-.6l.7 .8l.7-.8l.7 .1l.7 .1l.7-.3l.7-.3l.7-.5l.7 0l.7 .3l.7-.6l.7-.3l.7-.3l.7 1l.7-.1l.7 .2l.7-.1l.7 .2l.7 .1l.7 .5l.7-.6l.7-.1l.7 .4l.7 .3l.7-.5l.7 .4l.7-.3l.7 .3l.7-1l.7 .7l.7-.1l.7 0l.7-.2l.7 .2l.7-.7l.7 .7l.7 .4l.7-.3l.7-.1l.7 .1l.7 .4l.7-.8l.7-.4l.7 0l.7 .3l.7 .2l.7 .3l.7-.2l.7-.2l.7 .7l.7 0l.7-.6l.7 .8l.7-.4l.7 0l.7 .1l.7-.4l.7-.3l.7 0l.7 .2l.7 .4l.7-.3l.7 .4l.7-.9l.7 .3l.7-.3l.7 .1l.7 .7l.7-.2l.7 .6l.7-.2l.7-.4l.7-.2l.7-.4l.7 1l.7 0l.7 .9l.7-.4l.7-.4l.7-.5l.7-.2l.7 .6l.7 0l.7-.5l.7 .6l.7 .2l.7-.8l.7 .1l.7-.5l.7 .6l.7-.6l.7 0l.7-.4l.7 .3l.7-.2l.7 1l.7-.2l.7-.4l.7 .3l.7 .1l.7 .1l.7-.2l.7 .9l.7-.3l.7 .7l.7-1.7l.7 .3l.7 .9l.7 0l.7 0l.7-.3l.7 .6l.7-.3l.7 .5l.7 0l.7-.2l.7-1l.7 .7l.7 .1l.7 0l.7-.2l.7 0l.7-.7l.7 .7l.7 .2l.7-.5l.7 .2l.7-.1l.7 .1l.7-.2l.7 .3l.7-.2"/>
<path d="M149.7 492.1l.7-.8l.7 .7l.7-.2l.7-.4l.7 .1l.7-.2l.7-.1l.7 .1l.7-.3l.7 .9l.7-.8l.7-.3l.7 .2l.7-.6l.7 .2l.7 .7l.7-.3l.7 1.2l.7 .1l.7-.9l.7 1l.7-.1l.7 .1l.7-.1l.7 .2l.7-1.1l.7 .2l.7 .3l.7-.2l.7-.4l.7 .9l.7 0l.7-.4l.7 .3l.7 .1l.7-1l.7 .5l.7-.3l.7 .2l.7-.5l.7 .2l.7 .2l.7 .7l.7-1l.7 1l.7-.4l.7 .1l.7-.1l.7-.7l.7 .6l.7-.8l.7 .1l.7 .6l.7 .2l.7-.6l.7 0l.7 1.1l.7 .2l.7 .2l.7-.1l.7-.2l.7 .9l.7-.3l.7-.5l.7 .6l.7-.7l.7 .3l.7-.8l.7-1.2l.7 .4l.7-.7l.7 .9l.7 .7l.7-1.1l.7 .8l.7-.4l.7 .6l.7 0l.7-.4l.7 .6l.7-.1l.7 .5l.7 .5l.7-.8l.7 .8l.7-.7l.7 .3l.7-.4l.7-.5l.7 .1l.7-.3l.7 .2l.7-.4l.7 0l.7 .6l.7-.2l.7 .2l.7-.1l.7 .3l.7-.3l.7 .1l.7-.7l.7 .5l.7-.5l.7-.4l.7 .5l.7 .7l.7-.4l.7 .5l.7-.4l.7 0l.7-.2l.7-.3l.7 .6l.7-.1l.7 .4l.7-.7l.7 .3l.7-.2l.7 .3l.7-.8l.7 .7l.7-.2l.7 .2l.7 1.2l.7-1.2l.7 .2l.7-.2l.7 .4l.7 .3l.7-.2l.7-.4l.7-.7l.7 .3l.7-.9l.7 .1l.6-12.6l.7-9.2l.4-13.9l.2-55.5l.4-92.4l.4-77.1l.4-30.8l.5-10.8l.7-4.6l.4 2.9l.6 4.1l.6 4.3l.6 4l.6 4.3l.6 4.2l.6 4l.6 3.9l.6 4l.6 4l.6 3.7l.6 3.9l.6 3.7l.6 3.6l.6 3.5l.6 3.6l.6 3.4l.6 3.5l.6 3.3l.6 3.3l.6 3.3l.6 3l.6 3l.6 2.9l.6 3l.6 2.9l.6 2.7l.6 2.7l.6 2.7l.6 2.9l.6 2.5l.6 2.6l.6 2.4l.6 2.6l.6 2.3l.6 2.5l.6 2.4l.6 2.3l.6 2.6l.6 2l.6 2.3l.6 2.2l.6 2.3l.6 2.2l.6 2.1l.6 2l.6 2.3l.6 2.2l.6 2l.6 2.3l.6 1.9l.6 2.1l.6 2.2l.6 2.2l.6 2l.6 2l.6 1.8l.6 1.9l.6 1.9l.6 2l.6 1.7l.6 1.6l.6 1.4l.6 1.4l.6 1.6l.6 1.6l.6 1.4l.6 1.3l.6 1.1l.6 1.6l.6 1.1l.6 1.4l.6 1.2l.6 1.3l.6 1.1l.6 1l.6 1.5l.6 .7l.6 1.5l.6 .9l.6 1.1l.6 1.3l.6 .9l.6 1l.6 1.1l.6 1l.6 1.3l.6 1.2l.6 .9l.6 .6l.6 1.5l.6 1.2l.6 .4l.6 1.1l.6 1.5l.6 .6l.6 1.3l.6 .5l.6 .6l.6 1.3l.6 .8l.6 1l.6 .5l.6 1l.6 1.6l.6 0l.6 1.5l.6-.1l.6 1.2l.6 .8l.6 1l.6 .4l.6 .6l.6 1l.6 .1l.6 .4l.6 1.1l.6 1.8l.6 .4l.6 1.1l.6 .2l.6-.1l.6 .9l.6 1.2l.6 .2l.6 .6l.6 .6l.6 .7l.6 .2l.6 1.5l.6 .2l.6 1.4l.6 .8l.6-.1l.6 1l.6 .6l.6 .2l.6 .4l.6 1.2l.6 .2l.6 .2l.6 .4l.6 .7l.6 .9l.6 .4l.6-.1l.6 .7l.6 .6l.6 .2l.6 .6l.6 0l.6 .5l.6 .9l.6 .4l.6 .2l.6 1.5l.6-.6l.6 .8l.6 .2l.6 0l.6 1l.6 .6l.6-.2l.6 .7l.6 1.5l.6-1.4l.6 .7l.6 .7l.6 0l.6-.1l.6 .6l.6 .4l.6 .3l.6 .5l.6 1.1l.6-.4l.6 0l.6 .8l.6 .2l.6-.5l.6 .5l.6 0l.6 1l.6 .6l.6-.3l.6 1l.6-.7l.6 .3l.6 .4l.6 .4l.6 1l.6-1.2l.6 1.2l.6 0l.6 .8l.6-1.1l.6 .4l.6 1.6l.6 0l.6 .1l.6-.3l.6 .8l.6-.4l.6-.4l.6 .6l.6 .1l.6-.3l.6 .5l.6 .1l.6 .9l.6 .5l.6 .1l.6 .2l.6-.9l.6 1.1l.6 .2l.6-.1l.6-.6l.6-1l.6 1.9l.6-.4l.6 1.2l.6-1.2l.6 1.4l.6-.5l.6-.4l.6 .6l.6 .5l.6 .7l.6 .2l.6 .5l.6-.1l.6-.6l.6 0l.6 .5l.6-.3l.6-.6l.6 0l.6 1.7l.6-.3l.6 1.2l.6-1.4l.6 1l.6-.4l.6 .3l.6-.1l.6 .7l.6-.3l.6-.5l.6 .2l.6 0l.6 .4l.6 .1l.6-.3l.6 0l.6 .3l.6-.9l.6 1.4l.6-.1l.6-2l.6 1.2l.6 .7l.6-1.2l.6 1.7l.6 .3l.6-.2l.6 .4l.6-.4l.6 .7l.6 0l.6-.3l.6 .4l.6-.9l.6 .3l.6 1.4l.6 0l.6-1.1l.6-.4l.6-.2l.6 1.8l.6-.4l.6 .9l.6-.3l.6 .4l.6-.8l.6-.7l.6 .2l.6 .9l.6-1.3l.6 1.1l.6-.5l.6 1l.6-1.1l.6-.1l.6 1l.6-2.3l.6 2.5l.6-.5l.6-.5l.6 .8l.6-.7l.6 .8l.6-.3l.6 .4l.6-.9l.6 .1l.6 1.5l.6-.9l.6-.3l.6-.2l.6 .1l.6 .4l.6-.8l.6 .7l.6 .1l.6-.9l.6 1.1l.6 .8l.6-.9l.6 .1l.6 .5l.6-.5l.6-.5l.6 1l.6-.2l.6-.2l.6 1.2l.6-.8l.6-.5l.6 .2l.6 1.3l.6-.4l.6-1.6l.6 1.4l.6-.7l.6 .2l.6 1l.6-.2l.6-.9l.6 .5l.6 .4l.6-.5l.6 .3l.6-.7l.6 1.2l.6 0l.6-1.2l.6-.6l.6 .7l.6 1l.6-.4l.6-.1l.6 .2l.6-1l.6 .8l.6 0l.6-.2l.6 1.1l.6-.9l.6 0l.6 .7l.6 0l.6-.4l.6 .2l.6 .1l.6-.1l.6-.8l.6 1.2l.6 .7l.6-1.1l.6-.2l.6 .9l.6-.3l.6-.9l.6 .3l.6-.3l.6 1l.6-1.3l.6 1.6l.6-1.2l.6 .5l.6-.5l.6 .4l.6 .5l.6-.3l.6-1l.6 .7l.6 .2l.6 1.1l.6-1.6l.6 0l.6 0l.6 .5l.6 .4l.6-.9l.6 1.4l.6-.1l.6-.3l.6-.1l.6 1.1l.6-2.1l.6 .3l.6 1.8l.6-2l.6 .8l.6-.2l.6-.4l.6 .2l.6 .4l.6 .5l.6 .1l.6 .1l.6-.3l.6 .1l.6 .4l.6-.8l.6-.3l.6 1.5l.6-1.8l.6 1.4l.6 .5l.6-1.6l.6-.6l.6 1l.6 .7l.6-1l.6 1.3l.6-.3l.6-1l.6 .9l.6-1.2l.6 .5l.6 .5l.6 .7l.6-.3l.6 .4l.6-1.7l.6 2.9l.6-2.6l.6 .8l.6 .7l.6-.5l.6 .3l.6-1.2l.6 0l.6 .4l.6-.1l.6 .4l.6-.3l.6-.5l.6 1l.6-1l.6 .5l.6 .6l.6-.7l.6 .5l.6 .3l.6 .4l.6 0l.6-.1l.6-.1l.6-1.1l.6 .3l.6-.1l.6 .3l.6 .1l.6-.5l.6 .3l.6 1l.6-.9l.6-1l.6 .9l.6 0l.6-.1l.6 1.5l.6-.7l.6 .2l.6-1.2l.6 .8l.6-.3l.6-.1l.6-.4l.7 17.3l.7-.8l.7 .8l.7-.1l.7 .5l.7-.4l.7 .9l.7-.7l.7 .1l.7 1.1l.7-.5l.7-.7l.7 .5l.7-1.1l.7 .4l.7 .2l.7-.5l.7-.1l.7 .7l.7-.6l.7-.1l.7 .2l.7-.1l.7 .8l.7-.1l.7-.8l.7 1.5l.7-.1l.7-.6l.7-.3l.7 .6l.7-.4l.7 .7l.7-.2l.7 .5l.7-1.2l.7 .4l.7 .4l.7-.3l.7 0l.7-.5l.7 1.4l.7-1.1l.7 .4l.7-.8l.7 .1l.7 .2l.7 .9l.7-.2l.7 .3l.7-.2l.7 .1l.7-.6l.7-.3l.7 1.1l.7-1l.7 .5l.7-.3l.7-.2l.7 .7l.7-.4l.7 .2l.7 .6l.7-.4l.7 .6l.7-.7l.7 .2l.7-.8l.7 .9l.7-1.6l.7 1l.7 .1l.7-1.5l.7 .4l.7-.1l.7 .8l.7 0l.7 0l.7 .6l.7 .6l.7-1.3l.7 .5l.7-.1l.7 .5l.7-1.5l.7 .2l.7 .3l.7 0l.7 .8l.7-.3l.7-.7l.7 .6l.7-.5l.7 .5l.7 .2l.7-.3l.7 .9l.7 .4l.7-1l.7-1l.7 1.3l.7 .4l.7-1.1l.7 0l.7 .6l.7-.3l.7 .6l.7-.2l.7-.6l.7 .1l.7 .2l.7-.2l.7 1l.7-.2l.7-.3l.7 .3l.7-.4l.7 .5l.7 .3l.7-.7l.7-.4l.7-.2l.7 1.5l.7-.7l.7-.6l.7 .1l.7-.4l.7 1.3l.7-.5l.7-.4l.7-.4l.7 1.7l.7-.9l.7-1.3l.7 .9l.7 .4l.7 .1l.7-.6l.7 .9l.7-.2l.7-.2l.7-.4l.7-.5l.7 .7l.7 .1l.7-.4l.7 .8l.7 .1l.7-.6l.7 .2l.7 0l.7 .9l.7-.1l.7-1.5l.7 .6l.7 1.5l.7-1.4l.7 1.1l.7-.4l.7 .3l.7-.7l.7 .4l.7 .1l.7-.4l.7-.1l.7 .6l.7-.7l.7 .6l.7-.8l.7 .1l.7 .4l.7-.3l.7 .4l.7-.4l.7 .1l.7-.1l.7-.5l.7 .5l.7 .6l.7-.5l.7 .2l.7 .4l.7-1l.7 .5l.7-.4l.7 .8l.7-1.2l.7 .8l.7-.1l.7 0l.7 0l.7 1.2l.7-.9l.7 .1l.7-.6l.7-.2l.7 .2l.7-.4l.7 .8l.7-.3l.7 0l.7 .1l.7-.3l.7-.2l.7 .2l.7 .6l.7-.1l.7-.3l.7 1.1l.7-.6l.7 .3l.7 .3l.7-1.1l.7 .9l.7-.3l.7 0l.7-.8l.7 .3l.7 .4l.7-.1l.7 .8l.7-.9l.7 .2l.7-.2l.7-.4l.7 .4l.7 .2l.7 .8l.7-.2l.7-.8l.7-.2l.7 .4l.7-.3l.7 1.4l.7-.7l.7-.4l.7-.1l.7-.3l.7 .5l.7-1.1l.7 1l.7 0l.7 1l.7-1.5l.7 1.2l.7-.6l.7 .5l.7-.7l.7 .4l.7 .2l.7 .9l.7-1.5l.7 .3l.7 0l.7-.2l.7 .2l.7 .1l.7-.2l.7-.5l.7 .9l.7-.8l.7 .6l.7 .5l.7-1l.7 .5l.7 .1l.7-.1l.7-.2l.7 .1l.7 .4l.7-.8l.7 .4l.7 .4l.7-.6l.7-.3l.7 .9l.7 0l.7 .1l.7 14.9l.7-2.4l.7-1.1l.7-.1l.7-1.3l.7 .3l.7 .3l.7 .5l.7-.4l.7 0l.7 .1l.7 0l.7 .2l.7-.5l.7-.1l.7 0l.7 .2l.7 .2l.7-.4l.7-.2l.7 .6l.7-.3l.7 .1l.7-.4l.7-.3l.7 .3l.7-.4l.7 .4l.7-.8l.7 .2l.7-.3l.7-.3l.7 .6l.7-.2l.7 .3l.7 .1l.7 1.2l.7-1.2l.7 .6l.7-.1l.7 .3l.7-.4l.7 .1l.7 .6l.7-.2l.7-1.3l.7 .4l.7 0l.7-.5l.7 .7l.7 .2l.7-.3l.7 .4l.7 .6l.7-.6l.7 .7l.7 .4l.7-1.9l.7 .8l.7 .4l.7-.5l.7-.4l.7 .7l.7-.2l.7-1l.7 1l.7-.2l.7 .3l.7-.3l.7 .6l.7-.1l.7-.5l.7 0l.7 .7l.7-.3l.7-1.2l.7 .6l.7-.5l.7-.1l.7 .4l.7 .6l.7-.2l.7-.4l.7 .5l.7 0l.7 .2l.7-.4l.7 .2l.7 0l.7 .1l.7-.7l.7 .8l.7-.3l.7 0l.7-.5l.7 .4l.7 .6l.7-.9l.7-.3l.7 .6l.7 0l.7-.1l.7-.6l.7 .9l.7 .3l.7-1.7l.7 1.4l.7 .3l.7-.5l.7-.6l.7 .8l.7 .8l.7-.7l.7 .4l.7-.8l.7-.1l.7-.4l.7 .7l.7-.9l.7 .3l.7 .2l.7 .1l.7 .1l.7-.5l.7 .1l.7 1.2l.7-.5l.7 .1l.7-.3l.7 .2l.7-.1l.7 .5l.7 0l.7-.4l.7 .1l.7-.2l.7-.1"/>
<path d="M149.7 492.7l.7-.4l.7 .3l.7-.5l.7 .1l.7-.3l.7-.6l.7 .7l.7-.1l.7-.3l.7 .3l.7 .9l.7-.8l.7 .5l.7 .5l.7 0l.7-.2l.7-.7l.7 .9l.7-.4l.7-.6l.7 .7l.7-.6l.7-.6l.7-.2l.7 .6l.7-.1l.7 .3l.7-.1l.7-.2l.7 .5l.7 .1l.7-.6l.7 .7l.7 .1l.7-.1l.7-.1l.7-.5l.7-.2l.7 0l.7-.2l.7 .9l.7-.5l.7 .2l.7 .7l.7 .1l.7 .6l.7-1.1l.7 .9l.7-.8l.7 .3l.7 .1l.7 0l.7-.2l.7 .1l.7 .3l.7-1.1l.7 .4l.7 .1l.7 .6l.7 .1l.7-.2l.7 .5l.7-.7l.7-.5l.7 .5l.7 .4l.7-.1l.7-.9l.7 .1l.7 .3l.7-.2l.7-.1l.7-.1l.7 .8l.7-.2l.7-.4l.7-.2l.7 .1l.7-.2l.7 .1l.7 .3l.7-.5l.7 .3l.7-.1l.7-.5l.7 .1l.7-.9l.7 1.1l.7 0l.7 .5l.7-.5l.7 .2l.7-.2l.7 1.3l.7-.6l.7 .5l.7-.4l.7 .1l.7-.7l.7 .2l.7-.1l.7-.2l.7 .4l.7 .3l.7-.1l.7-.9l.7 .1l.7 .6l.7 .4l.7-.5l.7 .3l.7 .6l.7-.4l.7-.1l.7-.5l.7 .2l.7 0l.7 .2l.7-1l.7 .6l.7-.3l.7-.1l.7 1l.7-.5l.7-.8l.7 .3l.7 .5l.7-.5l.7 .6l.7 .2l.7-.8l.7 .7l.7 .1l.7-.2l.7 .2l.7-.3l.7-.1l-.1-14.5l.7-9.4l.4-14.1l.2-56.4l.4-94l.4-78.3l.4-31.3l.5-11l.7-4.7l.4 3l.6 4.3l.6 4.4l.6 4.3l.6 4.1l.6 4.2l.6 4.2l.6 3.9l.6 4l.6 4.1l.6 3.8l.6 4l.6 3.8l.6 3.7l.6 3.7l.6 3.7l.6 3.3l.6 3.7l.6 3.1l.6 3.3l.6 3.3l.6 3.1l.6 3l.6 3.2l.6 2.9l.6 2.8l.6 2.9l.6 2.8l.6 2.6l.6 2.9l.6 2.5l.6 2.5l.6 2.9l.6 2.3l.6 2.5l.6 2.5l.6 2.4l.6 2.7l.6 2.2l.6 2.3l.6 2.3l.6 2.4l.6 1.9l.6 2.5l.6 2.2l.6 2.2l.6 2.3l.6 2.1l.6 2l.6 2.4l.6 2.1l.6 2.3l.6 1.9l.6 2.3l.6 2.1l.6 2.1l.6 2.1l.6 1.7l.6 2.2l.6 1.7l.6 1.7l.6 1.9l.6 1.4l.6 1.7l.6 1.4l.6 1.2l.6 1.6l.6 1.2l.6 1.3l.6 1.3l.6 1.4l.6 .9l.6 1.4l.6 .8l.6 1.5l.6 .8l.6 1.2l.6 1.4l.6 .8l.6 1.6l.6 .7l.6 1.7l.6 .9l.6 1l.6 1.2l.6 1l.6 1.6l.6 .6l.6 .8l.6 1.3l.6 .8l.6 1.1l.6 .9l.6 1l.6 1.3l.6 .8l.6 1.2l.6 .6l.6 1l.6 .8l.6 1.4l.6 1l.6 .3l.6 1.2l.6 .1l.6 .9l.6 1.4l.6 0l.6 2.3l.6 .2l.6 1l.6 .2l.6 .3l.6 .9l.6 .8l.6 1.3l.6 .1l.6 .8l.6 1.5l.6-.3l.6 .9l.6 1.4l.6 1.1l.6-.8l.6 .4l.6 1.3l.6 1l.6 .5l.6 .5l.6 .3l.6 1.5l.6 .1l.6 .5l.6 .9l.6 1.2l.6 .1l.6 1.6l.6-.6l.6 .9l.6-.5l.6 1.1l.6 .8l.6 .3l.6 .5l.6 .6l.6 .3l.6 .6l.6 .8l.6 .6l.6-.2l.6 .8l.6 .2l.6 1.3l.6 .8l.6-.3l.6 .5l.6 .2l.6 .8l.6 .1l.6-.2l.6 1.7l.6 .8l.6-.3l.6 0l.6 .6l.6 1l.6-.7l.6 1l.6 .1l.6-.7l.6 1.2l.6 .9l.6 .2l.6 .2l.6-.2l.6 1.2l.6 .1l.6 .4l.6 1l.6-.8l.6 .8l.6 0l.6 1.5l.6-.8l.6 1.3l.6-1.7l.6 .1l.6 1.1l.6-.1l.6 1l.6 0l.6 .4l.6-.6l.6 .6l.6 .7l.6-.7l.6 .6l.6 1.1l.6-.4l.6 .3l.6 .7l.6-.2l.6-.9l.6 .9l.6 0l.6 .3l.6 1.4l.6-.5l.6-.5l.6-.3l.6 .8l.6 0l.6 .7l.6-.4l.6 .5l.6-.6l.6 .7l.6 .2l.6-.3l.6 1.1l.6-.2l.6 .2l.6 .1l.6 .3l.6-.9l.6 1.6l.6 .1l.6 .3l.6 .5l.6-.5l.6-.5l.6 .8l.6-.9l.6 .5l.6-1.3l.6 1.1l.6 .5l.6 .8l.6-.3l.6 .2l.6-.6l.6 .2l.6 .7l.6-.7l.6 .2l.6 .2l.6-1.4l.6 .2l.6 1.6l.6-1.1l.6 1.2l.6-.5l.6-.4l.6 .8l.6-.7l.6 .6l.6-.5l.6 0l.6 .5l.6 0l.6 .3l.6-.2l.6 .9l.6 .4l.6 0l.6-.8l.6 1.6l.6-1.4l.6 1.4l.6 .1l.6 .4l.6-.6l.6 .3l.6 .9l.6 0l.6-1.7l.6 .4l.6-.2l.6-1.2l.6 1.9l.6-1.1l.6 .2l.6 .2l.6-.7l.6 1.2l.6-.5l.6-.3l.6 1.2l.6 0l.6-.4l.6 .7l.6 1.5l.6-.5l.6-.1l.6-.3l.6 1.2l.6-1.4l.6-.9l.6 1.8l.6-1l.6-.7l.6 .4l.6 .1l.6-.6l.6 1.1l.6 .2l.6 1.7l.6-1l.6-.3l.6 .1l.6 .2l.6 .8l.6 0l.6-2l.6 0l.6 .8l.6 1.3l.6-1.6l.6 .7l.6-1l.6 .3l.6 .2l.6 .6l.6-1.3l.6 .3l.6 .4l.6 .4l.6-.5l.6-.1l.6 .5l.6-.2l.6-.6l.6 .1l.6 .2l.6-.2l.6-.3l.6 .2l.6 .3l.6-.7l.6 2.9l.6-1.3l.6-.6l.6-.1l.6 1l.6-1.5l.6 .4l.6 1.3l.6-.9l.6 .4l.6-.4l.6 .1l.6-.5l.6 1l.6-.2l.6-.2l.6-.1l.6 1.1l.6-.5l.6 .2l.6-.6l.6-.4l.6 1.6l.6-.8l.6 .1l.6 .7l.6 .6l.6-1l.6 0l.6-.1l.6 .1l.6-.5l.6-1.2l.6 1.7l.6-.9l.6 1.4l.6-1.7l.6 .4l.6-.3l.6 .3l.6 1.2l.6-1.3l.6 .7l.6-.1l.6-.2l.6 .4l.6-.4l.6-.2l.6-.7l.6 1.2l.6 1.9l.6-2.3l.6 .6l.6-.5l.6 2.4l.6-3l.6 .5l.6-.6l.6 1.7l.6-.4l.6 .8l.6-.2l.6 .8l.6 .1l.6-.3l.6-2.4l.6 1.4l.6 .7l.6 .5l.6-2.1l.6 2.6l.6-.4l.6 .5l.6-1.6l.6 .4l.6-.3l.6 .5l.6-.1l.6-1l.6 1.7l.6-.3l.6-.8l.6-.7l.6 2l.6-2.1l.6 .6l.6-.1l.6 .4l.6 .7l.6 .4l.6 0l.6-.8l.6 1.5l.6-.2l.6-.3l.6 1l.6-1.9l.6 .2l.6 0l.6-.1l.6 .6l.6-.1l.6-.6l.6 .9l.6-.6l.6-.2l.6-.1l.6-.4l.6 .7l.6-.6l.6 .5l.6 .3l.6 .1l.6-.7l.6 1.2l.6-2l.6 1.2l.6-.3l.6 .1l.6-.6l.6-.3l.6 1l.6-1.2l.6 1.2l.6-.8l.6-.2l.6 1.4l.6-.2l.6 1.2l.6-2.1l.6 1.2l.6-.4l.6 .4l.6-.1l.6-.8l.6 1.5l.6-.1l.6-.1l.6 .1l.6 .7l.6-.2l.6 0l.6-.9l.7 14.5l.7 1l.7 0l.7 .5l.7-1.9l.7 .8l.7-.8l.7 1l.7 .2l.7 .5l.7 0l.7-.4l.7-.1l.7 .8l.7 1.1l.7-1.9l.7 .6l.7 .1l.7 .5l.7-.4l.7 .6l.7-.9l.7 .5l.7 1.2l.7-1.7l.7 .4l.7 .7l.7-1.9l.7-.4l.7-.2l.7 1.1l.7 .2l.7-.5l.7-.3l.7 .5l.7-.3l.7 .5l.7 .5l.7-.9l.7 1l.7-.3l.7 .2l.7 .2l.7 .5l.7-1l.7-.5l.7 1.6l.7 .2l.7-.8l.7 .5l.7-1.1l.7-.1l.7 .3l.7 0l.7 .3l.7-.1l.7 .2l.7 0l.7 .4l.7 0l.7-.3l.7 .1l.7-.8l.7 0l.7-.6l.7 .2l.7 1.2l.7-.2l.7-.1l.7 .1l.7-.4l.7-.5l.7 .8l.7 .5l.7-1.2l.7 1.7l.7-.9l.7 .4l.7 .2l.7-.1l.7-.6l.7 .7l.7-.1l.7-.9l.7 .4l.7-.7l.7 .6l.7-.3l.7 .5l.7 .5l.7 .1l.7-.4l.7 .2l.7 .4l.7 1.2l.7-1.1l.7 .3l.7-1l.7 .7l.7-.6l.7 .4l.7 .5l.7 .5l.7-.7l.7 .1l.7-.2l.7 0l.7 .3l.7 .4l.7-.6l.7-.2l.7 .2l.7 .1l.7-.8l.7 .6l.7-1.3l.7 1l.7-.8l.7 .2l.7 1l.7-.5l.7-1l.7 .2l.7 .6l.7 .2l.7-.6l.7-.3l.7-.2l.7-1l.7 1.9l.7-.9l.7 .7l.7-.4l.7 .1l.7-.3l.7 1.2l.7 0l.7-.2l.7 0l.7-.3l.7-.5l.7 0l.7-.1l.7-1.4l.7 .9l.7 .3l.7 .7l.7 .4l.7 .2l.7-1l.7 .3l.7 .1l.7 .2l.7-.1l.7 0l.7 .5l.7-1l.7 .8l.7-.6l.7 1.1l.7 0l.7-1.1l.7-.2l.7 .9l.7 .2l.7-1.2l.7 .1l.7 .4l.7-.4l.7 1.2l.7-.3l.7 .1l.7-.6l.7 1l.7-1l.7 .4l.7 .2l.7 .1l.7-.6l.7 .3l.7 .5l.7-.1l.7 .3l.7 .9l.7-.4l.7 .4l.7-.3l.7-.5l.7 1l.7-1.3l.7 0l.7-.1l.7 1.9l.7-1.7l.7 .5l.7-1.2l.7 0l.7 .9l.7-.2l.7 .2l.7 .3l.7-.4l.7-.1l.7 .3l.7-.2l.7 .2l.7 .4l.7-.9l.7 .5l.7 .3l.7-.4l.7 .4l.7 .9l.7-.2l.7 .9l.7-.3l.7-.9l.7-.6l.7 .3l.7 .7l.7-2.1l.7 1.4l.7 .8l.7-.6l.7-.1l.7-.3l.7-.8l.7 1.5l.7-.7l.7 .2l.7-.4l.7 .9l.7-.8l.7-.2l.7-.4l.7-.4l.7 .6l.7 .3l.7-.3l.7-1l.7 .9l.7 1.3l.7-1.1l.7 .4l.7-.9l.7 .8l.7-.2l.7 .8l.7-.2l.7-.1l.7 .1l.7-.7l.7 1.1l.7-.9l.7 .6l.7 .6l.7-1.3l.7 .4l.7-.2l.7 .2l.7 .1l.7-.2l.7 0l.7 .3l.7-1.1l.7 .4l.7 .1l.7-.4l.7 .9l.7-.4l.7-.2l.7-.3l.7 .3l.7 .7l.7-.8l.7 .9l.7 0l.7-.1l.7 16.2l.7-1.6l.7-1.7l.7 .4l.7-1.2l.7 1l.7-.9l.7-.9l.7 .6l.7-.4l.7 .8l.7-.5l.7 .5l.7-.7l.7 0l.7 .1l.7-.3l.7-.4l.7 .9l.7 .4l.7-.7l.7-.1l.7 .3l.7 .4l.7-.3l.7 .4l.7 .4l.7-.7l.7 .1l.7 0l.7 .8l.7-.9l.7 0l.7 .1l.7 .6l.7-.2l.7-.7l.7 1.1l.7-.2l.7 .3l.7-.4l.7 0l.7-.6l.7 .7l.7 .2l.7-.8l.7-.1l.7 .1l.7-.3l.7 .1l.7-.3l.7 0l.7 .5l.7-1.2l.7 1.1l.7-.6l.7 .4l.7-.2l.7 .2l.7-.6l.7 .4l.7-.7l.7 .2l.7 .3l.7 .5l.7-.7l.7 1l.7-.5l.7 .6l.7-.9l.7 .5l.7-.1l.7-.1l.7-.2l.7 .4l.7-.5l.7 1.1l.7-.6l.7 .1l.7-.7l.7 1.3l.7-.1l.7-1l.7 .3l.7 .5l.7 .7l.7-1.2l.7 .3l.7-.3l.7 .8l.7 .1l.7-.6l.7 .6l.7-.6l.7-.3l.7 .6l.7 .2l.7-.1l.7-.4l.7 .7l.7-.5l.7 .1l.7 .7l.7-.9l.7-.2l.7-.3l.7 .2l.7-.6l.7 .3l.7-.1l.7 .2l.7-.5l.7 .4l.7-.1l.7 .5l.7 .1l.7 .2l.7-.7l.7-.3l.7 .9l.7-.1l.7-.1l.7 .8l.7 .4l.7-.6l.7-.5l.7 .1l.7-.2l.7 .9l.7-1.3l.7 0l.7 .4l.7-.4l.7-.2l.7 1.3l.7 .1l.7-1.3"/>
<path d="M149.7 493.7l.7 0l.7-.3l.7 .7l.7-.6l.7-.3l.7 .2l.7 0l.7-1.2l.7 .7l.7-.1l.7-.3l.7-.1l.7 .6l.7-.6l.7-.2l.7 .3l.7-.6l.7 1.4l.7-.9l.7 0l.7-.2l.7 .3l.7 0l.7 .2l.7 0l.7-.6l.7 1.2l.7-.2l.7-.1l.7-.2l.7 0l.7-.6l.7 1.5l.7-1.4l.7-.1l.7 1l.7-.9l.7 .3l.7-.2l.7 .4l.7 .3l.7-.2l.7-.5l.7 .8l.7-.5l.7-.2l.7 .9l.7-.1l.7-.1l.7-.2l.7 .7l.7-.4l.7-.3l.7 .5l.7-.2l.7-.7l.7 .8l.7-.9l.7 .3l.7 .6l.7-.1l.7 .5l.7-.2l.7-1l.7 1.6l.7-.8l.7-.1l.7-.4l.7-.1l.7 .4l.7-.3l.7 0l.7-.4l.7 .8l.7-.6l.7 .1l.7-.2l.7 .1l.7 .3l.7 .2l.7 .2l.7-.4l.7-.1l.7-.4l.7 .3l.7-.2l.7-.3l.7 .4l.7 0l.7-.3l.7-.4l.7 .6l.7 .3l.7 .2l.7-.4l.7 0l.7-.4l.7 .6l.7-.3l.7 .5l.7-.8l.7 .7l.7-.7l.7-.1l.7 0l.7 .2l.7 .1l.7-.8l.7 .5l.7 .6l.7 .2l.7-.3l.7-.3l.7 .8l.7-.2l.7 .1l.7 .4l.7-.6l.7 0l.7 .3l.7-.1l.7-.7l.7 .1l.7-.4l.7 1l.7-.5l.7-.1l.7-.1l.7-.4l.7 .7l.7-.6l.7 .4l.7-.2l.7 0l.7 .2l.7-.3l.7 .3l.1-14.9l.7-9.5l.4-14.3l.2-57.1l.4-95.1l.4-79.3l.4-31.7l.5-11.1l.5-4.8l.4 2.9l.6 4.7l.6 4.2l.6 4.5l.6 4.2l.6 4.2l.6 4.3l.6 4.1l.6 4l.6 4l.6 4l.6 3.9l.6 4l.6 3.5l.6 4.1l.6 3.5l.6 3.5l.6 3.7l.6 3.4l.6 3.3l.6 2.9l.6 3.2l.6 3.3l.6 2.9l.6 3.1l.6 2.8l.6 2.9l.6 2.8l.6 2.8l.6 2.6l.6 2.8l.6 2.5l.6 2.8l.6 2.4l.6 2.6l.6 2.5l.6 2.4l.6 2.4l.6 2.5l.6 2.3l.6 2.5l.6 2.2l.6 2.2l.6 2.5l.6 2.2l.6 2.4l.6 2.2l.6 2l.6 2.4l.6 2.2l.6 2.2l.6 2.3l.6 2.3l.6 2l.6 2.2l.6 2.2l.6 2.1l.6 1.9l.6 2.1l.6 1.9l.6 1.6l.6 1.8l.6 1.4l.6 1.7l.6 1.3l.6 1.4l.6 1.2l.6 1.5l.6 1.3l.6 1.2l.6 1.2l.6 1.2l.6 1.1l.6 1.2l.6 1.2l.6 1l.6 1.3l.6 .8l.6 1l.6 1.6l.6 .8l.6 1.3l.6 .9l.6 1l.6 1.1l.6 1.2l.6 1.6l.6 .6l.6 1.3l.6 .9l.6 1.2l.6 .7l.6 1.6l.6 .8l.6 .8l.6 1.3l.6 .3l.6 1.2l.6 1.2l.6 1.3l.6 .3l.6 1.6l.6 .7l.6 .2l.6 1.3l.6 1l.6 .2l.6 1.6l.6-.2l.6 1.8l.6 .7l.6 1l.6 .4l.6 .6l.6 .1l.6 1.9l.6 .4l.6 .8l.6 .2l.6 .1l.6 1.7l.6 .2l.6 .9l.6 .9l.6 0l.6 1.4l.6 .2l.6 .7l.6 1.2l.6-.2l.6 .9l.6 .8l.6 1.1l.6 .2l.6 .9l.6 0l.6 .4l.6 1.1l.6 1.3l.6 .2l.6 .1l.6 .5l.6 1.3l.6 .3l.6-.4l.6 .3l.6 2.1l.6-.2l.6 .4l.6 .6l.6 .3l.6 .4l.6 .5l.6-.4l.6 1.2l.6 .3l.6 1.2l.6 .3l.6-.2l.6 .5l.6 .4l.6 1.3l.6 .1l.6-.4l.6 1.3l.6-.7l.6 1.4l.6 .1l.6-.3l.6 .6l.6 .5l.6 .9l.6 .6l.6-1.2l.6 .7l.6 1.1l.6 0l.6 .3l.6 .3l.6 .1l.6 .5l.6-.3l.6-.6l.6 1.6l.6-.1l.6-.2l.6 1.3l.6-.4l.6 .8l.6-.8l.6 1.5l.6-.1l.6 .6l.6-.4l.6 .3l.6 1l.6-.1l.6-.2l.6-.2l.6 1.2l.6-.6l.6 .8l.6-.3l.6 .8l.6 .2l.6-.2l.6 .7l.6-.5l.6 1.5l.6-.8l.6 .2l.6 .5l.6 .2l.6 0l.6 .3l.6-.3l.6 .3l.6 .2l.6-.1l.6-.4l.6 1.3l.6 1.1l.6-1.4l.6 1.2l.6-.6l.6 .2l.6-.2l.6 .3l.6 .3l.6 .5l.6 .3l.6 1.8l.6-1.8l.6 .5l.6 .5l.6-1.7l.6 .1l.6 2l.6-1.2l.6 .9l.6-1.2l.6 1.1l.6 .4l.6 .5l.6 .2l.6-1.3l.6 1l.6-.6l.6 0l.6-.3l.6 0l.6-.8l.6 .4l.6-.9l.6 .8l.6 1.5l.6-1.8l.6 1.6l.6-1.5l.6 .3l.6 .7l.6 .1l.6 .8l.6 .1l.6-.6l.6 0l.6 .5l.6-.1l.6 .6l.6-2.1l.6 1.8l.6-.1l.6-.1l.6-.5l.6-.1l.6 .2l.6 1.5l.6-.6l.6 .2l.6 .4l.6 .1l.6 .1l.6-.4l.6-.2l.6-.6l.6 .5l.6 0l.6-.4l.6 .1l.6 1.1l.6-.5l.6-.4l.6 .6l.6-.2l.6 .8l.6-.7l.6 1.1l.6-.7l.6-.4l.6-.4l.6 .7l.6-.5l.6-.5l.6 .7l.6 .2l.6 .3l.6-1l.6 .9l.6 1.1l.6-.1l.6-.5l.6 1l.6-1.1l.6 .8l.6-.3l.6-.2l.6 .6l.6 1l.6-1.6l.6 .4l.6 1.5l.6-1.6l.6 .3l.6-.1l.6 .2l.6 .9l.6-.9l.6 0l.6 .4l.6 .8l.6 .1l.6-1.1l.6 .5l.6 .5l.6-.5l.6 0l.6-1.2l.6-.6l.6 1.5l.6-1.3l.6 1l.6-1.1l.6-.1l.6 .7l.6-.5l.6 .7l.6-.1l.6-.1l.6 1.3l.6-.7l.6-.4l.6 .9l.6-.3l.6 0l.6-.6l.6 .4l.6 1.7l.6-1l.6 .4l.6 1.3l.6-1.4l.6 1.3l.6-2.3l.6 .8l.6-.9l.6 1.2l.6 0l.6-.2l.6 0l.6 2.2l.6-1.6l.6-.2l.6-.6l.6-.2l.6 .6l.6-.4l.6 .4l.6-.1l.6-.6l.6 1.4l.6 .2l.6 0l.6 .1l.6 .7l.6-1.3l.6 .7l.6 .5l.6-.8l.6 .9l.6-1.3l.6 0l.6-.2l.6 .2l.6 1.8l.6 .2l.6-1l.6 .2l.6 .4l.6-.7l.6 .6l.6 .2l.6-.8l.6 .9l.6-.4l.6 .1l.6-.2l.6-1.4l.6 1.4l.6-.4l.6 .6l.6-.1l.6-.9l.6 1.2l.6-1.8l.6 .6l.6 .2l.6 1.2l.6-1l.6 .4l.6-.1l.6 1l.6-1.5l.6-.4l.6 .5l.6 .6l.6 .7l.6-2.1l.6 .6l.6 1l.6-.9l.6-.3l.6 .1l.6-.4l.6 0l.6 .8l.6-.5l.6 1.3l.6-2.4l.6 1.9l.6-1.1l.6 1.9l.6-1.9l.6 1.2l.6 .9l.6-.6l.6-.9l.6 .2l.6 .2l.6 .8l.6-1.1l.6-.1l.6-.3l.6 .5l.6 .7l.6-1l.6 .1l.6 .3l.6 1l.6-.3l.6-.6l.6-.6l.6-.5l.6 2.3l.6-1.2l.6 .8l.6-.1l.6-1l.6-.6l.6 1.5l.6-1.9l.6-.3l.6 2.9l.6-1.3l.6 .6l.6 .2l.6 .7l.6-2.1l.6 .7l.6 .6l.6-.4l.6-.6l.6 .9l.7 14.9l.7-1.5l.7 1.2l.7-.3l.7 .6l.7 .1l.7 .9l.7-.9l.7-.3l.7 0l.7 .6l.7 .3l.7 1.3l.7-1.7l.7 .6l.7 .8l.7-1l.7 .2l.7-1.2l.7-.1l.7 .7l.7-1.1l.7 .8l.7-1l.7 0l.7 .7l.7-.5l.7 .4l.7 1.1l.7-.7l.7 .4l.7 1l.7-1l.7 .8l.7-.4l.7-.2l.7 .9l.7 .1l.7-.2l.7-.5l.7 .4l.7-.1l.7 .1l.7 .3l.7-1.2l.7 .4l.7-.5l.7 .3l.7-.4l.7 .5l.7-.8l.7 .7l.7-.2l.7 .3l.7 .6l.7 0l.7 .5l.7 .3l.7-.4l.7 .9l.7-.1l.7-.9l.7 .3l.7 .1l.7 .4l.7 .1l.7-.1l.7-.2l.7 .4l.7 .4l.7-.1l.7-.1l.7-.5l.7-.1l.7 .3l.7-.6l.7-.1l.7 .4l.7 .2l.7-1.3l.7 1.4l.7-1.3l.7 1.1l.7-.7l.7-.4l.7-.3l.7-.4l.7-.2l.7 .4l.7 .2l.7-.6l.7 .8l.7-1.1l.7-.1l.7 .7l.7 .7l.7-.9l.7 .5l.7 1l.7-1l.7 .7l.7 .2l.7-.6l.7 .2l.7 0l.7 .5l.7-1.2l.7 .1l.7 0l.7-.3l.7 .4l.7-.3l.7 1.1l.7-.4l.7 .5l.7-.3l.7 .7l.7-1.3l.7 .3l.7 .2l.7 .3l.7 .4l.7 .2l.7-1.1l.7 .4l.7 .2l.7 .3l.7-.6l.7-.1l.7 .2l.7 .3l.7-1.5l.7 .3l.7 .7l.7-.2l.7-.1l.7 1.1l.7-1.5l.7 1l.7 .8l.7-1l.7 1.7l.7-.8l.7-.2l.7 .6l.7-.7l.7-1.4l.7 1l.7-.6l.7-.7l.7 .9l.7-.5l.7 .2l.7 1.7l.7-.8l.7 .4l.7 .2l.7-1l.7 1.5l.7-1.5l.7 .2l.7 .5l.7-.5l.7 .9l.7-.8l.7 .3l.7-.1l.7-.4l.7 .5l.7 .1l.7 .2l.7-.5l.7 .5l.7-.5l.7 .1l.7 .8l.7-.7l.7 1.2l.7-1.4l.7-.3l.7 .4l.7 .4l.7-.1l.7-.1l.7-.1l.7 .4l.7 0l.7-.8l.7 .3l.7 .3l.7 1.3l.7-.3l.7 0l.7-.9l.7 .1l.7-1l.7-.5l.7 .8l.7-.1l.7-.1l.7-.6l.7 .9l.7 .2l.7 .1l.7 .6l.7-.8l.7 .6l.7-.6l.7 .2l.7-.1l.7-.3l.7 .1l.7 .1l.7-.9l.7 1.5l.7-.2l.7 .1l.7 .6l.7-.9l.7 .2l.7 .4l.7-.6l.7-.3l.7 1.1l.7-.8l.7 .6l.7-.1l.7-.8l.7 .5l.7-.5l.7 .7l.7-.3l.7 .4l.7 .5l.7-.5l.7-.2l.7 .3l.7 .1l.7-.2l.7 .3l.7-.8l.7 .1l.7 .6l.7 .4l.7-.2l.7-.5l.7 .6l.7-.5l.7 .7l.7-.4l.7-.2l.7-.6l.7 1.1l.7-.3l.7 .2l.7-.7l.7-.2l.7 1.1l.7-.5l.7-1.2l.7 1.4l.7-.7l.7 1.2l.7 0l.7-1.4l.7 1l.7-.2l.7 .2l.7-.9l.7 0l.7 1l.7-1.3l.7 .9l.7 .3l.7 .1l.7-.2l.7 .9l.7-.6l.7 18.4l.7-2l.7-1.4l.7-.6l.7-.3l.7 0l.7-1l.7 .4l.7-.3l.7-.5l.7 1.5l.7-1.1l.7 .4l.7-.3l.7 .2l.7 .1l.7 0l.7 .1l.7 .5l.7-.2l.7 .5l.7-.8l.7-.8l.7 0l.7 .8l.7-.6l.7-.1l.7 .8l.7-1.1l.7 0l.7 .6l.7 .4l.7 0l.7-.7l.7 .4l.7-.8l.7 .6l.7-1.2l.7 .6l.7 .6l.7 0l.7 0l.7-1.5l.7 2.2l.7-.1l.7 .6l.7-1l.7 .5l.7-.1l.7-.4l.7 .4l.7-.3l.7 .1l.7-.2l.7-.1l.7-.1l.7 .2l.7 .4l.7-.1l.7 0l.7 .2l.7-.6l.7-.1l.7-.4l.7 1l.7 0l.7-.7l.7-.1l.7-.6l.7 .4l.7 .5l.7-.3l.7-.6l.7 .6l.7 0l.7 .4l.7 .5l.7-.4l.7 0l.7 .1l.7-.6l.7 .3l.7-.4l.7 .4l.7 .2l.7-.1l.7-.1l.7-.2l.7 0l.7 .6l.7-.3l.7-.4l.7 .6l.7-.5l.7-.3l.7 .4l.7-.2l.7 .1l.7 .6l.7-.7l.7-.1l.7 .5l.7-1.2l.7 .4l.7-.1l.7 .3l.7 .9l.7-1.6l.7 1.2l.7-1l.7 .1l.7 .8l.7 .2l.7-.1l.7-.4l.7 .7l.7-.8l.7 .6l.7 .7l.7-1.6l.7 .5l.7-.1l.7-.6l.7 .4l.7 .3l.7 .2l.7-.1l.7-.5l.7 .1l.7-.2l.7 .8l.7-.9l.7-.1l.7 .3l.7 .7l.7-.9l.7 1"/>
</g>
<path d="M122.5 47.6V526.5H856.2" fill="none" stroke="#262626" stroke-width="1.35" stroke-linecap="square"/>
<path d="M122.5 491.5h7.5M122.5 309.5h7.5M122.5 127.5h7.5M245.5 526.5v-7.5M489.5 526.5v-7.5M732.5 526.5v-7.5" fill="none" stroke="#262626" stroke-width="1.35"/>
<text x="158.38" y="46.85" font-size="21.90" font-weight="bold" fill="#000" stroke="#000" stroke-width="0.65" textLength="33.43" lengthAdjust="spacingAndGlyphs">Kv</text>
<text x="193.12" y="46.85" font-size="21.90" font-weight="bold" fill="#000" stroke="#000" stroke-width="0.40" textLength="12.60" lengthAdjust="spacingAndGlyphs">1</text>
<text x="206.87" y="46.85" font-size="21.90" font-weight="bold" fill="#000" stroke="#000" stroke-width="0.30" textLength="6.77" lengthAdjust="spacingAndGlyphs">.</text>
<text x="214.02" y="46.85" font-size="21.90" font-weight="bold" fill="#000" stroke="#000" stroke-width="0.65" textLength="13.74" lengthAdjust="spacingAndGlyphs">4</text>
<text x="245.56" y="46.85" font-size="21.90" font-weight="bold" fill="#000" stroke="#000" stroke-width="0.65" textLength="41.59" lengthAdjust="spacingAndGlyphs">Rat</text>
<text x="303.20" y="46.85" font-size="21.90" font-weight="bold" fill="#000" stroke="#000" stroke-width="0.65" textLength="51.02" lengthAdjust="spacingAndGlyphs">HEK</text>
<text x="370.23" y="46.85" font-size="21.90" font-weight="bold" fill="#000" stroke="#000" stroke-width="0.65" textLength="29.23" lengthAdjust="spacingAndGlyphs">25</text>
<text x="409.53" y="49.60" font-size="27.00" font-weight="bold" fill="#000" stroke="#000" stroke-width="0.50" textLength="10.76" lengthAdjust="spacingAndGlyphs">°</text>
<text x="420.05" y="46.85" font-size="21.90" font-weight="bold" fill="#000" stroke="#000" stroke-width="0.65" textLength="16.16" lengthAdjust="spacingAndGlyphs">C</text>
<text x="699.71" y="45.80" font-size="22.10" font-weight="normal" fill="#000" stroke="#000" stroke-width="0.25" textLength="140.54" lengthAdjust="spacingAndGlyphs">Deactivation</text>
<text x="88.35" y="140.15" font-size="35.40" font-weight="normal" fill="#262626" stroke="#262626" stroke-width="0.30" textLength="20.60" lengthAdjust="spacingAndGlyphs">6</text>
<text x="88.67" y="322.15" font-size="35.40" font-weight="normal" fill="#262626" stroke="#262626" stroke-width="0.30" textLength="19.58" lengthAdjust="spacingAndGlyphs">3</text>
<text x="88.62" y="504.15" font-size="35.40" font-weight="normal" fill="#262626" stroke="#262626" stroke-width="0.30" textLength="19.99" lengthAdjust="spacingAndGlyphs">0</text>
<text x="218.36" y="572.05" font-size="35.40" font-weight="normal" fill="#262626" stroke="#262626" stroke-width="0.30" textLength="20.01" lengthAdjust="spacingAndGlyphs">0</text>
<text x="238.88" y="572.05" font-size="35.40" font-weight="normal" fill="#262626" stroke="#262626" stroke-width="0.10" textLength="11.03" lengthAdjust="spacingAndGlyphs">.</text>
<text x="452.35" y="572.05" font-size="35.40" font-weight="normal" fill="#262626" stroke="#262626" stroke-width="0.30" textLength="20.28" lengthAdjust="spacingAndGlyphs">0</text>
<text x="472.88" y="572.05" font-size="35.40" font-weight="normal" fill="#262626" stroke="#262626" stroke-width="0.10" textLength="11.03" lengthAdjust="spacingAndGlyphs">.</text>
<text x="484.15" y="572.05" font-size="35.40" font-weight="normal" fill="#262626" stroke="#262626" stroke-width="0.30" textLength="18.98" lengthAdjust="spacingAndGlyphs">3</text>
<text x="505.58" y="572.05" font-size="35.40" font-weight="normal" fill="#262626" stroke="#262626" stroke-width="0.30" textLength="19.18" lengthAdjust="spacingAndGlyphs">5</text>
<text x="705.62" y="572.05" font-size="35.40" font-weight="normal" fill="#262626" stroke="#262626" stroke-width="0.30" textLength="20.02" lengthAdjust="spacingAndGlyphs">0</text>
<text x="726.01" y="572.05" font-size="35.40" font-weight="normal" fill="#262626" stroke="#262626" stroke-width="0.10" textLength="10.80" lengthAdjust="spacingAndGlyphs">.</text>
<text x="737.40" y="572.05" font-size="35.40" font-weight="normal" fill="#262626" stroke="#262626" stroke-width="0.30" textLength="20.49" lengthAdjust="spacingAndGlyphs">6</text>
<text x="454.57" y="615.50" font-size="35.40" font-weight="normal" fill="#262626" stroke="#262626" stroke-width="0.00" textLength="11.56" lengthAdjust="spacingAndGlyphs">t</text>
<text x="491.36" y="615.50" font-size="33.60" font-weight="normal" fill="#262626" stroke="#262626" stroke-width="0.10" textLength="16.91" lengthAdjust="spacingAndGlyphs">s</text>
<text transform="translate(70.70 333.77) rotate(-90)" font-size="34.60" font-weight="normal" fill="#262626" stroke="#262626" stroke-width="0.30" textLength="11.37" lengthAdjust="spacingAndGlyphs">I</text>
<text transform="translate(70.70 297.97) rotate(-90)" font-size="34.60" font-weight="normal" fill="#262626" stroke="#262626" stroke-width="0.30" textLength="42.19" lengthAdjust="spacingAndGlyphs">nA</text>
<text transform="translate(856.30 468.68) rotate(-90)" font-size="21.80" font-weight="normal" fill="#000" stroke="#000" stroke-width="0.25" textLength="44.52" lengthAdjust="spacingAndGlyphs">BBP</text>
<text transform="translate(856.30 419.24) rotate(-90)" font-size="21.80" font-weight="normal" fill="#000" stroke="#000" stroke-width="0.25" textLength="152.99" lengthAdjust="spacingAndGlyphs">Channelpedia</text>
<text transform="translate(856.30 257.99) rotate(-90)" font-size="21.80" font-weight="normal" fill="#000" stroke="#000" stroke-width="0.25" textLength="22.97" lengthAdjust="spacingAndGlyphs">ID</text>
<text transform="translate(856.30 226.36) rotate(-90)" font-size="21.80" font-weight="normal" fill="#000" stroke="#000" stroke-width="0.25" textLength="55.34" lengthAdjust="spacingAndGlyphs">6346</text>
<text transform="translate(856.30 162.83) rotate(-90)" font-size="21.80" font-weight="normal" fill="#000" stroke="#000" stroke-width="0.25" textLength="34.00" lengthAdjust="spacingAndGlyphs">rep</text>
<text transform="translate(856.30 119.48) rotate(-90)" font-size="21.80" font-weight="normal" fill="#000" stroke="#000" stroke-width="0.25" textLength="12.56" lengthAdjust="spacingAndGlyphs">2</text>
<path d="M480.9 591.1H488.0V593.6H484.0V617.6H488.0V620.1H480.9ZM518.0 591.1H511.1V593.6H514.9V617.6H511.1V620.1H518.0ZM46.0 308.9V302.0H48.3V306.0H72.8V302.0H75.1V308.9ZM46.0 245.8V252.7H48.3V248.7H72.8V252.7H75.1V245.8ZM259.1 547.7H262.8V569.6H268V572.3H253.6V569.6H259.1V551.4L253.9 552.6V549.6Z" fill="#262626"/>
</svg>
</body></html>
